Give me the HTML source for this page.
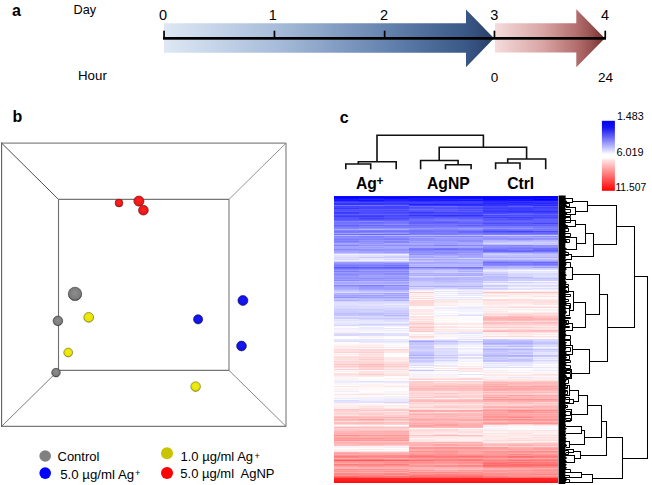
<!DOCTYPE html>
<html><head><meta charset="utf-8"><style>
html,body{margin:0;padding:0;background:#fff;width:652px;height:485px;overflow:hidden}
svg{display:block}
</style></head><body><svg width="652" height="485" viewBox="0 0 652 485"><defs>
<linearGradient id="gb" gradientUnits="userSpaceOnUse" x1="164" y1="0" x2="494" y2="0">
<stop offset="0" stop-color="#dee8f4"/><stop offset="0.33" stop-color="#a9bedb"/>
<stop offset="0.67" stop-color="#6684b0"/><stop offset="0.8" stop-color="#4d6c99"/><stop offset="0.915" stop-color="#3a5886"/><stop offset="1" stop-color="#283f69"/></linearGradient>
<linearGradient id="gr" gradientUnits="userSpaceOnUse" x1="495" y1="0" x2="605" y2="0">
<stop offset="0" stop-color="#f5dcdc"/><stop offset="0.45" stop-color="#d8a2a2"/>
<stop offset="0.74" stop-color="#b46e6e"/><stop offset="0.88" stop-color="#965050"/><stop offset="1" stop-color="#742c2c"/></linearGradient>
<linearGradient id="cb" x1="0" y1="0" x2="0" y2="1">
<stop offset="0" stop-color="#0000ee"/><stop offset="0.1" stop-color="#1515f0"/><stop offset="0.42" stop-color="#d8d8ff"/><stop offset="0.48" stop-color="#ffffff"/><stop offset="0.53" stop-color="#ffffff"/><stop offset="0.56" stop-color="#ffe4e4"/><stop offset="1" stop-color="#ff0000"/></linearGradient>
<radialGradient id="bR" cx="0.5" cy="0.45" r="0.55"><stop offset="0" stop-color="#ff2424"/><stop offset="0.8" stop-color="#f01414"/><stop offset="1" stop-color="#a01010"/></radialGradient>
<radialGradient id="bG" cx="0.5" cy="0.45" r="0.55"><stop offset="0" stop-color="#8e8e8e"/><stop offset="0.8" stop-color="#7a7a7a"/><stop offset="1" stop-color="#444"/></radialGradient>
<radialGradient id="bY" cx="0.5" cy="0.45" r="0.55"><stop offset="0" stop-color="#f2ee10"/><stop offset="0.8" stop-color="#e6e200"/><stop offset="1" stop-color="#8a8410"/></radialGradient>
<radialGradient id="bB" cx="0.5" cy="0.45" r="0.55"><stop offset="0" stop-color="#1a1af5"/><stop offset="0.8" stop-color="#1010e8"/><stop offset="1" stop-color="#10106a"/></radialGradient>
</defs><path d="M164,23.2 H466 V9.4 L494,38.3 L466,67.3 V52.8 H164 Z" fill="url(#gb)"/><path d="M495,23.2 H576.3 V9.3 L604.8,38.2 L576.3,67.3 V52.6 H495 Z" fill="url(#gr)"/><rect x="163" y="37" width="443" height="2.7" fill="#000"/><rect x="163.2" y="30.7" width="1.7" height="7" fill="#000"/><rect x="273.6" y="30.7" width="1.7" height="7" fill="#000"/><rect x="383.8" y="30.7" width="1.7" height="7" fill="#000"/><rect x="493.6" y="30.7" width="1.7" height="7" fill="#000"/><rect x="604.4" y="30.7" width="1.7" height="7" fill="#000"/><text x="12" y="15.6" font-family="Liberation Sans, sans-serif" font-size="16" font-weight="bold" text-anchor="start" fill="#000" >a</text><text x="73.6" y="14.1" font-family="Liberation Sans, sans-serif" font-size="12.7" font-weight="normal" text-anchor="start" fill="#000" >Day</text><text x="78" y="79.6" font-family="Liberation Sans, sans-serif" font-size="13.3" font-weight="normal" text-anchor="start" fill="#000" >Hour</text><text x="163" y="20.1" font-family="Liberation Sans, sans-serif" font-size="14.5" font-weight="normal" text-anchor="middle" fill="#000" >0</text><text x="272.8" y="20.1" font-family="Liberation Sans, sans-serif" font-size="14.5" font-weight="normal" text-anchor="middle" fill="#000" >1</text><text x="384" y="20.1" font-family="Liberation Sans, sans-serif" font-size="14.5" font-weight="normal" text-anchor="middle" fill="#000" >2</text><text x="494.2" y="20.1" font-family="Liberation Sans, sans-serif" font-size="14.5" font-weight="normal" text-anchor="middle" fill="#000" >3</text><text x="605" y="20.1" font-family="Liberation Sans, sans-serif" font-size="14.5" font-weight="normal" text-anchor="middle" fill="#000" >4</text><text x="494.5" y="82.1" font-family="Liberation Sans, sans-serif" font-size="13.5" font-weight="normal" text-anchor="middle" fill="#000" >0</text><text x="605.6" y="82.1" font-family="Liberation Sans, sans-serif" font-size="13.5" font-weight="normal" text-anchor="middle" fill="#000" >24</text><text x="12.6" y="121.8" font-family="Liberation Sans, sans-serif" font-size="16" font-weight="bold" text-anchor="start" fill="#000" >b</text><line x1="1.6" y1="142.6" x2="1.6" y2="426.9" stroke="#5e5e5e" stroke-width="1.1"/><line x1="1.6" y1="143.1" x2="286.0" y2="143.1" stroke="#888" stroke-width="1.1"/><line x1="286.0" y1="143.1" x2="286.0" y2="426.4" stroke="#858585" stroke-width="1.2"/><line x1="1.6" y1="426.4" x2="286.0" y2="426.4" stroke="#7a7a7a" stroke-width="1.2"/><line x1="58.5" y1="199.4" x2="229" y2="199.4" stroke="#767676" stroke-width="1.1"/><line x1="58.5" y1="199.4" x2="58.5" y2="370.4" stroke="#6e6e6e" stroke-width="1.1"/><line x1="229" y1="199.4" x2="229" y2="370.4" stroke="#7a7a7a" stroke-width="1.1"/><line x1="58.5" y1="370.4" x2="229" y2="370.4" stroke="#767676" stroke-width="1.1"/><line x1="1.6" y1="143.1" x2="58.5" y2="199.4" stroke="#505050" stroke-width="1.0"/><line x1="286.0" y1="143.1" x2="229" y2="199.4" stroke="#8a8a8a" stroke-width="0.9"/><line x1="1.6" y1="426.4" x2="58.5" y2="370.4" stroke="#6e6e6e" stroke-width="0.9"/><line x1="286.0" y1="426.4" x2="229" y2="370.4" stroke="#7a7a7a" stroke-width="0.9"/><circle cx="119" cy="203" r="3.90" fill="url(#bR)" stroke="#6a1010" stroke-width="0.7" stroke-opacity="0.8"/><circle cx="138.9" cy="201.1" r="5.10" fill="url(#bR)" stroke="#6a1010" stroke-width="0.7" stroke-opacity="0.8"/><circle cx="143.4" cy="210.2" r="4.90" fill="url(#bR)" stroke="#6a1010" stroke-width="0.7" stroke-opacity="0.8"/><circle cx="75" cy="293.9" r="6.70" fill="url(#bG)" stroke="#2a2a2a" stroke-width="0.7" stroke-opacity="0.8"/><circle cx="57.9" cy="320.9" r="4.80" fill="url(#bG)" stroke="#2a2a2a" stroke-width="0.7" stroke-opacity="0.8"/><circle cx="56" cy="372.6" r="4.30" fill="url(#bG)" stroke="#2a2a2a" stroke-width="0.7" stroke-opacity="0.8"/><circle cx="88.7" cy="317.4" r="4.90" fill="url(#bY)" stroke="#6a6410" stroke-width="0.7" stroke-opacity="0.8"/><circle cx="68.2" cy="352.5" r="4.40" fill="url(#bY)" stroke="#6a6410" stroke-width="0.7" stroke-opacity="0.8"/><circle cx="195.6" cy="386.6" r="4.80" fill="url(#bY)" stroke="#6a6410" stroke-width="0.7" stroke-opacity="0.8"/><circle cx="242.9" cy="300.5" r="5.00" fill="url(#bB)" stroke="#101050" stroke-width="0.7" stroke-opacity="0.8"/><circle cx="198.1" cy="319.3" r="4.60" fill="url(#bB)" stroke="#101050" stroke-width="0.7" stroke-opacity="0.8"/><circle cx="241.5" cy="346" r="4.90" fill="url(#bB)" stroke="#101050" stroke-width="0.7" stroke-opacity="0.8"/><circle cx="45.2" cy="456" r="5.8" fill="#808080"/><circle cx="45.2" cy="473.1" r="5.8" fill="#0000ff"/><circle cx="167" cy="453.3" r="6" fill="#c8c400"/><circle cx="167" cy="472.9" r="6" fill="#ff0000"/><text x="57.5" y="460.6" font-family="Liberation Sans, sans-serif" font-size="13" font-weight="normal" text-anchor="start" fill="#000" >Control</text><text x="60.2" y="478.8" font-family="Liberation Sans, sans-serif" font-size="13.25" font-weight="normal" text-anchor="start" fill="#000" >5.0 µg/ml Ag</text><text x="135.1" y="475.9" font-family="Liberation Sans, sans-serif" font-size="9.2" font-weight="normal" text-anchor="start" fill="#000" >+</text><text x="180.5" y="460.6" font-family="Liberation Sans, sans-serif" font-size="13" font-weight="normal" text-anchor="start" fill="#000" >1.0 µg/ml Ag</text><text x="254.4" y="458.9" font-family="Liberation Sans, sans-serif" font-size="9.2" font-weight="normal" text-anchor="start" fill="#000" >+</text><text x="180.3" y="478.2" font-family="Liberation Sans, sans-serif" font-size="13" font-weight="normal" text-anchor="start" fill="#000" >5.0 µg/ml&#160; AgNP</text><text x="339.8" y="122.8" font-family="Liberation Sans, sans-serif" font-size="16" font-weight="bold" text-anchor="start" fill="#000" >c</text><text x="356" y="189.3" font-family="Liberation Sans, sans-serif" font-size="15.7" font-weight="bold" text-anchor="start" fill="#000" >Ag</text><text x="376.6" y="184.8" font-family="Liberation Sans, sans-serif" font-size="12" font-weight="bold" text-anchor="start" fill="#000" >+</text><text x="427" y="189.3" font-family="Liberation Sans, sans-serif" font-size="15.7" font-weight="bold" text-anchor="start" fill="#000" >AgNP</text><text x="507.2" y="189.3" font-family="Liberation Sans, sans-serif" font-size="15.7" font-weight="bold" text-anchor="start" fill="#000" >Ctrl</text><path d="M377,161.7 V135.2 H483.4 V147.3 M358.3,164 V161.7 H396.2 V168.5 M345.8,168.5 V164 H370.7 V168.5 M377,161.7 L377,161.7 M439.2,160.5 V147.3 H526.6 V159 M420.6,168.5 V160.5 H458.1 V164.8 M445.5,168.5 V164.8 H471.1 V168.5 M507.7,163 V159 H545.7 V168.5 M495.6,168.5 V163 H520 V168.5" stroke="#111" stroke-width="1.6" fill="none" stroke-linecap="square"/><g shape-rendering="crispEdges"><rect x="334.0" y="195.8" width="25.2" height="1.2" fill="#0c0cff"/><rect x="334.0" y="196.8" width="25.2" height="1.2" fill="#0000ff"/><rect x="334.0" y="197.8" width="25.2" height="1.2" fill="#0d0dff"/><rect x="334.0" y="198.8" width="25.2" height="1.2" fill="#1919ff"/><rect x="334.0" y="199.8" width="25.2" height="1.2" fill="#1616ff"/><rect x="334.0" y="200.8" width="25.2" height="1.2" fill="#3737ff"/><rect x="334.0" y="201.8" width="25.2" height="1.2" fill="#4c4cff"/><rect x="334.0" y="202.8" width="25.2" height="1.2" fill="#3636ff"/><rect x="334.0" y="203.8" width="25.2" height="1.2" fill="#3232ff"/><rect x="334.0" y="204.8" width="25.2" height="1.2" fill="#7070ff"/><rect x="334.0" y="205.8" width="25.2" height="1.2" fill="#4343ff"/><rect x="334.0" y="206.8" width="25.2" height="1.2" fill="#4747ff"/><rect x="334.0" y="207.8" width="25.2" height="1.2" fill="#3737ff"/><rect x="334.0" y="208.8" width="25.2" height="1.2" fill="#5555ff"/><rect x="334.0" y="209.8" width="25.2" height="1.2" fill="#4b4bff"/><rect x="334.0" y="210.8" width="25.2" height="1.2" fill="#5959ff"/><rect x="334.0" y="211.8" width="25.2" height="1.2" fill="#3a3aff"/><rect x="334.0" y="212.8" width="25.2" height="1.2" fill="#4040ff"/><rect x="334.0" y="213.8" width="25.2" height="1.2" fill="#5e5eff"/><rect x="334.0" y="214.8" width="25.2" height="1.2" fill="#4646ff"/><rect x="334.0" y="215.8" width="25.2" height="1.2" fill="#3d3dff"/><rect x="334.0" y="216.8" width="25.2" height="2.2" fill="#5353ff"/><rect x="334.0" y="218.8" width="25.2" height="1.2" fill="#5555ff"/><rect x="334.0" y="219.8" width="25.2" height="1.2" fill="#6161ff"/><rect x="334.0" y="220.8" width="25.2" height="1.2" fill="#7f7fff"/><rect x="334.0" y="221.8" width="25.2" height="1.2" fill="#7373ff"/><rect x="334.0" y="222.8" width="25.2" height="1.2" fill="#7272ff"/><rect x="334.0" y="223.8" width="25.2" height="1.2" fill="#7878ff"/><rect x="334.0" y="224.8" width="25.2" height="1.2" fill="#6363ff"/><rect x="334.0" y="225.8" width="25.2" height="1.2" fill="#7070ff"/><rect x="334.0" y="226.8" width="25.2" height="1.2" fill="#7f7fff"/><rect x="334.0" y="227.8" width="25.2" height="1.2" fill="#8383ff"/><rect x="334.0" y="228.8" width="25.2" height="1.2" fill="#a9a9ff"/><rect x="334.0" y="229.8" width="25.2" height="1.2" fill="#8282ff"/><rect x="334.0" y="230.8" width="25.2" height="1.2" fill="#7575ff"/><rect x="334.0" y="231.8" width="25.2" height="1.2" fill="#7b7bff"/><rect x="334.0" y="232.8" width="25.2" height="1.2" fill="#a0a0ff"/><rect x="334.0" y="233.8" width="25.2" height="1.2" fill="#6e6eff"/><rect x="334.0" y="234.8" width="25.2" height="1.2" fill="#bbbbff"/><rect x="334.0" y="235.8" width="25.2" height="1.2" fill="#8787ff"/><rect x="334.0" y="236.8" width="25.2" height="1.2" fill="#8d8dff"/><rect x="334.0" y="237.8" width="25.2" height="1.2" fill="#8888ff"/><rect x="334.0" y="238.8" width="25.2" height="1.2" fill="#7c7cff"/><rect x="334.0" y="239.8" width="25.2" height="1.2" fill="#8989ff"/><rect x="334.0" y="240.8" width="25.2" height="1.2" fill="#7b7bff"/><rect x="334.0" y="241.8" width="25.2" height="1.2" fill="#8d8dff"/><rect x="334.0" y="242.8" width="25.2" height="1.2" fill="#a6a6ff"/><rect x="334.0" y="243.8" width="25.2" height="1.2" fill="#a1a1ff"/><rect x="334.0" y="244.8" width="25.2" height="1.2" fill="#8282ff"/><rect x="334.0" y="245.8" width="25.2" height="1.2" fill="#a6a6ff"/><rect x="334.0" y="246.8" width="25.2" height="1.2" fill="#a3a3ff"/><rect x="334.0" y="247.8" width="25.2" height="1.2" fill="#a1a1ff"/><rect x="334.0" y="248.8" width="25.2" height="1.2" fill="#8a8aff"/><rect x="334.0" y="249.8" width="25.2" height="1.2" fill="#9c9cff"/><rect x="334.0" y="250.8" width="25.2" height="1.2" fill="#a6a6ff"/><rect x="334.0" y="251.8" width="25.2" height="1.2" fill="#a9a9ff"/><rect x="334.0" y="252.8" width="25.2" height="1.2" fill="#c9c9ff"/><rect x="334.0" y="253.8" width="25.2" height="1.2" fill="#f1f1ff"/><rect x="334.0" y="254.8" width="25.2" height="1.2" fill="#e4e4ff"/><rect x="334.0" y="255.8" width="25.2" height="1.2" fill="#e3e3ff"/><rect x="334.0" y="256.8" width="25.2" height="1.2" fill="#d7d7ff"/><rect x="334.0" y="257.8" width="25.2" height="1.2" fill="#e1e1ff"/><rect x="334.0" y="258.8" width="25.2" height="1.2" fill="#d4d4ff"/><rect x="334.0" y="259.8" width="25.2" height="1.2" fill="#f3f3ff"/><rect x="334.0" y="260.8" width="25.2" height="1.2" fill="#d1d1ff"/><rect x="334.0" y="261.8" width="25.2" height="1.2" fill="#a0a0ff"/><rect x="334.0" y="262.8" width="25.2" height="1.2" fill="#9393ff"/><rect x="334.0" y="263.8" width="25.2" height="1.2" fill="#8888ff"/><rect x="334.0" y="264.8" width="25.2" height="1.2" fill="#7878ff"/><rect x="334.0" y="265.8" width="25.2" height="1.2" fill="#8282ff"/><rect x="334.0" y="266.8" width="25.2" height="1.2" fill="#5858ff"/><rect x="334.0" y="267.8" width="25.2" height="1.2" fill="#6f6fff"/><rect x="334.0" y="268.8" width="25.2" height="1.2" fill="#8484ff"/><rect x="334.0" y="269.8" width="25.2" height="1.2" fill="#9898ff"/><rect x="334.0" y="270.8" width="25.2" height="1.2" fill="#7a7aff"/><rect x="334.0" y="271.8" width="25.2" height="1.2" fill="#9b9bff"/><rect x="334.0" y="272.8" width="25.2" height="1.2" fill="#8f8fff"/><rect x="334.0" y="273.8" width="25.2" height="1.2" fill="#8989ff"/><rect x="334.0" y="274.8" width="25.2" height="1.2" fill="#9191ff"/><rect x="334.0" y="275.8" width="25.2" height="1.2" fill="#9c9cff"/><rect x="334.0" y="276.8" width="25.2" height="1.2" fill="#9696ff"/><rect x="334.0" y="277.8" width="25.2" height="1.2" fill="#9191ff"/><rect x="334.0" y="278.8" width="25.2" height="1.2" fill="#9d9dff"/><rect x="334.0" y="279.8" width="25.2" height="1.2" fill="#8989ff"/><rect x="334.0" y="280.8" width="25.2" height="1.2" fill="#babaff"/><rect x="334.0" y="281.8" width="25.2" height="1.2" fill="#a5a5ff"/><rect x="334.0" y="282.8" width="25.2" height="1.2" fill="#aaaaff"/><rect x="334.0" y="283.8" width="25.2" height="1.2" fill="#b6b6ff"/><rect x="334.0" y="284.8" width="25.2" height="1.2" fill="#8585ff"/><rect x="334.0" y="285.8" width="25.2" height="1.2" fill="#9d9dff"/><rect x="334.0" y="286.8" width="25.2" height="1.2" fill="#a7a7ff"/><rect x="334.0" y="287.8" width="25.2" height="1.2" fill="#a8a8ff"/><rect x="334.0" y="288.8" width="25.2" height="1.2" fill="#b1b1ff"/><rect x="334.0" y="289.8" width="25.2" height="1.2" fill="#c3c3ff"/><rect x="334.0" y="290.8" width="25.2" height="1.2" fill="#ccccff"/><rect x="334.0" y="291.8" width="25.2" height="1.2" fill="#dcdcff"/><rect x="334.0" y="292.8" width="25.2" height="1.2" fill="#b1b1ff"/><rect x="334.0" y="293.8" width="25.2" height="1.2" fill="#b4b4ff"/><rect x="334.0" y="294.8" width="25.2" height="1.2" fill="#a1a1ff"/><rect x="334.0" y="295.8" width="25.2" height="1.2" fill="#aaaaff"/><rect x="334.0" y="296.8" width="25.2" height="1.2" fill="#9090ff"/><rect x="334.0" y="297.8" width="25.2" height="1.2" fill="#c4c4ff"/><rect x="334.0" y="298.8" width="25.2" height="1.2" fill="#c0c0ff"/><rect x="334.0" y="299.8" width="25.2" height="1.2" fill="#b2b2ff"/><rect x="334.0" y="300.8" width="25.2" height="1.2" fill="#d3d3ff"/><rect x="334.0" y="301.8" width="25.2" height="2.2" fill="#dfdfff"/><rect x="334.0" y="303.8" width="25.2" height="1.2" fill="#e0e0ff"/><rect x="334.0" y="304.8" width="25.2" height="1.2" fill="#dedeff"/><rect x="334.0" y="305.8" width="25.2" height="1.2" fill="#d8d8ff"/><rect x="334.0" y="306.8" width="25.2" height="1.2" fill="#ddddff"/><rect x="334.0" y="307.8" width="25.2" height="1.2" fill="#d5d5ff"/><rect x="334.0" y="308.8" width="25.2" height="1.2" fill="#ccccff"/><rect x="334.0" y="309.8" width="25.2" height="1.2" fill="#d2d2ff"/><rect x="334.0" y="310.8" width="25.2" height="2.2" fill="#cbcbff"/><rect x="334.0" y="312.8" width="25.2" height="1.2" fill="#c0c0ff"/><rect x="334.0" y="313.8" width="25.2" height="1.2" fill="#c2c2ff"/><rect x="334.0" y="314.8" width="25.2" height="1.2" fill="#c5c5ff"/><rect x="334.0" y="315.8" width="25.2" height="1.2" fill="#e0e0ff"/><rect x="334.0" y="316.8" width="25.2" height="2.2" fill="#cfcfff"/><rect x="334.0" y="318.8" width="25.2" height="1.2" fill="#e7e7ff"/><rect x="334.0" y="319.8" width="25.2" height="1.2" fill="#e2e2ff"/><rect x="334.0" y="320.8" width="25.2" height="1.2" fill="#ececff"/><rect x="334.0" y="321.8" width="25.2" height="1.2" fill="#e9e9ff"/><rect x="334.0" y="322.8" width="25.2" height="1.2" fill="#e8e8ff"/><rect x="334.0" y="323.8" width="25.2" height="1.2" fill="#e2e2ff"/><rect x="334.0" y="324.8" width="25.2" height="1.2" fill="#d7d7ff"/><rect x="334.0" y="325.8" width="25.2" height="1.2" fill="#f7f7ff"/><rect x="334.0" y="326.8" width="25.2" height="1.2" fill="#fafaff"/><rect x="334.0" y="327.8" width="25.2" height="1.2" fill="#efefff"/><rect x="334.0" y="328.8" width="25.2" height="1.2" fill="#f3f3ff"/><rect x="334.0" y="329.8" width="25.2" height="1.2" fill="#f6f6ff"/><rect x="334.0" y="330.8" width="25.2" height="1.2" fill="#f4f4ff"/><rect x="334.0" y="331.8" width="25.2" height="1.2" fill="#ffeded"/><rect x="334.0" y="332.8" width="25.2" height="1.2" fill="#ddddff"/><rect x="334.0" y="333.8" width="25.2" height="1.2" fill="#d9d9ff"/><rect x="334.0" y="334.8" width="25.2" height="1.2" fill="#d7d7ff"/><rect x="334.0" y="335.8" width="25.2" height="1.2" fill="#fffafa"/><rect x="334.0" y="336.8" width="25.2" height="1.2" fill="#ffffff"/><rect x="334.0" y="337.8" width="25.2" height="1.2" fill="#fcfcff"/><rect x="334.0" y="338.8" width="25.2" height="1.2" fill="#eaeaff"/><rect x="334.0" y="339.8" width="25.2" height="1.2" fill="#e6e6ff"/><rect x="334.0" y="340.8" width="25.2" height="1.2" fill="#ddddff"/><rect x="334.0" y="341.8" width="25.2" height="1.2" fill="#ffffff"/><rect x="334.0" y="342.8" width="25.2" height="1.2" fill="#fff9f9"/><rect x="334.0" y="343.8" width="25.2" height="1.2" fill="#fff6f6"/><rect x="334.0" y="344.8" width="25.2" height="1.2" fill="#fff1f1"/><rect x="334.0" y="345.8" width="25.2" height="1.2" fill="#ffeaea"/><rect x="334.0" y="346.8" width="25.2" height="1.2" fill="#ffeded"/><rect x="334.0" y="347.8" width="25.2" height="1.2" fill="#fff0f0"/><rect x="334.0" y="348.8" width="25.2" height="1.2" fill="#ffd9d9"/><rect x="334.0" y="349.8" width="25.2" height="1.2" fill="#ffdddd"/><rect x="334.0" y="350.8" width="25.2" height="1.2" fill="#ffdfdf"/><rect x="334.0" y="351.8" width="25.2" height="1.2" fill="#ffd2d2"/><rect x="334.0" y="352.8" width="25.2" height="1.2" fill="#fff9f9"/><rect x="334.0" y="353.8" width="25.2" height="1.2" fill="#ffe9e9"/><rect x="334.0" y="354.8" width="25.2" height="1.2" fill="#fff7f7"/><rect x="334.0" y="355.8" width="25.2" height="1.2" fill="#ffe3e3"/><rect x="334.0" y="356.8" width="25.2" height="1.2" fill="#ffd8d8"/><rect x="334.0" y="357.8" width="25.2" height="1.2" fill="#ffe4e4"/><rect x="334.0" y="358.8" width="25.2" height="1.2" fill="#ffdede"/><rect x="334.0" y="359.8" width="25.2" height="1.2" fill="#ffe8e8"/><rect x="334.0" y="360.8" width="25.2" height="1.2" fill="#ffd1d1"/><rect x="334.0" y="361.8" width="25.2" height="1.2" fill="#ffdddd"/><rect x="334.0" y="362.8" width="25.2" height="1.2" fill="#ffdbdb"/><rect x="334.0" y="363.8" width="25.2" height="1.2" fill="#ffc4c4"/><rect x="334.0" y="364.8" width="25.2" height="1.2" fill="#ffdbdb"/><rect x="334.0" y="365.8" width="25.2" height="1.2" fill="#ffcbcb"/><rect x="334.0" y="366.8" width="25.2" height="1.2" fill="#ffdddd"/><rect x="334.0" y="367.8" width="25.2" height="1.2" fill="#fff1f1"/><rect x="334.0" y="368.8" width="25.2" height="1.2" fill="#ffcece"/><rect x="334.0" y="369.8" width="25.2" height="1.2" fill="#f7f7ff"/><rect x="334.0" y="370.8" width="25.2" height="1.2" fill="#ffefef"/><rect x="334.0" y="371.8" width="25.2" height="1.2" fill="#fff9f9"/><rect x="334.0" y="372.8" width="25.2" height="1.2" fill="#ffe1e1"/><rect x="334.0" y="373.8" width="25.2" height="1.2" fill="#ffdede"/><rect x="334.0" y="374.8" width="25.2" height="1.2" fill="#ffe6e6"/><rect x="334.0" y="375.8" width="25.2" height="1.2" fill="#ffeded"/><rect x="334.0" y="376.8" width="25.2" height="1.2" fill="#f7f7ff"/><rect x="334.0" y="377.8" width="25.2" height="1.2" fill="#fff5f5"/><rect x="334.0" y="378.8" width="25.2" height="1.2" fill="#fff1f1"/><rect x="334.0" y="379.8" width="25.2" height="1.2" fill="#f4f4ff"/><rect x="334.0" y="380.8" width="25.2" height="1.2" fill="#e9e9ff"/><rect x="334.0" y="381.8" width="25.2" height="1.2" fill="#efefff"/><rect x="334.0" y="382.8" width="25.2" height="1.2" fill="#fff7f7"/><rect x="334.0" y="383.8" width="25.2" height="1.2" fill="#fff4f4"/><rect x="334.0" y="384.8" width="25.2" height="1.2" fill="#ffffff"/><rect x="334.0" y="385.8" width="25.2" height="1.2" fill="#ffe6e6"/><rect x="334.0" y="386.8" width="25.2" height="1.2" fill="#fffbfb"/><rect x="334.0" y="387.8" width="25.2" height="1.2" fill="#fff6f6"/><rect x="334.0" y="388.8" width="25.2" height="1.2" fill="#fff0f0"/><rect x="334.0" y="389.8" width="25.2" height="1.2" fill="#fff8f8"/><rect x="334.0" y="390.8" width="25.2" height="1.2" fill="#eeeeff"/><rect x="334.0" y="391.8" width="25.2" height="2.2" fill="#fffafa"/><rect x="334.0" y="393.8" width="25.2" height="1.2" fill="#ffe2e2"/><rect x="334.0" y="394.8" width="25.2" height="1.2" fill="#fcfcff"/><rect x="334.0" y="395.8" width="25.2" height="1.2" fill="#f7f7ff"/><rect x="334.0" y="396.8" width="25.2" height="1.2" fill="#fff6f6"/><rect x="334.0" y="397.8" width="25.2" height="1.2" fill="#e9e9ff"/><rect x="334.0" y="398.8" width="25.2" height="1.2" fill="#f9f9ff"/><rect x="334.0" y="399.8" width="25.2" height="1.2" fill="#dcdcff"/><rect x="334.0" y="400.8" width="25.2" height="2.2" fill="#e3e3ff"/><rect x="334.0" y="402.8" width="25.2" height="1.2" fill="#ffefef"/><rect x="334.0" y="403.8" width="25.2" height="1.2" fill="#fff5f5"/><rect x="334.0" y="404.8" width="25.2" height="1.2" fill="#ffecec"/><rect x="334.0" y="405.8" width="25.2" height="1.2" fill="#fff3f3"/><rect x="334.0" y="406.8" width="25.2" height="1.2" fill="#ffe9e9"/><rect x="334.0" y="407.8" width="25.2" height="1.2" fill="#ffecec"/><rect x="334.0" y="408.8" width="25.2" height="1.2" fill="#ffc4c4"/><rect x="334.0" y="409.8" width="25.2" height="1.2" fill="#ffd0d0"/><rect x="334.0" y="410.8" width="25.2" height="1.2" fill="#ffd2d2"/><rect x="334.0" y="411.8" width="25.2" height="1.2" fill="#ffdcdc"/><rect x="334.0" y="412.8" width="25.2" height="1.2" fill="#ffd1d1"/><rect x="334.0" y="413.8" width="25.2" height="1.2" fill="#ffdada"/><rect x="334.0" y="414.8" width="25.2" height="1.2" fill="#ffe1e1"/><rect x="334.0" y="415.8" width="25.2" height="1.2" fill="#ffc1c1"/><rect x="334.0" y="416.8" width="25.2" height="1.2" fill="#ffb4b4"/><rect x="334.0" y="417.8" width="25.2" height="1.2" fill="#ffc3c3"/><rect x="334.0" y="418.8" width="25.2" height="1.2" fill="#ffaeae"/><rect x="334.0" y="419.8" width="25.2" height="1.2" fill="#ffc0c0"/><rect x="334.0" y="420.8" width="25.2" height="1.2" fill="#ffdcdc"/><rect x="334.0" y="421.8" width="25.2" height="1.2" fill="#ffc2c2"/><rect x="334.0" y="422.8" width="25.2" height="1.2" fill="#ffbbbb"/><rect x="334.0" y="423.8" width="25.2" height="1.2" fill="#ffd7d7"/><rect x="334.0" y="424.8" width="25.2" height="1.2" fill="#fffbfb"/><rect x="334.0" y="425.8" width="25.2" height="1.2" fill="#ffe0e0"/><rect x="334.0" y="426.8" width="25.2" height="1.2" fill="#ffbbbb"/><rect x="334.0" y="427.8" width="25.2" height="1.2" fill="#ffcfcf"/><rect x="334.0" y="428.8" width="25.2" height="1.2" fill="#ffcaca"/><rect x="334.0" y="429.8" width="25.2" height="1.2" fill="#ffc5c5"/><rect x="334.0" y="430.8" width="25.2" height="1.2" fill="#ffb7b7"/><rect x="334.0" y="431.8" width="25.2" height="1.2" fill="#ffb5b5"/><rect x="334.0" y="432.8" width="25.2" height="1.2" fill="#ffadad"/><rect x="334.0" y="433.8" width="25.2" height="1.2" fill="#ffb7b7"/><rect x="334.0" y="434.8" width="25.2" height="1.2" fill="#ff8f8f"/><rect x="334.0" y="435.8" width="25.2" height="1.2" fill="#ffadad"/><rect x="334.0" y="436.8" width="25.2" height="1.2" fill="#ffa6a6"/><rect x="334.0" y="437.8" width="25.2" height="1.2" fill="#ff9999"/><rect x="334.0" y="438.8" width="25.2" height="1.2" fill="#ffa1a1"/><rect x="334.0" y="439.8" width="25.2" height="1.2" fill="#ff9696"/><rect x="334.0" y="440.8" width="25.2" height="1.2" fill="#ffbdbd"/><rect x="334.0" y="441.8" width="25.2" height="1.2" fill="#ffb0b0"/><rect x="334.0" y="442.8" width="25.2" height="1.2" fill="#ffb4b4"/><rect x="334.0" y="443.8" width="25.2" height="1.2" fill="#ffbaba"/><rect x="334.0" y="444.8" width="25.2" height="1.2" fill="#ffc0c0"/><rect x="334.0" y="445.8" width="25.2" height="1.2" fill="#f1f1ff"/><rect x="334.0" y="446.8" width="25.2" height="1.2" fill="#fff4f4"/><rect x="334.0" y="447.8" width="25.2" height="1.2" fill="#fffefe"/><rect x="334.0" y="448.8" width="25.2" height="1.2" fill="#ffefef"/><rect x="334.0" y="449.8" width="25.2" height="1.2" fill="#fff4f4"/><rect x="334.0" y="450.8" width="25.2" height="1.2" fill="#ffe1e1"/><rect x="334.0" y="451.8" width="25.2" height="1.2" fill="#ffb0b0"/><rect x="334.0" y="452.8" width="25.2" height="1.2" fill="#ff9c9c"/><rect x="334.0" y="453.8" width="25.2" height="1.2" fill="#ffafaf"/><rect x="334.0" y="454.8" width="25.2" height="1.2" fill="#ff9393"/><rect x="334.0" y="455.8" width="25.2" height="1.2" fill="#ff7b7b"/><rect x="334.0" y="456.8" width="25.2" height="1.2" fill="#ff8686"/><rect x="334.0" y="457.8" width="25.2" height="1.2" fill="#ffa6a6"/><rect x="334.0" y="458.8" width="25.2" height="1.2" fill="#ff8787"/><rect x="334.0" y="459.8" width="25.2" height="1.2" fill="#ff5757"/><rect x="334.0" y="460.8" width="25.2" height="1.2" fill="#ff9393"/><rect x="334.0" y="461.8" width="25.2" height="1.2" fill="#ff9595"/><rect x="334.0" y="462.8" width="25.2" height="1.2" fill="#ffa8a8"/><rect x="334.0" y="463.8" width="25.2" height="1.2" fill="#ff7c7c"/><rect x="334.0" y="464.8" width="25.2" height="1.2" fill="#ff8d8d"/><rect x="334.0" y="465.8" width="25.2" height="1.2" fill="#ffa3a3"/><rect x="334.0" y="466.8" width="25.2" height="1.2" fill="#ffb6b6"/><rect x="334.0" y="467.8" width="25.2" height="1.2" fill="#ffb5b5"/><rect x="334.0" y="468.8" width="25.2" height="1.2" fill="#ff8e8e"/><rect x="334.0" y="469.8" width="25.2" height="1.2" fill="#ff9c9c"/><rect x="334.0" y="470.8" width="25.2" height="1.2" fill="#ff9696"/><rect x="334.0" y="471.8" width="25.2" height="1.2" fill="#ffabab"/><rect x="334.0" y="472.8" width="25.2" height="1.2" fill="#ff8989"/><rect x="334.0" y="473.8" width="25.2" height="1.2" fill="#ff8787"/><rect x="334.0" y="474.8" width="25.2" height="1.2" fill="#ff9393"/><rect x="334.0" y="475.8" width="25.2" height="1.2" fill="#ff6a6a"/><rect x="334.0" y="476.8" width="25.2" height="1.2" fill="#ff5252"/><rect x="334.0" y="477.8" width="25.2" height="1.2" fill="#ff2525"/><rect x="334.0" y="478.8" width="25.2" height="1.2" fill="#ff2020"/><rect x="334.0" y="479.8" width="25.2" height="1.2" fill="#ff1b1b"/><rect x="334.0" y="480.8" width="25.2" height="1.2" fill="#ff1515"/><rect x="334.0" y="481.8" width="25.2" height="1.2" fill="#ff1010"/><rect x="358.9" y="195.8" width="25.2" height="1.2" fill="#1010ff"/><rect x="358.9" y="196.8" width="25.2" height="1.2" fill="#0000ff"/><rect x="358.9" y="197.8" width="25.2" height="1.2" fill="#1717ff"/><rect x="358.9" y="198.8" width="25.2" height="1.2" fill="#2424ff"/><rect x="358.9" y="199.8" width="25.2" height="1.2" fill="#1313ff"/><rect x="358.9" y="200.8" width="25.2" height="1.2" fill="#2d2dff"/><rect x="358.9" y="201.8" width="25.2" height="1.2" fill="#4646ff"/><rect x="358.9" y="202.8" width="25.2" height="2.2" fill="#3636ff"/><rect x="358.9" y="204.8" width="25.2" height="1.2" fill="#7070ff"/><rect x="358.9" y="205.8" width="25.2" height="1.2" fill="#4949ff"/><rect x="358.9" y="206.8" width="25.2" height="1.2" fill="#4242ff"/><rect x="358.9" y="207.8" width="25.2" height="1.2" fill="#4343ff"/><rect x="358.9" y="208.8" width="25.2" height="1.2" fill="#5b5bff"/><rect x="358.9" y="209.8" width="25.2" height="1.2" fill="#4848ff"/><rect x="358.9" y="210.8" width="25.2" height="1.2" fill="#5151ff"/><rect x="358.9" y="211.8" width="25.2" height="1.2" fill="#4949ff"/><rect x="358.9" y="212.8" width="25.2" height="1.2" fill="#4e4eff"/><rect x="358.9" y="213.8" width="25.2" height="1.2" fill="#6161ff"/><rect x="358.9" y="214.8" width="25.2" height="1.2" fill="#4444ff"/><rect x="358.9" y="215.8" width="25.2" height="1.2" fill="#3c3cff"/><rect x="358.9" y="216.8" width="25.2" height="1.2" fill="#4f4fff"/><rect x="358.9" y="217.8" width="25.2" height="1.2" fill="#3e3eff"/><rect x="358.9" y="218.8" width="25.2" height="1.2" fill="#4f4fff"/><rect x="358.9" y="219.8" width="25.2" height="1.2" fill="#6363ff"/><rect x="358.9" y="220.8" width="25.2" height="1.2" fill="#8989ff"/><rect x="358.9" y="221.8" width="25.2" height="1.2" fill="#6b6bff"/><rect x="358.9" y="222.8" width="25.2" height="1.2" fill="#7272ff"/><rect x="358.9" y="223.8" width="25.2" height="1.2" fill="#8686ff"/><rect x="358.9" y="224.8" width="25.2" height="1.2" fill="#6363ff"/><rect x="358.9" y="225.8" width="25.2" height="1.2" fill="#8282ff"/><rect x="358.9" y="226.8" width="25.2" height="1.2" fill="#7a7aff"/><rect x="358.9" y="227.8" width="25.2" height="1.2" fill="#9393ff"/><rect x="358.9" y="228.8" width="25.2" height="1.2" fill="#b5b5ff"/><rect x="358.9" y="229.8" width="25.2" height="1.2" fill="#7d7dff"/><rect x="358.9" y="230.8" width="25.2" height="1.2" fill="#7171ff"/><rect x="358.9" y="231.8" width="25.2" height="1.2" fill="#8282ff"/><rect x="358.9" y="232.8" width="25.2" height="1.2" fill="#a5a5ff"/><rect x="358.9" y="233.8" width="25.2" height="1.2" fill="#6464ff"/><rect x="358.9" y="234.8" width="25.2" height="1.2" fill="#b7b7ff"/><rect x="358.9" y="235.8" width="25.2" height="1.2" fill="#8282ff"/><rect x="358.9" y="236.8" width="25.2" height="1.2" fill="#8686ff"/><rect x="358.9" y="237.8" width="25.2" height="1.2" fill="#8989ff"/><rect x="358.9" y="238.8" width="25.2" height="1.2" fill="#8080ff"/><rect x="358.9" y="239.8" width="25.2" height="1.2" fill="#9595ff"/><rect x="358.9" y="240.8" width="25.2" height="1.2" fill="#8b8bff"/><rect x="358.9" y="241.8" width="25.2" height="1.2" fill="#9797ff"/><rect x="358.9" y="242.8" width="25.2" height="1.2" fill="#9494ff"/><rect x="358.9" y="243.8" width="25.2" height="1.2" fill="#a7a7ff"/><rect x="358.9" y="244.8" width="25.2" height="1.2" fill="#9090ff"/><rect x="358.9" y="245.8" width="25.2" height="1.2" fill="#ababff"/><rect x="358.9" y="246.8" width="25.2" height="1.2" fill="#9e9eff"/><rect x="358.9" y="247.8" width="25.2" height="1.2" fill="#a6a6ff"/><rect x="358.9" y="248.8" width="25.2" height="1.2" fill="#9090ff"/><rect x="358.9" y="249.8" width="25.2" height="1.2" fill="#9191ff"/><rect x="358.9" y="250.8" width="25.2" height="1.2" fill="#a4a4ff"/><rect x="358.9" y="251.8" width="25.2" height="1.2" fill="#a2a2ff"/><rect x="358.9" y="252.8" width="25.2" height="1.2" fill="#c6c6ff"/><rect x="358.9" y="253.8" width="25.2" height="1.2" fill="#ededff"/><rect x="358.9" y="254.8" width="25.2" height="1.2" fill="#e1e1ff"/><rect x="358.9" y="255.8" width="25.2" height="1.2" fill="#e0e0ff"/><rect x="358.9" y="256.8" width="25.2" height="1.2" fill="#c8c8ff"/><rect x="358.9" y="257.8" width="25.2" height="2.2" fill="#e6e6ff"/><rect x="358.9" y="259.8" width="25.2" height="1.2" fill="#f2f2ff"/><rect x="358.9" y="260.8" width="25.2" height="1.2" fill="#d4d4ff"/><rect x="358.9" y="261.8" width="25.2" height="1.2" fill="#9b9bff"/><rect x="358.9" y="262.8" width="25.2" height="1.2" fill="#9696ff"/><rect x="358.9" y="263.8" width="25.2" height="1.2" fill="#8787ff"/><rect x="358.9" y="264.8" width="25.2" height="1.2" fill="#7a7aff"/><rect x="358.9" y="265.8" width="25.2" height="1.2" fill="#8888ff"/><rect x="358.9" y="266.8" width="25.2" height="1.2" fill="#6060ff"/><rect x="358.9" y="267.8" width="25.2" height="1.2" fill="#7272ff"/><rect x="358.9" y="268.8" width="25.2" height="1.2" fill="#8787ff"/><rect x="358.9" y="269.8" width="25.2" height="1.2" fill="#a1a1ff"/><rect x="358.9" y="270.8" width="25.2" height="1.2" fill="#8585ff"/><rect x="358.9" y="271.8" width="25.2" height="1.2" fill="#9494ff"/><rect x="358.9" y="272.8" width="25.2" height="1.2" fill="#9393ff"/><rect x="358.9" y="273.8" width="25.2" height="1.2" fill="#9292ff"/><rect x="358.9" y="274.8" width="25.2" height="1.2" fill="#a4a4ff"/><rect x="358.9" y="275.8" width="25.2" height="2.2" fill="#9f9fff"/><rect x="358.9" y="277.8" width="25.2" height="1.2" fill="#8c8cff"/><rect x="358.9" y="278.8" width="25.2" height="1.2" fill="#9d9dff"/><rect x="358.9" y="279.8" width="25.2" height="1.2" fill="#9595ff"/><rect x="358.9" y="280.8" width="25.2" height="1.2" fill="#b7b7ff"/><rect x="358.9" y="281.8" width="25.2" height="1.2" fill="#aaaaff"/><rect x="358.9" y="282.8" width="25.2" height="1.2" fill="#a7a7ff"/><rect x="358.9" y="283.8" width="25.2" height="1.2" fill="#bdbdff"/><rect x="358.9" y="284.8" width="25.2" height="1.2" fill="#7b7bff"/><rect x="358.9" y="285.8" width="25.2" height="1.2" fill="#9494ff"/><rect x="358.9" y="286.8" width="25.2" height="1.2" fill="#9b9bff"/><rect x="358.9" y="287.8" width="25.2" height="1.2" fill="#9c9cff"/><rect x="358.9" y="288.8" width="25.2" height="1.2" fill="#a4a4ff"/><rect x="358.9" y="289.8" width="25.2" height="1.2" fill="#b7b7ff"/><rect x="358.9" y="290.8" width="25.2" height="1.2" fill="#c7c7ff"/><rect x="358.9" y="291.8" width="25.2" height="1.2" fill="#cfcfff"/><rect x="358.9" y="292.8" width="25.2" height="1.2" fill="#aeaeff"/><rect x="358.9" y="293.8" width="25.2" height="1.2" fill="#c0c0ff"/><rect x="358.9" y="294.8" width="25.2" height="1.2" fill="#9e9eff"/><rect x="358.9" y="295.8" width="25.2" height="1.2" fill="#acacff"/><rect x="358.9" y="296.8" width="25.2" height="1.2" fill="#9e9eff"/><rect x="358.9" y="297.8" width="25.2" height="1.2" fill="#babaff"/><rect x="358.9" y="298.8" width="25.2" height="1.2" fill="#bfbfff"/><rect x="358.9" y="299.8" width="25.2" height="1.2" fill="#c0c0ff"/><rect x="358.9" y="300.8" width="25.2" height="1.2" fill="#d2d2ff"/><rect x="358.9" y="301.8" width="25.2" height="1.2" fill="#dcdcff"/><rect x="358.9" y="302.8" width="25.2" height="1.2" fill="#dbdbff"/><rect x="358.9" y="303.8" width="25.2" height="1.2" fill="#e2e2ff"/><rect x="358.9" y="304.8" width="25.2" height="1.2" fill="#e3e3ff"/><rect x="358.9" y="305.8" width="25.2" height="1.2" fill="#d6d6ff"/><rect x="358.9" y="306.8" width="25.2" height="1.2" fill="#ddddff"/><rect x="358.9" y="307.8" width="25.2" height="1.2" fill="#d6d6ff"/><rect x="358.9" y="308.8" width="25.2" height="1.2" fill="#ceceff"/><rect x="358.9" y="309.8" width="25.2" height="1.2" fill="#cfcfff"/><rect x="358.9" y="310.8" width="25.2" height="1.2" fill="#d6d6ff"/><rect x="358.9" y="311.8" width="25.2" height="1.2" fill="#ccccff"/><rect x="358.9" y="312.8" width="25.2" height="1.2" fill="#babaff"/><rect x="358.9" y="313.8" width="25.2" height="1.2" fill="#bfbfff"/><rect x="358.9" y="314.8" width="25.2" height="1.2" fill="#c4c4ff"/><rect x="358.9" y="315.8" width="25.2" height="1.2" fill="#d7d7ff"/><rect x="358.9" y="316.8" width="25.2" height="1.2" fill="#d6d6ff"/><rect x="358.9" y="317.8" width="25.2" height="1.2" fill="#c9c9ff"/><rect x="358.9" y="318.8" width="25.2" height="1.2" fill="#d9d9ff"/><rect x="358.9" y="319.8" width="25.2" height="2.2" fill="#e6e6ff"/><rect x="358.9" y="321.8" width="25.2" height="1.2" fill="#ebebff"/><rect x="358.9" y="322.8" width="25.2" height="1.2" fill="#e3e3ff"/><rect x="358.9" y="323.8" width="25.2" height="1.2" fill="#d3d3ff"/><rect x="358.9" y="324.8" width="25.2" height="1.2" fill="#dcdcff"/><rect x="358.9" y="325.8" width="25.2" height="1.2" fill="#f9f9ff"/><rect x="358.9" y="326.8" width="25.2" height="1.2" fill="#ececff"/><rect x="358.9" y="327.8" width="25.2" height="1.2" fill="#ebebff"/><rect x="358.9" y="328.8" width="25.2" height="1.2" fill="#f1f1ff"/><rect x="358.9" y="329.8" width="25.2" height="1.2" fill="#f0f0ff"/><rect x="358.9" y="330.8" width="25.2" height="1.2" fill="#f8f8ff"/><rect x="358.9" y="331.8" width="25.2" height="1.2" fill="#fff8f8"/><rect x="358.9" y="332.8" width="25.2" height="1.2" fill="#d9d9ff"/><rect x="358.9" y="333.8" width="25.2" height="1.2" fill="#dbdbff"/><rect x="358.9" y="334.8" width="25.2" height="1.2" fill="#ddddff"/><rect x="358.9" y="335.8" width="25.2" height="1.2" fill="#fff4f4"/><rect x="358.9" y="336.8" width="25.2" height="1.2" fill="#f4f4ff"/><rect x="358.9" y="337.8" width="25.2" height="1.2" fill="#fcfcff"/><rect x="358.9" y="338.8" width="25.2" height="1.2" fill="#e5e5ff"/><rect x="358.9" y="339.8" width="25.2" height="1.2" fill="#e8e8ff"/><rect x="358.9" y="340.8" width="25.2" height="1.2" fill="#e5e5ff"/><rect x="358.9" y="341.8" width="25.2" height="1.2" fill="#eaeaff"/><rect x="358.9" y="342.8" width="25.2" height="1.2" fill="#fffbfb"/><rect x="358.9" y="343.8" width="25.2" height="1.2" fill="#fff3f3"/><rect x="358.9" y="344.8" width="25.2" height="1.2" fill="#ffecec"/><rect x="358.9" y="345.8" width="25.2" height="1.2" fill="#fff1f1"/><rect x="358.9" y="346.8" width="25.2" height="1.2" fill="#ffe0e0"/><rect x="358.9" y="347.8" width="25.2" height="1.2" fill="#fffafa"/><rect x="358.9" y="348.8" width="25.2" height="1.2" fill="#ffd3d3"/><rect x="358.9" y="349.8" width="25.2" height="1.2" fill="#ffd9d9"/><rect x="358.9" y="350.8" width="25.2" height="1.2" fill="#ffdada"/><rect x="358.9" y="351.8" width="25.2" height="1.2" fill="#ffcdcd"/><rect x="358.9" y="352.8" width="25.2" height="1.2" fill="#ffe8e8"/><rect x="358.9" y="353.8" width="25.2" height="1.2" fill="#ffdada"/><rect x="358.9" y="354.8" width="25.2" height="1.2" fill="#ffe6e6"/><rect x="358.9" y="355.8" width="25.2" height="1.2" fill="#ffe0e0"/><rect x="358.9" y="356.8" width="25.2" height="1.2" fill="#ffd6d6"/><rect x="358.9" y="357.8" width="25.2" height="1.2" fill="#ffdbdb"/><rect x="358.9" y="358.8" width="25.2" height="1.2" fill="#ffcbcb"/><rect x="358.9" y="359.8" width="25.2" height="1.2" fill="#ffdede"/><rect x="358.9" y="360.8" width="25.2" height="1.2" fill="#ffd8d8"/><rect x="358.9" y="361.8" width="25.2" height="1.2" fill="#ffd6d6"/><rect x="358.9" y="362.8" width="25.2" height="1.2" fill="#ffd2d2"/><rect x="358.9" y="363.8" width="25.2" height="1.2" fill="#ffbaba"/><rect x="358.9" y="364.8" width="25.2" height="1.2" fill="#ffc9c9"/><rect x="358.9" y="365.8" width="25.2" height="1.2" fill="#ffc0c0"/><rect x="358.9" y="366.8" width="25.2" height="1.2" fill="#ffd3d3"/><rect x="358.9" y="367.8" width="25.2" height="1.2" fill="#ffd5d5"/><rect x="358.9" y="368.8" width="25.2" height="1.2" fill="#ffcccc"/><rect x="358.9" y="369.8" width="25.2" height="1.2" fill="#fafaff"/><rect x="358.9" y="370.8" width="25.2" height="1.2" fill="#ffe1e1"/><rect x="358.9" y="371.8" width="25.2" height="1.2" fill="#ffe2e2"/><rect x="358.9" y="372.8" width="25.2" height="1.2" fill="#ffdcdc"/><rect x="358.9" y="373.8" width="25.2" height="1.2" fill="#ffd0d0"/><rect x="358.9" y="374.8" width="25.2" height="1.2" fill="#ffe0e0"/><rect x="358.9" y="375.8" width="25.2" height="1.2" fill="#ffe9e9"/><rect x="358.9" y="376.8" width="25.2" height="1.2" fill="#ffffff"/><rect x="358.9" y="377.8" width="25.2" height="1.2" fill="#fefeff"/><rect x="358.9" y="378.8" width="25.2" height="1.2" fill="#fff9f9"/><rect x="358.9" y="379.8" width="25.2" height="1.2" fill="#ffffff"/><rect x="358.9" y="380.8" width="25.2" height="1.2" fill="#dedeff"/><rect x="358.9" y="381.8" width="25.2" height="1.2" fill="#f1f1ff"/><rect x="358.9" y="382.8" width="25.2" height="1.2" fill="#fff9f9"/><rect x="358.9" y="383.8" width="25.2" height="1.2" fill="#fff2f2"/><rect x="358.9" y="384.8" width="25.2" height="1.2" fill="#fff3f3"/><rect x="358.9" y="385.8" width="25.2" height="1.2" fill="#fff0f0"/><rect x="358.9" y="386.8" width="25.2" height="1.2" fill="#fffafa"/><rect x="358.9" y="387.8" width="25.2" height="1.2" fill="#fff9f9"/><rect x="358.9" y="388.8" width="25.2" height="1.2" fill="#fffafa"/><rect x="358.9" y="389.8" width="25.2" height="1.2" fill="#fffbfb"/><rect x="358.9" y="390.8" width="25.2" height="1.2" fill="#fffdfd"/><rect x="358.9" y="391.8" width="25.2" height="1.2" fill="#fcfcff"/><rect x="358.9" y="392.8" width="25.2" height="1.2" fill="#fff1f1"/><rect x="358.9" y="393.8" width="25.2" height="1.2" fill="#ffe3e3"/><rect x="358.9" y="394.8" width="25.2" height="1.2" fill="#fff7f7"/><rect x="358.9" y="395.8" width="25.2" height="1.2" fill="#f9f9ff"/><rect x="358.9" y="396.8" width="25.2" height="1.2" fill="#fff1f1"/><rect x="358.9" y="397.8" width="25.2" height="1.2" fill="#eeeeff"/><rect x="358.9" y="398.8" width="25.2" height="1.2" fill="#f0f0ff"/><rect x="358.9" y="399.8" width="25.2" height="1.2" fill="#ededff"/><rect x="358.9" y="400.8" width="25.2" height="1.2" fill="#e2e2ff"/><rect x="358.9" y="401.8" width="25.2" height="1.2" fill="#e0e0ff"/><rect x="358.9" y="402.8" width="25.2" height="1.2" fill="#fff9f9"/><rect x="358.9" y="403.8" width="25.2" height="1.2" fill="#fff7f7"/><rect x="358.9" y="404.8" width="25.2" height="1.2" fill="#ffeded"/><rect x="358.9" y="405.8" width="25.2" height="1.2" fill="#ffe3e3"/><rect x="358.9" y="406.8" width="25.2" height="1.2" fill="#ffe8e8"/><rect x="358.9" y="407.8" width="25.2" height="1.2" fill="#ffdbdb"/><rect x="358.9" y="408.8" width="25.2" height="1.2" fill="#ffd7d7"/><rect x="358.9" y="409.8" width="25.2" height="1.2" fill="#ffcaca"/><rect x="358.9" y="410.8" width="25.2" height="1.2" fill="#ffe1e1"/><rect x="358.9" y="411.8" width="25.2" height="1.2" fill="#ffd9d9"/><rect x="358.9" y="412.8" width="25.2" height="1.2" fill="#ffcdcd"/><rect x="358.9" y="413.8" width="25.2" height="1.2" fill="#ffcaca"/><rect x="358.9" y="414.8" width="25.2" height="1.2" fill="#ffd8d8"/><rect x="358.9" y="415.8" width="25.2" height="1.2" fill="#ffc5c5"/><rect x="358.9" y="416.8" width="25.2" height="1.2" fill="#ffb6b6"/><rect x="358.9" y="417.8" width="25.2" height="1.2" fill="#ffc3c3"/><rect x="358.9" y="418.8" width="25.2" height="1.2" fill="#ffa0a0"/><rect x="358.9" y="419.8" width="25.2" height="1.2" fill="#ffbfbf"/><rect x="358.9" y="420.8" width="25.2" height="1.2" fill="#ffd9d9"/><rect x="358.9" y="421.8" width="25.2" height="1.2" fill="#ffb7b7"/><rect x="358.9" y="422.8" width="25.2" height="1.2" fill="#ffbaba"/><rect x="358.9" y="423.8" width="25.2" height="1.2" fill="#ffd4d4"/><rect x="358.9" y="424.8" width="25.2" height="1.2" fill="#fff2f2"/><rect x="358.9" y="425.8" width="25.2" height="1.2" fill="#ffdada"/><rect x="358.9" y="426.8" width="25.2" height="1.2" fill="#ffbebe"/><rect x="358.9" y="427.8" width="25.2" height="1.2" fill="#ffcccc"/><rect x="358.9" y="428.8" width="25.2" height="1.2" fill="#ffcfcf"/><rect x="358.9" y="429.8" width="25.2" height="1.2" fill="#ffc7c7"/><rect x="358.9" y="430.8" width="25.2" height="1.2" fill="#ffafaf"/><rect x="358.9" y="431.8" width="25.2" height="1.2" fill="#ffb6b6"/><rect x="358.9" y="432.8" width="25.2" height="1.2" fill="#ffb0b0"/><rect x="358.9" y="433.8" width="25.2" height="1.2" fill="#ffb4b4"/><rect x="358.9" y="434.8" width="25.2" height="1.2" fill="#ff9a9a"/><rect x="358.9" y="435.8" width="25.2" height="1.2" fill="#ffafaf"/><rect x="358.9" y="436.8" width="25.2" height="1.2" fill="#ffa9a9"/><rect x="358.9" y="437.8" width="25.2" height="1.2" fill="#ff9696"/><rect x="358.9" y="438.8" width="25.2" height="1.2" fill="#ffa4a4"/><rect x="358.9" y="439.8" width="25.2" height="1.2" fill="#ff9898"/><rect x="358.9" y="440.8" width="25.2" height="1.2" fill="#ffc2c2"/><rect x="358.9" y="441.8" width="25.2" height="1.2" fill="#ffb5b5"/><rect x="358.9" y="442.8" width="25.2" height="1.2" fill="#ffadad"/><rect x="358.9" y="443.8" width="25.2" height="1.2" fill="#ffb4b4"/><rect x="358.9" y="444.8" width="25.2" height="1.2" fill="#ffc4c4"/><rect x="358.9" y="445.8" width="25.2" height="1.2" fill="#f4f4ff"/><rect x="358.9" y="446.8" width="25.2" height="1.2" fill="#fff1f1"/><rect x="358.9" y="447.8" width="25.2" height="1.2" fill="#fffdfd"/><rect x="358.9" y="448.8" width="25.2" height="1.2" fill="#ffeded"/><rect x="358.9" y="449.8" width="25.2" height="1.2" fill="#fdfdff"/><rect x="358.9" y="450.8" width="25.2" height="1.2" fill="#ffe3e3"/><rect x="358.9" y="451.8" width="25.2" height="1.2" fill="#ffb8b8"/><rect x="358.9" y="452.8" width="25.2" height="1.2" fill="#ffa6a6"/><rect x="358.9" y="453.8" width="25.2" height="1.2" fill="#ffa8a8"/><rect x="358.9" y="454.8" width="25.2" height="1.2" fill="#ff9191"/><rect x="358.9" y="455.8" width="25.2" height="1.2" fill="#ff8484"/><rect x="358.9" y="456.8" width="25.2" height="1.2" fill="#ff9393"/><rect x="358.9" y="457.8" width="25.2" height="1.2" fill="#ffa5a5"/><rect x="358.9" y="458.8" width="25.2" height="1.2" fill="#ff7c7c"/><rect x="358.9" y="459.8" width="25.2" height="1.2" fill="#ff5b5b"/><rect x="358.9" y="460.8" width="25.2" height="1.2" fill="#ff8e8e"/><rect x="358.9" y="461.8" width="25.2" height="1.2" fill="#ff9a9a"/><rect x="358.9" y="462.8" width="25.2" height="1.2" fill="#ff9d9d"/><rect x="358.9" y="463.8" width="25.2" height="1.2" fill="#ff8484"/><rect x="358.9" y="464.8" width="25.2" height="1.2" fill="#ff8787"/><rect x="358.9" y="465.8" width="25.2" height="1.2" fill="#ff9797"/><rect x="358.9" y="466.8" width="25.2" height="1.2" fill="#ffafaf"/><rect x="358.9" y="467.8" width="25.2" height="1.2" fill="#ffb0b0"/><rect x="358.9" y="468.8" width="25.2" height="1.2" fill="#ff9191"/><rect x="358.9" y="469.8" width="25.2" height="1.2" fill="#ffa5a5"/><rect x="358.9" y="470.8" width="25.2" height="1.2" fill="#ff9696"/><rect x="358.9" y="471.8" width="25.2" height="1.2" fill="#ffaeae"/><rect x="358.9" y="472.8" width="25.2" height="1.2" fill="#ff9191"/><rect x="358.9" y="473.8" width="25.2" height="1.2" fill="#ff8c8c"/><rect x="358.9" y="474.8" width="25.2" height="1.2" fill="#ff8686"/><rect x="358.9" y="475.8" width="25.2" height="1.2" fill="#ff7474"/><rect x="358.9" y="476.8" width="25.2" height="1.2" fill="#ff5c5c"/><rect x="358.9" y="477.8" width="25.2" height="1.2" fill="#ff2525"/><rect x="358.9" y="478.8" width="25.2" height="1.2" fill="#ff2020"/><rect x="358.9" y="479.8" width="25.2" height="1.2" fill="#ff1b1b"/><rect x="358.9" y="480.8" width="25.2" height="1.2" fill="#ff1515"/><rect x="358.9" y="481.8" width="25.2" height="1.2" fill="#ff1010"/><rect x="383.8" y="195.8" width="25.2" height="1.2" fill="#1717ff"/><rect x="383.8" y="196.8" width="25.2" height="1.2" fill="#0000ff"/><rect x="383.8" y="197.8" width="25.2" height="1.2" fill="#0b0bff"/><rect x="383.8" y="198.8" width="25.2" height="1.2" fill="#1e1eff"/><rect x="383.8" y="199.8" width="25.2" height="1.2" fill="#2323ff"/><rect x="383.8" y="200.8" width="25.2" height="1.2" fill="#3535ff"/><rect x="383.8" y="201.8" width="25.2" height="1.2" fill="#4141ff"/><rect x="383.8" y="202.8" width="25.2" height="1.2" fill="#3535ff"/><rect x="383.8" y="203.8" width="25.2" height="1.2" fill="#3e3eff"/><rect x="383.8" y="204.8" width="25.2" height="1.2" fill="#6464ff"/><rect x="383.8" y="205.8" width="25.2" height="2.2" fill="#4242ff"/><rect x="383.8" y="207.8" width="25.2" height="1.2" fill="#4343ff"/><rect x="383.8" y="208.8" width="25.2" height="1.2" fill="#5a5aff"/><rect x="383.8" y="209.8" width="25.2" height="1.2" fill="#4646ff"/><rect x="383.8" y="210.8" width="25.2" height="1.2" fill="#5656ff"/><rect x="383.8" y="211.8" width="25.2" height="1.2" fill="#4343ff"/><rect x="383.8" y="212.8" width="25.2" height="1.2" fill="#5050ff"/><rect x="383.8" y="213.8" width="25.2" height="1.2" fill="#5c5cff"/><rect x="383.8" y="214.8" width="25.2" height="1.2" fill="#4747ff"/><rect x="383.8" y="215.8" width="25.2" height="1.2" fill="#4d4dff"/><rect x="383.8" y="216.8" width="25.2" height="1.2" fill="#5555ff"/><rect x="383.8" y="217.8" width="25.2" height="1.2" fill="#4646ff"/><rect x="383.8" y="218.8" width="25.2" height="1.2" fill="#5858ff"/><rect x="383.8" y="219.8" width="25.2" height="1.2" fill="#6262ff"/><rect x="383.8" y="220.8" width="25.2" height="1.2" fill="#7b7bff"/><rect x="383.8" y="221.8" width="25.2" height="1.2" fill="#7373ff"/><rect x="383.8" y="222.8" width="25.2" height="1.2" fill="#7676ff"/><rect x="383.8" y="223.8" width="25.2" height="1.2" fill="#8e8eff"/><rect x="383.8" y="224.8" width="25.2" height="1.2" fill="#6868ff"/><rect x="383.8" y="225.8" width="25.2" height="1.2" fill="#7b7bff"/><rect x="383.8" y="226.8" width="25.2" height="1.2" fill="#7878ff"/><rect x="383.8" y="227.8" width="25.2" height="1.2" fill="#9797ff"/><rect x="383.8" y="228.8" width="25.2" height="1.2" fill="#acacff"/><rect x="383.8" y="229.8" width="25.2" height="1.2" fill="#7b7bff"/><rect x="383.8" y="230.8" width="25.2" height="1.2" fill="#7474ff"/><rect x="383.8" y="231.8" width="25.2" height="1.2" fill="#8585ff"/><rect x="383.8" y="232.8" width="25.2" height="1.2" fill="#9c9cff"/><rect x="383.8" y="233.8" width="25.2" height="1.2" fill="#6666ff"/><rect x="383.8" y="234.8" width="25.2" height="1.2" fill="#bdbdff"/><rect x="383.8" y="235.8" width="25.2" height="1.2" fill="#8787ff"/><rect x="383.8" y="236.8" width="25.2" height="1.2" fill="#9494ff"/><rect x="383.8" y="237.8" width="25.2" height="1.2" fill="#8282ff"/><rect x="383.8" y="238.8" width="25.2" height="1.2" fill="#7b7bff"/><rect x="383.8" y="239.8" width="25.2" height="1.2" fill="#9797ff"/><rect x="383.8" y="240.8" width="25.2" height="1.2" fill="#8585ff"/><rect x="383.8" y="241.8" width="25.2" height="1.2" fill="#8383ff"/><rect x="383.8" y="242.8" width="25.2" height="1.2" fill="#ababff"/><rect x="383.8" y="243.8" width="25.2" height="1.2" fill="#a3a3ff"/><rect x="383.8" y="244.8" width="25.2" height="1.2" fill="#8d8dff"/><rect x="383.8" y="245.8" width="25.2" height="2.2" fill="#a8a8ff"/><rect x="383.8" y="247.8" width="25.2" height="1.2" fill="#a3a3ff"/><rect x="383.8" y="248.8" width="25.2" height="1.2" fill="#9191ff"/><rect x="383.8" y="249.8" width="25.2" height="1.2" fill="#9797ff"/><rect x="383.8" y="250.8" width="25.2" height="1.2" fill="#9e9eff"/><rect x="383.8" y="251.8" width="25.2" height="1.2" fill="#9d9dff"/><rect x="383.8" y="252.8" width="25.2" height="1.2" fill="#bebeff"/><rect x="383.8" y="253.8" width="25.2" height="1.2" fill="#f2f2ff"/><rect x="383.8" y="254.8" width="25.2" height="1.2" fill="#dedeff"/><rect x="383.8" y="255.8" width="25.2" height="1.2" fill="#d1d1ff"/><rect x="383.8" y="256.8" width="25.2" height="1.2" fill="#cacaff"/><rect x="383.8" y="257.8" width="25.2" height="1.2" fill="#e6e6ff"/><rect x="383.8" y="258.8" width="25.2" height="1.2" fill="#d7d7ff"/><rect x="383.8" y="259.8" width="25.2" height="1.2" fill="#f0f0ff"/><rect x="383.8" y="260.8" width="25.2" height="1.2" fill="#d0d0ff"/><rect x="383.8" y="261.8" width="25.2" height="1.2" fill="#a6a6ff"/><rect x="383.8" y="262.8" width="25.2" height="2.2" fill="#8a8aff"/><rect x="383.8" y="264.8" width="25.2" height="1.2" fill="#7171ff"/><rect x="383.8" y="265.8" width="25.2" height="1.2" fill="#8383ff"/><rect x="383.8" y="266.8" width="25.2" height="1.2" fill="#5d5dff"/><rect x="383.8" y="267.8" width="25.2" height="1.2" fill="#6d6dff"/><rect x="383.8" y="268.8" width="25.2" height="1.2" fill="#8d8dff"/><rect x="383.8" y="269.8" width="25.2" height="1.2" fill="#9c9cff"/><rect x="383.8" y="270.8" width="25.2" height="1.2" fill="#8686ff"/><rect x="383.8" y="271.8" width="25.2" height="1.2" fill="#9b9bff"/><rect x="383.8" y="272.8" width="25.2" height="1.2" fill="#8a8aff"/><rect x="383.8" y="273.8" width="25.2" height="1.2" fill="#8b8bff"/><rect x="383.8" y="274.8" width="25.2" height="1.2" fill="#a2a2ff"/><rect x="383.8" y="275.8" width="25.2" height="1.2" fill="#9c9cff"/><rect x="383.8" y="276.8" width="25.2" height="1.2" fill="#9a9aff"/><rect x="383.8" y="277.8" width="25.2" height="1.2" fill="#8e8eff"/><rect x="383.8" y="278.8" width="25.2" height="1.2" fill="#a1a1ff"/><rect x="383.8" y="279.8" width="25.2" height="1.2" fill="#9393ff"/><rect x="383.8" y="280.8" width="25.2" height="1.2" fill="#b7b7ff"/><rect x="383.8" y="281.8" width="25.2" height="1.2" fill="#a4a4ff"/><rect x="383.8" y="282.8" width="25.2" height="1.2" fill="#a7a7ff"/><rect x="383.8" y="283.8" width="25.2" height="1.2" fill="#bfbfff"/><rect x="383.8" y="284.8" width="25.2" height="1.2" fill="#8686ff"/><rect x="383.8" y="285.8" width="25.2" height="1.2" fill="#a3a3ff"/><rect x="383.8" y="286.8" width="25.2" height="1.2" fill="#a0a0ff"/><rect x="383.8" y="287.8" width="25.2" height="1.2" fill="#9d9dff"/><rect x="383.8" y="288.8" width="25.2" height="1.2" fill="#a0a0ff"/><rect x="383.8" y="289.8" width="25.2" height="1.2" fill="#b7b7ff"/><rect x="383.8" y="290.8" width="25.2" height="1.2" fill="#bdbdff"/><rect x="383.8" y="291.8" width="25.2" height="1.2" fill="#d5d5ff"/><rect x="383.8" y="292.8" width="25.2" height="1.2" fill="#a1a1ff"/><rect x="383.8" y="293.8" width="25.2" height="1.2" fill="#b2b2ff"/><rect x="383.8" y="294.8" width="25.2" height="1.2" fill="#a1a1ff"/><rect x="383.8" y="295.8" width="25.2" height="1.2" fill="#b7b7ff"/><rect x="383.8" y="296.8" width="25.2" height="1.2" fill="#9c9cff"/><rect x="383.8" y="297.8" width="25.2" height="1.2" fill="#b8b8ff"/><rect x="383.8" y="298.8" width="25.2" height="1.2" fill="#c1c1ff"/><rect x="383.8" y="299.8" width="25.2" height="1.2" fill="#afafff"/><rect x="383.8" y="300.8" width="25.2" height="1.2" fill="#d7d7ff"/><rect x="383.8" y="301.8" width="25.2" height="1.2" fill="#dadaff"/><rect x="383.8" y="302.8" width="25.2" height="1.2" fill="#e1e1ff"/><rect x="383.8" y="303.8" width="25.2" height="1.2" fill="#ececff"/><rect x="383.8" y="304.8" width="25.2" height="1.2" fill="#dcdcff"/><rect x="383.8" y="305.8" width="25.2" height="1.2" fill="#e2e2ff"/><rect x="383.8" y="306.8" width="25.2" height="1.2" fill="#dedeff"/><rect x="383.8" y="307.8" width="25.2" height="1.2" fill="#d2d2ff"/><rect x="383.8" y="308.8" width="25.2" height="1.2" fill="#d6d6ff"/><rect x="383.8" y="309.8" width="25.2" height="2.2" fill="#cbcbff"/><rect x="383.8" y="311.8" width="25.2" height="1.2" fill="#cdcdff"/><rect x="383.8" y="312.8" width="25.2" height="1.2" fill="#c0c0ff"/><rect x="383.8" y="313.8" width="25.2" height="1.2" fill="#ccccff"/><rect x="383.8" y="314.8" width="25.2" height="1.2" fill="#b5b5ff"/><rect x="383.8" y="315.8" width="25.2" height="1.2" fill="#d0d0ff"/><rect x="383.8" y="316.8" width="25.2" height="1.2" fill="#dadaff"/><rect x="383.8" y="317.8" width="25.2" height="1.2" fill="#c7c7ff"/><rect x="383.8" y="318.8" width="25.2" height="1.2" fill="#d7d7ff"/><rect x="383.8" y="319.8" width="25.2" height="1.2" fill="#ddddff"/><rect x="383.8" y="320.8" width="25.2" height="1.2" fill="#dfdfff"/><rect x="383.8" y="321.8" width="25.2" height="1.2" fill="#f0f0ff"/><rect x="383.8" y="322.8" width="25.2" height="1.2" fill="#e4e4ff"/><rect x="383.8" y="323.8" width="25.2" height="1.2" fill="#d3d3ff"/><rect x="383.8" y="324.8" width="25.2" height="1.2" fill="#dfdfff"/><rect x="383.8" y="325.8" width="25.2" height="1.2" fill="#f5f5ff"/><rect x="383.8" y="326.8" width="25.2" height="1.2" fill="#fffefe"/><rect x="383.8" y="327.8" width="25.2" height="1.2" fill="#e6e6ff"/><rect x="383.8" y="328.8" width="25.2" height="1.2" fill="#fafaff"/><rect x="383.8" y="329.8" width="25.2" height="1.2" fill="#ebebff"/><rect x="383.8" y="330.8" width="25.2" height="1.2" fill="#f9f9ff"/><rect x="383.8" y="331.8" width="25.2" height="1.2" fill="#fff8f8"/><rect x="383.8" y="332.8" width="25.2" height="1.2" fill="#e0e0ff"/><rect x="383.8" y="333.8" width="25.2" height="1.2" fill="#e1e1ff"/><rect x="383.8" y="334.8" width="25.2" height="1.2" fill="#ddddff"/><rect x="383.8" y="335.8" width="25.2" height="1.2" fill="#fff6f6"/><rect x="383.8" y="336.8" width="25.2" height="2.2" fill="#fefeff"/><rect x="383.8" y="338.8" width="25.2" height="1.2" fill="#e7e7ff"/><rect x="383.8" y="339.8" width="25.2" height="1.2" fill="#efefff"/><rect x="383.8" y="340.8" width="25.2" height="1.2" fill="#e0e0ff"/><rect x="383.8" y="341.8" width="25.2" height="1.2" fill="#f2f2ff"/><rect x="383.8" y="342.8" width="25.2" height="1.2" fill="#f6f6ff"/><rect x="383.8" y="343.8" width="25.2" height="1.2" fill="#fafaff"/><rect x="383.8" y="344.8" width="25.2" height="1.2" fill="#fff9f9"/><rect x="383.8" y="345.8" width="25.2" height="1.2" fill="#fffbfb"/><rect x="383.8" y="346.8" width="25.2" height="1.2" fill="#ffebeb"/><rect x="383.8" y="347.8" width="25.2" height="1.2" fill="#fffdfd"/><rect x="383.8" y="348.8" width="25.2" height="1.2" fill="#ffd6d6"/><rect x="383.8" y="349.8" width="25.2" height="1.2" fill="#ffdddd"/><rect x="383.8" y="350.8" width="25.2" height="1.2" fill="#ffe6e6"/><rect x="383.8" y="351.8" width="25.2" height="1.2" fill="#ffe4e4"/><rect x="383.8" y="352.8" width="25.2" height="1.2" fill="#fdfdff"/><rect x="383.8" y="353.8" width="25.2" height="1.2" fill="#fffbfb"/><rect x="383.8" y="354.8" width="25.2" height="1.2" fill="#fcfcff"/><rect x="383.8" y="355.8" width="25.2" height="1.2" fill="#fffefe"/><rect x="383.8" y="356.8" width="25.2" height="1.2" fill="#ffe8e8"/><rect x="383.8" y="357.8" width="25.2" height="1.2" fill="#ffebeb"/><rect x="383.8" y="358.8" width="25.2" height="1.2" fill="#ffe4e4"/><rect x="383.8" y="359.8" width="25.2" height="1.2" fill="#ffeeee"/><rect x="383.8" y="360.8" width="25.2" height="1.2" fill="#ffe5e5"/><rect x="383.8" y="361.8" width="25.2" height="1.2" fill="#ffdfdf"/><rect x="383.8" y="362.8" width="25.2" height="1.2" fill="#ffdada"/><rect x="383.8" y="363.8" width="25.2" height="1.2" fill="#ffd0d0"/><rect x="383.8" y="364.8" width="25.2" height="1.2" fill="#ffdbdb"/><rect x="383.8" y="365.8" width="25.2" height="1.2" fill="#ffc9c9"/><rect x="383.8" y="366.8" width="25.2" height="1.2" fill="#ffdfdf"/><rect x="383.8" y="367.8" width="25.2" height="1.2" fill="#ffe8e8"/><rect x="383.8" y="368.8" width="25.2" height="1.2" fill="#ffd6d6"/><rect x="383.8" y="369.8" width="25.2" height="1.2" fill="#f6f6ff"/><rect x="383.8" y="370.8" width="25.2" height="1.2" fill="#ffe6e6"/><rect x="383.8" y="371.8" width="25.2" height="1.2" fill="#fff0f0"/><rect x="383.8" y="372.8" width="25.2" height="1.2" fill="#ffe7e7"/><rect x="383.8" y="373.8" width="25.2" height="1.2" fill="#ffe4e4"/><rect x="383.8" y="374.8" width="25.2" height="1.2" fill="#ffdede"/><rect x="383.8" y="375.8" width="25.2" height="1.2" fill="#fffafa"/><rect x="383.8" y="376.8" width="25.2" height="1.2" fill="#ffffff"/><rect x="383.8" y="377.8" width="25.2" height="1.2" fill="#fff1f1"/><rect x="383.8" y="378.8" width="25.2" height="1.2" fill="#fffbfb"/><rect x="383.8" y="379.8" width="25.2" height="1.2" fill="#f8f8ff"/><rect x="383.8" y="380.8" width="25.2" height="1.2" fill="#e9e9ff"/><rect x="383.8" y="381.8" width="25.2" height="1.2" fill="#e8e8ff"/><rect x="383.8" y="382.8" width="25.2" height="1.2" fill="#fff2f2"/><rect x="383.8" y="383.8" width="25.2" height="1.2" fill="#fffafa"/><rect x="383.8" y="384.8" width="25.2" height="1.2" fill="#fff5f5"/><rect x="383.8" y="385.8" width="25.2" height="1.2" fill="#ffe9e9"/><rect x="383.8" y="386.8" width="25.2" height="1.2" fill="#fff7f7"/><rect x="383.8" y="387.8" width="25.2" height="1.2" fill="#fffbfb"/><rect x="383.8" y="388.8" width="25.2" height="1.2" fill="#fffcfc"/><rect x="383.8" y="389.8" width="25.2" height="1.2" fill="#fffefe"/><rect x="383.8" y="390.8" width="25.2" height="1.2" fill="#f5f5ff"/><rect x="383.8" y="391.8" width="25.2" height="1.2" fill="#f8f8ff"/><rect x="383.8" y="392.8" width="25.2" height="1.2" fill="#fff0f0"/><rect x="383.8" y="393.8" width="25.2" height="1.2" fill="#ffecec"/><rect x="383.8" y="394.8" width="25.2" height="1.2" fill="#ffffff"/><rect x="383.8" y="395.8" width="25.2" height="1.2" fill="#f4f4ff"/><rect x="383.8" y="396.8" width="25.2" height="1.2" fill="#fff0f0"/><rect x="383.8" y="397.8" width="25.2" height="1.2" fill="#f0f0ff"/><rect x="383.8" y="398.8" width="25.2" height="1.2" fill="#e8e8ff"/><rect x="383.8" y="399.8" width="25.2" height="1.2" fill="#e9e9ff"/><rect x="383.8" y="400.8" width="25.2" height="1.2" fill="#e6e6ff"/><rect x="383.8" y="401.8" width="25.2" height="1.2" fill="#d6d6ff"/><rect x="383.8" y="402.8" width="25.2" height="1.2" fill="#ffebeb"/><rect x="383.8" y="403.8" width="25.2" height="1.2" fill="#fffbfb"/><rect x="383.8" y="404.8" width="25.2" height="1.2" fill="#ffebeb"/><rect x="383.8" y="405.8" width="25.2" height="1.2" fill="#ffeeee"/><rect x="383.8" y="406.8" width="25.2" height="1.2" fill="#fff3f3"/><rect x="383.8" y="407.8" width="25.2" height="1.2" fill="#ffe6e6"/><rect x="383.8" y="408.8" width="25.2" height="1.2" fill="#ffcbcb"/><rect x="383.8" y="409.8" width="25.2" height="1.2" fill="#ffc9c9"/><rect x="383.8" y="410.8" width="25.2" height="1.2" fill="#ffe5e5"/><rect x="383.8" y="411.8" width="25.2" height="1.2" fill="#ffd6d6"/><rect x="383.8" y="412.8" width="25.2" height="1.2" fill="#ffd8d8"/><rect x="383.8" y="413.8" width="25.2" height="1.2" fill="#ffdbdb"/><rect x="383.8" y="414.8" width="25.2" height="1.2" fill="#ffcccc"/><rect x="383.8" y="415.8" width="25.2" height="1.2" fill="#ffcdcd"/><rect x="383.8" y="416.8" width="25.2" height="1.2" fill="#ffb0b0"/><rect x="383.8" y="417.8" width="25.2" height="1.2" fill="#ffcece"/><rect x="383.8" y="418.8" width="25.2" height="1.2" fill="#ffb3b3"/><rect x="383.8" y="419.8" width="25.2" height="1.2" fill="#ffcaca"/><rect x="383.8" y="420.8" width="25.2" height="1.2" fill="#ffdbdb"/><rect x="383.8" y="421.8" width="25.2" height="1.2" fill="#ffc0c0"/><rect x="383.8" y="422.8" width="25.2" height="1.2" fill="#ffc4c4"/><rect x="383.8" y="423.8" width="25.2" height="1.2" fill="#ffd4d4"/><rect x="383.8" y="424.8" width="25.2" height="1.2" fill="#fafaff"/><rect x="383.8" y="425.8" width="25.2" height="1.2" fill="#ffe5e5"/><rect x="383.8" y="426.8" width="25.2" height="1.2" fill="#ffc2c2"/><rect x="383.8" y="427.8" width="25.2" height="1.2" fill="#ffcdcd"/><rect x="383.8" y="428.8" width="25.2" height="1.2" fill="#ffd1d1"/><rect x="383.8" y="429.8" width="25.2" height="1.2" fill="#ffc3c3"/><rect x="383.8" y="430.8" width="25.2" height="1.2" fill="#ffaeae"/><rect x="383.8" y="431.8" width="25.2" height="2.2" fill="#ffb0b0"/><rect x="383.8" y="433.8" width="25.2" height="1.2" fill="#ffb4b4"/><rect x="383.8" y="434.8" width="25.2" height="1.2" fill="#ff9999"/><rect x="383.8" y="435.8" width="25.2" height="1.2" fill="#ffa9a9"/><rect x="383.8" y="436.8" width="25.2" height="1.2" fill="#ffa6a6"/><rect x="383.8" y="437.8" width="25.2" height="1.2" fill="#ff9d9d"/><rect x="383.8" y="438.8" width="25.2" height="1.2" fill="#ffa7a7"/><rect x="383.8" y="439.8" width="25.2" height="1.2" fill="#ff9595"/><rect x="383.8" y="440.8" width="25.2" height="1.2" fill="#ffc4c4"/><rect x="383.8" y="441.8" width="25.2" height="1.2" fill="#ffb7b7"/><rect x="383.8" y="442.8" width="25.2" height="1.2" fill="#ffacac"/><rect x="383.8" y="443.8" width="25.2" height="1.2" fill="#ffbaba"/><rect x="383.8" y="444.8" width="25.2" height="1.2" fill="#ffcaca"/><rect x="383.8" y="445.8" width="25.2" height="1.2" fill="#f6f6ff"/><rect x="383.8" y="446.8" width="25.2" height="1.2" fill="#ffecec"/><rect x="383.8" y="447.8" width="25.2" height="1.2" fill="#fffefe"/><rect x="383.8" y="448.8" width="25.2" height="1.2" fill="#fff5f5"/><rect x="383.8" y="449.8" width="25.2" height="1.2" fill="#ffffff"/><rect x="383.8" y="450.8" width="25.2" height="1.2" fill="#ffdfdf"/><rect x="383.8" y="451.8" width="25.2" height="1.2" fill="#ffbcbc"/><rect x="383.8" y="452.8" width="25.2" height="1.2" fill="#ffa5a5"/><rect x="383.8" y="453.8" width="25.2" height="1.2" fill="#ffabab"/><rect x="383.8" y="454.8" width="25.2" height="1.2" fill="#ff8b8b"/><rect x="383.8" y="455.8" width="25.2" height="1.2" fill="#ff8686"/><rect x="383.8" y="456.8" width="25.2" height="1.2" fill="#ff8989"/><rect x="383.8" y="457.8" width="25.2" height="1.2" fill="#ffaeae"/><rect x="383.8" y="458.8" width="25.2" height="1.2" fill="#ff8a8a"/><rect x="383.8" y="459.8" width="25.2" height="1.2" fill="#ff5d5d"/><rect x="383.8" y="460.8" width="25.2" height="1.2" fill="#ff9797"/><rect x="383.8" y="461.8" width="25.2" height="1.2" fill="#ff8f8f"/><rect x="383.8" y="462.8" width="25.2" height="1.2" fill="#ff9797"/><rect x="383.8" y="463.8" width="25.2" height="1.2" fill="#ff7c7c"/><rect x="383.8" y="464.8" width="25.2" height="1.2" fill="#ff8c8c"/><rect x="383.8" y="465.8" width="25.2" height="1.2" fill="#ffa0a0"/><rect x="383.8" y="466.8" width="25.2" height="1.2" fill="#ffadad"/><rect x="383.8" y="467.8" width="25.2" height="1.2" fill="#ffb4b4"/><rect x="383.8" y="468.8" width="25.2" height="1.2" fill="#ff9292"/><rect x="383.8" y="469.8" width="25.2" height="1.2" fill="#ffa6a6"/><rect x="383.8" y="470.8" width="25.2" height="1.2" fill="#ff8e8e"/><rect x="383.8" y="471.8" width="25.2" height="1.2" fill="#ffacac"/><rect x="383.8" y="472.8" width="25.2" height="1.2" fill="#ff8787"/><rect x="383.8" y="473.8" width="25.2" height="1.2" fill="#ff8383"/><rect x="383.8" y="474.8" width="25.2" height="1.2" fill="#ff9494"/><rect x="383.8" y="475.8" width="25.2" height="1.2" fill="#ff7272"/><rect x="383.8" y="476.8" width="25.2" height="1.2" fill="#ff6969"/><rect x="383.8" y="477.8" width="25.2" height="1.2" fill="#ff2525"/><rect x="383.8" y="478.8" width="25.2" height="1.2" fill="#ff2020"/><rect x="383.8" y="479.8" width="25.2" height="1.2" fill="#ff1b1b"/><rect x="383.8" y="480.8" width="25.2" height="1.2" fill="#ff1515"/><rect x="383.8" y="481.8" width="25.2" height="1.2" fill="#ff1010"/><rect x="408.7" y="195.8" width="25.2" height="1.2" fill="#0e0eff"/><rect x="408.7" y="196.8" width="25.2" height="1.2" fill="#0909ff"/><rect x="408.7" y="197.8" width="25.2" height="1.2" fill="#1616ff"/><rect x="408.7" y="198.8" width="25.2" height="1.2" fill="#1818ff"/><rect x="408.7" y="199.8" width="25.2" height="1.2" fill="#1a1aff"/><rect x="408.7" y="200.8" width="25.2" height="1.2" fill="#3131ff"/><rect x="408.7" y="201.8" width="25.2" height="1.2" fill="#4343ff"/><rect x="408.7" y="202.8" width="25.2" height="1.2" fill="#3c3cff"/><rect x="408.7" y="203.8" width="25.2" height="1.2" fill="#2020ff"/><rect x="408.7" y="204.8" width="25.2" height="1.2" fill="#3a3aff"/><rect x="408.7" y="205.8" width="25.2" height="1.2" fill="#6868ff"/><rect x="408.7" y="206.8" width="25.2" height="1.2" fill="#4f4fff"/><rect x="408.7" y="207.8" width="25.2" height="1.2" fill="#5656ff"/><rect x="408.7" y="208.8" width="25.2" height="1.2" fill="#6a6aff"/><rect x="408.7" y="209.8" width="25.2" height="1.2" fill="#5959ff"/><rect x="408.7" y="210.8" width="25.2" height="1.2" fill="#5151ff"/><rect x="408.7" y="211.8" width="25.2" height="1.2" fill="#3a3aff"/><rect x="408.7" y="212.8" width="25.2" height="1.2" fill="#4545ff"/><rect x="408.7" y="213.8" width="25.2" height="1.2" fill="#5353ff"/><rect x="408.7" y="214.8" width="25.2" height="1.2" fill="#3535ff"/><rect x="408.7" y="215.8" width="25.2" height="1.2" fill="#4e4eff"/><rect x="408.7" y="216.8" width="25.2" height="1.2" fill="#5050ff"/><rect x="408.7" y="217.8" width="25.2" height="1.2" fill="#5e5eff"/><rect x="408.7" y="218.8" width="25.2" height="1.2" fill="#6c6cff"/><rect x="408.7" y="219.8" width="25.2" height="1.2" fill="#6e6eff"/><rect x="408.7" y="220.8" width="25.2" height="1.2" fill="#6767ff"/><rect x="408.7" y="221.8" width="25.2" height="2.2" fill="#6161ff"/><rect x="408.7" y="223.8" width="25.2" height="1.2" fill="#7a7aff"/><rect x="408.7" y="224.8" width="25.2" height="1.2" fill="#6969ff"/><rect x="408.7" y="225.8" width="25.2" height="2.2" fill="#7979ff"/><rect x="408.7" y="227.8" width="25.2" height="1.2" fill="#9797ff"/><rect x="408.7" y="228.8" width="25.2" height="1.2" fill="#8a8aff"/><rect x="408.7" y="229.8" width="25.2" height="1.2" fill="#7474ff"/><rect x="408.7" y="230.8" width="25.2" height="1.2" fill="#6f6fff"/><rect x="408.7" y="231.8" width="25.2" height="2.2" fill="#7777ff"/><rect x="408.7" y="233.8" width="25.2" height="1.2" fill="#7f7fff"/><rect x="408.7" y="234.8" width="25.2" height="1.2" fill="#b8b8ff"/><rect x="408.7" y="235.8" width="25.2" height="1.2" fill="#8787ff"/><rect x="408.7" y="236.8" width="25.2" height="1.2" fill="#a8a8ff"/><rect x="408.7" y="237.8" width="25.2" height="1.2" fill="#8c8cff"/><rect x="408.7" y="238.8" width="25.2" height="1.2" fill="#9292ff"/><rect x="408.7" y="239.8" width="25.2" height="1.2" fill="#9191ff"/><rect x="408.7" y="240.8" width="25.2" height="1.2" fill="#a0a0ff"/><rect x="408.7" y="241.8" width="25.2" height="1.2" fill="#9c9cff"/><rect x="408.7" y="242.8" width="25.2" height="1.2" fill="#a9a9ff"/><rect x="408.7" y="243.8" width="25.2" height="1.2" fill="#a8a8ff"/><rect x="408.7" y="244.8" width="25.2" height="1.2" fill="#8e8eff"/><rect x="408.7" y="245.8" width="25.2" height="1.2" fill="#a4a4ff"/><rect x="408.7" y="246.8" width="25.2" height="1.2" fill="#a5a5ff"/><rect x="408.7" y="247.8" width="25.2" height="1.2" fill="#7d7dff"/><rect x="408.7" y="248.8" width="25.2" height="1.2" fill="#7676ff"/><rect x="408.7" y="249.8" width="25.2" height="1.2" fill="#8383ff"/><rect x="408.7" y="250.8" width="25.2" height="2.2" fill="#8e8eff"/><rect x="408.7" y="252.8" width="25.2" height="1.2" fill="#9a9aff"/><rect x="408.7" y="253.8" width="25.2" height="1.2" fill="#8e8eff"/><rect x="408.7" y="254.8" width="25.2" height="1.2" fill="#b2b2ff"/><rect x="408.7" y="255.8" width="25.2" height="1.2" fill="#a8a8ff"/><rect x="408.7" y="256.8" width="25.2" height="1.2" fill="#a7a7ff"/><rect x="408.7" y="257.8" width="25.2" height="1.2" fill="#c8c8ff"/><rect x="408.7" y="258.8" width="25.2" height="1.2" fill="#a9a9ff"/><rect x="408.7" y="259.8" width="25.2" height="1.2" fill="#babaff"/><rect x="408.7" y="260.8" width="25.2" height="1.2" fill="#cbcbff"/><rect x="408.7" y="261.8" width="25.2" height="1.2" fill="#a2a2ff"/><rect x="408.7" y="262.8" width="25.2" height="1.2" fill="#a8a8ff"/><rect x="408.7" y="263.8" width="25.2" height="1.2" fill="#bcbcff"/><rect x="408.7" y="264.8" width="25.2" height="1.2" fill="#afafff"/><rect x="408.7" y="265.8" width="25.2" height="1.2" fill="#bdbdff"/><rect x="408.7" y="266.8" width="25.2" height="1.2" fill="#7070ff"/><rect x="408.7" y="267.8" width="25.2" height="1.2" fill="#a3a3ff"/><rect x="408.7" y="268.8" width="25.2" height="1.2" fill="#adadff"/><rect x="408.7" y="269.8" width="25.2" height="1.2" fill="#c6c6ff"/><rect x="408.7" y="270.8" width="25.2" height="1.2" fill="#c1c1ff"/><rect x="408.7" y="271.8" width="25.2" height="1.2" fill="#c8c8ff"/><rect x="408.7" y="272.8" width="25.2" height="1.2" fill="#ababff"/><rect x="408.7" y="273.8" width="25.2" height="1.2" fill="#b9b9ff"/><rect x="408.7" y="274.8" width="25.2" height="1.2" fill="#aeaeff"/><rect x="408.7" y="275.8" width="25.2" height="1.2" fill="#d5d5ff"/><rect x="408.7" y="276.8" width="25.2" height="1.2" fill="#c4c4ff"/><rect x="408.7" y="277.8" width="25.2" height="1.2" fill="#b2b2ff"/><rect x="408.7" y="278.8" width="25.2" height="1.2" fill="#b5b5ff"/><rect x="408.7" y="279.8" width="25.2" height="1.2" fill="#b8b8ff"/><rect x="408.7" y="280.8" width="25.2" height="1.2" fill="#c6c6ff"/><rect x="408.7" y="281.8" width="25.2" height="1.2" fill="#c8c8ff"/><rect x="408.7" y="282.8" width="25.2" height="1.2" fill="#cdcdff"/><rect x="408.7" y="283.8" width="25.2" height="1.2" fill="#cacaff"/><rect x="408.7" y="284.8" width="25.2" height="1.2" fill="#cbcbff"/><rect x="408.7" y="285.8" width="25.2" height="1.2" fill="#aeaeff"/><rect x="408.7" y="286.8" width="25.2" height="1.2" fill="#d6d6ff"/><rect x="408.7" y="287.8" width="25.2" height="1.2" fill="#cacaff"/><rect x="408.7" y="288.8" width="25.2" height="1.2" fill="#ddddff"/><rect x="408.7" y="289.8" width="25.2" height="1.2" fill="#ffe8e8"/><rect x="408.7" y="290.8" width="25.2" height="1.2" fill="#fafaff"/><rect x="408.7" y="291.8" width="25.2" height="1.2" fill="#ffc8c8"/><rect x="408.7" y="292.8" width="25.2" height="1.2" fill="#fff2f2"/><rect x="408.7" y="293.8" width="25.2" height="1.2" fill="#ffebeb"/><rect x="408.7" y="294.8" width="25.2" height="1.2" fill="#fff3f3"/><rect x="408.7" y="295.8" width="25.2" height="1.2" fill="#ffdfdf"/><rect x="408.7" y="296.8" width="25.2" height="1.2" fill="#fff9f9"/><rect x="408.7" y="297.8" width="25.2" height="1.2" fill="#ffd9d9"/><rect x="408.7" y="298.8" width="25.2" height="1.2" fill="#fffdfd"/><rect x="408.7" y="299.8" width="25.2" height="1.2" fill="#ffd4d4"/><rect x="408.7" y="300.8" width="25.2" height="1.2" fill="#ffdddd"/><rect x="408.7" y="301.8" width="25.2" height="1.2" fill="#ffd1d1"/><rect x="408.7" y="302.8" width="25.2" height="1.2" fill="#ffd9d9"/><rect x="408.7" y="303.8" width="25.2" height="1.2" fill="#ffdcdc"/><rect x="408.7" y="304.8" width="25.2" height="1.2" fill="#ffdada"/><rect x="408.7" y="305.8" width="25.2" height="1.2" fill="#fff7f7"/><rect x="408.7" y="306.8" width="25.2" height="1.2" fill="#fff9f9"/><rect x="408.7" y="307.8" width="25.2" height="1.2" fill="#fffdfd"/><rect x="408.7" y="308.8" width="25.2" height="1.2" fill="#ffe8e8"/><rect x="408.7" y="309.8" width="25.2" height="1.2" fill="#ffebeb"/><rect x="408.7" y="310.8" width="25.2" height="1.2" fill="#ffe7e7"/><rect x="408.7" y="311.8" width="25.2" height="1.2" fill="#ffefef"/><rect x="408.7" y="312.8" width="25.2" height="1.2" fill="#ffecec"/><rect x="408.7" y="313.8" width="25.2" height="1.2" fill="#ffe8e8"/><rect x="408.7" y="314.8" width="25.2" height="1.2" fill="#ffffff"/><rect x="408.7" y="315.8" width="25.2" height="1.2" fill="#ffe1e1"/><rect x="408.7" y="316.8" width="25.2" height="1.2" fill="#ffe3e3"/><rect x="408.7" y="317.8" width="25.2" height="1.2" fill="#ffefef"/><rect x="408.7" y="318.8" width="25.2" height="1.2" fill="#ffdede"/><rect x="408.7" y="319.8" width="25.2" height="1.2" fill="#fff0f0"/><rect x="408.7" y="320.8" width="25.2" height="1.2" fill="#ffe0e0"/><rect x="408.7" y="321.8" width="25.2" height="1.2" fill="#ffdede"/><rect x="408.7" y="322.8" width="25.2" height="1.2" fill="#ffcaca"/><rect x="408.7" y="323.8" width="25.2" height="1.2" fill="#ffd6d6"/><rect x="408.7" y="324.8" width="25.2" height="1.2" fill="#ffe2e2"/><rect x="408.7" y="325.8" width="25.2" height="1.2" fill="#ffd8d8"/><rect x="408.7" y="326.8" width="25.2" height="1.2" fill="#ffc3c3"/><rect x="408.7" y="327.8" width="25.2" height="1.2" fill="#ffdddd"/><rect x="408.7" y="328.8" width="25.2" height="1.2" fill="#ffcfcf"/><rect x="408.7" y="329.8" width="25.2" height="1.2" fill="#ffd8d8"/><rect x="408.7" y="330.8" width="25.2" height="1.2" fill="#ffcaca"/><rect x="408.7" y="331.8" width="25.2" height="1.2" fill="#fff6f6"/><rect x="408.7" y="332.8" width="25.2" height="1.2" fill="#fffdfd"/><rect x="408.7" y="333.8" width="25.2" height="1.2" fill="#ffeaea"/><rect x="408.7" y="334.8" width="25.2" height="1.2" fill="#fff3f3"/><rect x="408.7" y="335.8" width="25.2" height="1.2" fill="#ffd7d7"/><rect x="408.7" y="336.8" width="25.2" height="1.2" fill="#ffdfdf"/><rect x="408.7" y="337.8" width="25.2" height="1.2" fill="#ffeeee"/><rect x="408.7" y="338.8" width="25.2" height="1.2" fill="#f7f7ff"/><rect x="408.7" y="339.8" width="25.2" height="1.2" fill="#c2c2ff"/><rect x="408.7" y="340.8" width="25.2" height="1.2" fill="#a1a1ff"/><rect x="408.7" y="341.8" width="25.2" height="1.2" fill="#c3c3ff"/><rect x="408.7" y="342.8" width="25.2" height="1.2" fill="#c6c6ff"/><rect x="408.7" y="343.8" width="25.2" height="1.2" fill="#c4c4ff"/><rect x="408.7" y="344.8" width="25.2" height="1.2" fill="#d4d4ff"/><rect x="408.7" y="345.8" width="25.2" height="2.2" fill="#c8c8ff"/><rect x="408.7" y="347.8" width="25.2" height="1.2" fill="#cbcbff"/><rect x="408.7" y="348.8" width="25.2" height="1.2" fill="#d1d1ff"/><rect x="408.7" y="349.8" width="25.2" height="1.2" fill="#d8d8ff"/><rect x="408.7" y="350.8" width="25.2" height="1.2" fill="#ccccff"/><rect x="408.7" y="351.8" width="25.2" height="1.2" fill="#c6c6ff"/><rect x="408.7" y="352.8" width="25.2" height="1.2" fill="#c0c0ff"/><rect x="408.7" y="353.8" width="25.2" height="1.2" fill="#c1c1ff"/><rect x="408.7" y="354.8" width="25.2" height="1.2" fill="#ababff"/><rect x="408.7" y="355.8" width="25.2" height="1.2" fill="#d7d7ff"/><rect x="408.7" y="356.8" width="25.2" height="1.2" fill="#b7b7ff"/><rect x="408.7" y="357.8" width="25.2" height="1.2" fill="#bdbdff"/><rect x="408.7" y="358.8" width="25.2" height="1.2" fill="#d7d7ff"/><rect x="408.7" y="359.8" width="25.2" height="2.2" fill="#c9c9ff"/><rect x="408.7" y="361.8" width="25.2" height="1.2" fill="#d6d6ff"/><rect x="408.7" y="362.8" width="25.2" height="1.2" fill="#e6e6ff"/><rect x="408.7" y="363.8" width="25.2" height="1.2" fill="#eaeaff"/><rect x="408.7" y="364.8" width="25.2" height="1.2" fill="#dadaff"/><rect x="408.7" y="365.8" width="25.2" height="1.2" fill="#fffbfb"/><rect x="408.7" y="366.8" width="25.2" height="1.2" fill="#e5e5ff"/><rect x="408.7" y="367.8" width="25.2" height="1.2" fill="#fffdfd"/><rect x="408.7" y="368.8" width="25.2" height="1.2" fill="#ededff"/><rect x="408.7" y="369.8" width="25.2" height="1.2" fill="#c7c7ff"/><rect x="408.7" y="370.8" width="25.2" height="1.2" fill="#f5f5ff"/><rect x="408.7" y="371.8" width="25.2" height="1.2" fill="#fff8f8"/><rect x="408.7" y="372.8" width="25.2" height="1.2" fill="#f7f7ff"/><rect x="408.7" y="373.8" width="25.2" height="1.2" fill="#f0f0ff"/><rect x="408.7" y="374.8" width="25.2" height="1.2" fill="#fff2f2"/><rect x="408.7" y="375.8" width="25.2" height="1.2" fill="#f2f2ff"/><rect x="408.7" y="376.8" width="25.2" height="1.2" fill="#fff3f3"/><rect x="408.7" y="377.8" width="25.2" height="1.2" fill="#ffe2e2"/><rect x="408.7" y="378.8" width="25.2" height="1.2" fill="#ffcfcf"/><rect x="408.7" y="379.8" width="25.2" height="1.2" fill="#fefeff"/><rect x="408.7" y="380.8" width="25.2" height="1.2" fill="#ffcccc"/><rect x="408.7" y="381.8" width="25.2" height="1.2" fill="#ffcece"/><rect x="408.7" y="382.8" width="25.2" height="1.2" fill="#ffcfcf"/><rect x="408.7" y="383.8" width="25.2" height="1.2" fill="#ffcaca"/><rect x="408.7" y="384.8" width="25.2" height="1.2" fill="#ffcdcd"/><rect x="408.7" y="385.8" width="25.2" height="1.2" fill="#ffbfbf"/><rect x="408.7" y="386.8" width="25.2" height="1.2" fill="#ffc7c7"/><rect x="408.7" y="387.8" width="25.2" height="1.2" fill="#ffb6b6"/><rect x="408.7" y="388.8" width="25.2" height="1.2" fill="#ffbbbb"/><rect x="408.7" y="389.8" width="25.2" height="1.2" fill="#ffc1c1"/><rect x="408.7" y="390.8" width="25.2" height="1.2" fill="#ffdddd"/><rect x="408.7" y="391.8" width="25.2" height="1.2" fill="#ffd8d8"/><rect x="408.7" y="392.8" width="25.2" height="1.2" fill="#ffd0d0"/><rect x="408.7" y="393.8" width="25.2" height="1.2" fill="#ffdbdb"/><rect x="408.7" y="394.8" width="25.2" height="1.2" fill="#ffd1d1"/><rect x="408.7" y="395.8" width="25.2" height="1.2" fill="#ffdfdf"/><rect x="408.7" y="396.8" width="25.2" height="1.2" fill="#ffc9c9"/><rect x="408.7" y="397.8" width="25.2" height="1.2" fill="#ffe9e9"/><rect x="408.7" y="398.8" width="25.2" height="1.2" fill="#ffc5c5"/><rect x="408.7" y="399.8" width="25.2" height="1.2" fill="#ffbebe"/><rect x="408.7" y="400.8" width="25.2" height="1.2" fill="#ffb7b7"/><rect x="408.7" y="401.8" width="25.2" height="1.2" fill="#ffdede"/><rect x="408.7" y="402.8" width="25.2" height="1.2" fill="#ffd0d0"/><rect x="408.7" y="403.8" width="25.2" height="1.2" fill="#ffe3e3"/><rect x="408.7" y="404.8" width="25.2" height="1.2" fill="#ffe1e1"/><rect x="408.7" y="405.8" width="25.2" height="1.2" fill="#ffdede"/><rect x="408.7" y="406.8" width="25.2" height="1.2" fill="#ffcece"/><rect x="408.7" y="407.8" width="25.2" height="1.2" fill="#ffe6e6"/><rect x="408.7" y="408.8" width="25.2" height="1.2" fill="#ffdcdc"/><rect x="408.7" y="409.8" width="25.2" height="2.2" fill="#ffa8a8"/><rect x="408.7" y="411.8" width="25.2" height="1.2" fill="#ffd5d5"/><rect x="408.7" y="412.8" width="25.2" height="1.2" fill="#ffc0c0"/><rect x="408.7" y="413.8" width="25.2" height="1.2" fill="#ffaeae"/><rect x="408.7" y="414.8" width="25.2" height="1.2" fill="#ffc2c2"/><rect x="408.7" y="415.8" width="25.2" height="1.2" fill="#ffbebe"/><rect x="408.7" y="416.8" width="25.2" height="1.2" fill="#ffc3c3"/><rect x="408.7" y="417.8" width="25.2" height="1.2" fill="#ffb5b5"/><rect x="408.7" y="418.8" width="25.2" height="1.2" fill="#ffa8a8"/><rect x="408.7" y="419.8" width="25.2" height="1.2" fill="#ffafaf"/><rect x="408.7" y="420.8" width="25.2" height="1.2" fill="#ffbebe"/><rect x="408.7" y="421.8" width="25.2" height="1.2" fill="#ffb9b9"/><rect x="408.7" y="422.8" width="25.2" height="1.2" fill="#ffaaaa"/><rect x="408.7" y="423.8" width="25.2" height="1.2" fill="#ffb4b4"/><rect x="408.7" y="424.8" width="25.2" height="1.2" fill="#ff9f9f"/><rect x="408.7" y="425.8" width="25.2" height="1.2" fill="#ffa4a4"/><rect x="408.7" y="426.8" width="25.2" height="1.2" fill="#ffc2c2"/><rect x="408.7" y="427.8" width="25.2" height="1.2" fill="#fff5f5"/><rect x="408.7" y="428.8" width="25.2" height="1.2" fill="#ffe6e6"/><rect x="408.7" y="429.8" width="25.2" height="1.2" fill="#ffd6d6"/><rect x="408.7" y="430.8" width="25.2" height="1.2" fill="#ffdede"/><rect x="408.7" y="431.8" width="25.2" height="1.2" fill="#ffe2e2"/><rect x="408.7" y="432.8" width="25.2" height="1.2" fill="#ffe4e4"/><rect x="408.7" y="433.8" width="25.2" height="1.2" fill="#ffeaea"/><rect x="408.7" y="434.8" width="25.2" height="1.2" fill="#ffc6c6"/><rect x="408.7" y="435.8" width="25.2" height="1.2" fill="#ffe0e0"/><rect x="408.7" y="436.8" width="25.2" height="1.2" fill="#ffe1e1"/><rect x="408.7" y="437.8" width="25.2" height="1.2" fill="#fff5f5"/><rect x="408.7" y="438.8" width="25.2" height="1.2" fill="#ffe8e8"/><rect x="408.7" y="439.8" width="25.2" height="1.2" fill="#ffe7e7"/><rect x="408.7" y="440.8" width="25.2" height="1.2" fill="#ffe3e3"/><rect x="408.7" y="441.8" width="25.2" height="2.2" fill="#ffb6b6"/><rect x="408.7" y="443.8" width="25.2" height="1.2" fill="#ffb1b1"/><rect x="408.7" y="444.8" width="25.2" height="1.2" fill="#ffafaf"/><rect x="408.7" y="445.8" width="25.2" height="1.2" fill="#ffc6c6"/><rect x="408.7" y="446.8" width="25.2" height="1.2" fill="#ff9999"/><rect x="408.7" y="447.8" width="25.2" height="1.2" fill="#ff9494"/><rect x="408.7" y="448.8" width="25.2" height="2.2" fill="#ffacac"/><rect x="408.7" y="450.8" width="25.2" height="1.2" fill="#ff9494"/><rect x="408.7" y="451.8" width="25.2" height="2.2" fill="#ffa3a3"/><rect x="408.7" y="453.8" width="25.2" height="1.2" fill="#ff9494"/><rect x="408.7" y="454.8" width="25.2" height="1.2" fill="#ff8383"/><rect x="408.7" y="455.8" width="25.2" height="1.2" fill="#ff7575"/><rect x="408.7" y="456.8" width="25.2" height="1.2" fill="#ff8080"/><rect x="408.7" y="457.8" width="25.2" height="1.2" fill="#ff9e9e"/><rect x="408.7" y="458.8" width="25.2" height="1.2" fill="#ff8c8c"/><rect x="408.7" y="459.8" width="25.2" height="1.2" fill="#ff6f6f"/><rect x="408.7" y="460.8" width="25.2" height="1.2" fill="#ff9494"/><rect x="408.7" y="461.8" width="25.2" height="1.2" fill="#ff8c8c"/><rect x="408.7" y="462.8" width="25.2" height="1.2" fill="#ff9595"/><rect x="408.7" y="463.8" width="25.2" height="1.2" fill="#ffa5a5"/><rect x="408.7" y="464.8" width="25.2" height="2.2" fill="#ff9595"/><rect x="408.7" y="466.8" width="25.2" height="2.2" fill="#ffb3b3"/><rect x="408.7" y="468.8" width="25.2" height="1.2" fill="#ffb4b4"/><rect x="408.7" y="469.8" width="25.2" height="1.2" fill="#ff9797"/><rect x="408.7" y="470.8" width="25.2" height="1.2" fill="#ffaeae"/><rect x="408.7" y="471.8" width="25.2" height="1.2" fill="#ff8989"/><rect x="408.7" y="472.8" width="25.2" height="1.2" fill="#ff9a9a"/><rect x="408.7" y="473.8" width="25.2" height="1.2" fill="#ff8b8b"/><rect x="408.7" y="474.8" width="25.2" height="1.2" fill="#ff7777"/><rect x="408.7" y="475.8" width="25.2" height="1.2" fill="#ff7070"/><rect x="408.7" y="476.8" width="25.2" height="1.2" fill="#ff5a5a"/><rect x="408.7" y="477.8" width="25.2" height="1.2" fill="#ff2525"/><rect x="408.7" y="478.8" width="25.2" height="1.2" fill="#ff2020"/><rect x="408.7" y="479.8" width="25.2" height="1.2" fill="#ff1b1b"/><rect x="408.7" y="480.8" width="25.2" height="1.2" fill="#ff1515"/><rect x="408.7" y="481.8" width="25.2" height="1.2" fill="#ff1010"/><rect x="433.6" y="195.8" width="25.2" height="1.2" fill="#1010ff"/><rect x="433.6" y="196.8" width="25.2" height="1.2" fill="#0808ff"/><rect x="433.6" y="197.8" width="25.2" height="1.2" fill="#1414ff"/><rect x="433.6" y="198.8" width="25.2" height="1.2" fill="#1c1cff"/><rect x="433.6" y="199.8" width="25.2" height="1.2" fill="#1919ff"/><rect x="433.6" y="200.8" width="25.2" height="1.2" fill="#3636ff"/><rect x="433.6" y="201.8" width="25.2" height="1.2" fill="#3f3fff"/><rect x="433.6" y="202.8" width="25.2" height="1.2" fill="#3939ff"/><rect x="433.6" y="203.8" width="25.2" height="1.2" fill="#2323ff"/><rect x="433.6" y="204.8" width="25.2" height="1.2" fill="#3535ff"/><rect x="433.6" y="205.8" width="25.2" height="1.2" fill="#6c6cff"/><rect x="433.6" y="206.8" width="25.2" height="1.2" fill="#5353ff"/><rect x="433.6" y="207.8" width="25.2" height="1.2" fill="#5050ff"/><rect x="433.6" y="208.8" width="25.2" height="1.2" fill="#5e5eff"/><rect x="433.6" y="209.8" width="25.2" height="1.2" fill="#5a5aff"/><rect x="433.6" y="210.8" width="25.2" height="1.2" fill="#5d5dff"/><rect x="433.6" y="211.8" width="25.2" height="1.2" fill="#4141ff"/><rect x="433.6" y="212.8" width="25.2" height="1.2" fill="#4c4cff"/><rect x="433.6" y="213.8" width="25.2" height="1.2" fill="#5454ff"/><rect x="433.6" y="214.8" width="25.2" height="1.2" fill="#2f2fff"/><rect x="433.6" y="215.8" width="25.2" height="1.2" fill="#4646ff"/><rect x="433.6" y="216.8" width="25.2" height="1.2" fill="#5757ff"/><rect x="433.6" y="217.8" width="25.2" height="1.2" fill="#6666ff"/><rect x="433.6" y="218.8" width="25.2" height="1.2" fill="#7171ff"/><rect x="433.6" y="219.8" width="25.2" height="1.2" fill="#7878ff"/><rect x="433.6" y="220.8" width="25.2" height="1.2" fill="#6868ff"/><rect x="433.6" y="221.8" width="25.2" height="1.2" fill="#5656ff"/><rect x="433.6" y="222.8" width="25.2" height="1.2" fill="#6363ff"/><rect x="433.6" y="223.8" width="25.2" height="1.2" fill="#7575ff"/><rect x="433.6" y="224.8" width="25.2" height="1.2" fill="#7070ff"/><rect x="433.6" y="225.8" width="25.2" height="1.2" fill="#7575ff"/><rect x="433.6" y="226.8" width="25.2" height="1.2" fill="#8383ff"/><rect x="433.6" y="227.8" width="25.2" height="1.2" fill="#9191ff"/><rect x="433.6" y="228.8" width="25.2" height="1.2" fill="#8383ff"/><rect x="433.6" y="229.8" width="25.2" height="1.2" fill="#7979ff"/><rect x="433.6" y="230.8" width="25.2" height="1.2" fill="#7272ff"/><rect x="433.6" y="231.8" width="25.2" height="1.2" fill="#7d7dff"/><rect x="433.6" y="232.8" width="25.2" height="1.2" fill="#7676ff"/><rect x="433.6" y="233.8" width="25.2" height="1.2" fill="#7e7eff"/><rect x="433.6" y="234.8" width="25.2" height="1.2" fill="#b7b7ff"/><rect x="433.6" y="235.8" width="25.2" height="1.2" fill="#8484ff"/><rect x="433.6" y="236.8" width="25.2" height="1.2" fill="#a7a7ff"/><rect x="433.6" y="237.8" width="25.2" height="1.2" fill="#9898ff"/><rect x="433.6" y="238.8" width="25.2" height="1.2" fill="#9797ff"/><rect x="433.6" y="239.8" width="25.2" height="1.2" fill="#9292ff"/><rect x="433.6" y="240.8" width="25.2" height="1.2" fill="#9d9dff"/><rect x="433.6" y="241.8" width="25.2" height="1.2" fill="#a2a2ff"/><rect x="433.6" y="242.8" width="25.2" height="1.2" fill="#9e9eff"/><rect x="433.6" y="243.8" width="25.2" height="1.2" fill="#a3a3ff"/><rect x="433.6" y="244.8" width="25.2" height="1.2" fill="#8080ff"/><rect x="433.6" y="245.8" width="25.2" height="1.2" fill="#a6a6ff"/><rect x="433.6" y="246.8" width="25.2" height="1.2" fill="#a5a5ff"/><rect x="433.6" y="247.8" width="25.2" height="1.2" fill="#7676ff"/><rect x="433.6" y="248.8" width="25.2" height="1.2" fill="#6d6dff"/><rect x="433.6" y="249.8" width="25.2" height="1.2" fill="#8888ff"/><rect x="433.6" y="250.8" width="25.2" height="1.2" fill="#9595ff"/><rect x="433.6" y="251.8" width="25.2" height="1.2" fill="#8787ff"/><rect x="433.6" y="252.8" width="25.2" height="1.2" fill="#9090ff"/><rect x="433.6" y="253.8" width="25.2" height="1.2" fill="#9b9bff"/><rect x="433.6" y="254.8" width="25.2" height="1.2" fill="#aaaaff"/><rect x="433.6" y="255.8" width="25.2" height="1.2" fill="#babaff"/><rect x="433.6" y="256.8" width="25.2" height="1.2" fill="#ababff"/><rect x="433.6" y="257.8" width="25.2" height="1.2" fill="#c4c4ff"/><rect x="433.6" y="258.8" width="25.2" height="1.2" fill="#a6a6ff"/><rect x="433.6" y="259.8" width="25.2" height="2.2" fill="#b9b9ff"/><rect x="433.6" y="261.8" width="25.2" height="1.2" fill="#a5a5ff"/><rect x="433.6" y="262.8" width="25.2" height="1.2" fill="#ababff"/><rect x="433.6" y="263.8" width="25.2" height="2.2" fill="#b9b9ff"/><rect x="433.6" y="265.8" width="25.2" height="1.2" fill="#b7b7ff"/><rect x="433.6" y="266.8" width="25.2" height="1.2" fill="#7373ff"/><rect x="433.6" y="267.8" width="25.2" height="1.2" fill="#9797ff"/><rect x="433.6" y="268.8" width="25.2" height="1.2" fill="#b2b2ff"/><rect x="433.6" y="269.8" width="25.2" height="1.2" fill="#cacaff"/><rect x="433.6" y="270.8" width="25.2" height="1.2" fill="#c5c5ff"/><rect x="433.6" y="271.8" width="25.2" height="1.2" fill="#d0d0ff"/><rect x="433.6" y="272.8" width="25.2" height="1.2" fill="#b0b0ff"/><rect x="433.6" y="273.8" width="25.2" height="1.2" fill="#b4b4ff"/><rect x="433.6" y="274.8" width="25.2" height="1.2" fill="#aaaaff"/><rect x="433.6" y="275.8" width="25.2" height="1.2" fill="#d5d5ff"/><rect x="433.6" y="276.8" width="25.2" height="1.2" fill="#bdbdff"/><rect x="433.6" y="277.8" width="25.2" height="1.2" fill="#afafff"/><rect x="433.6" y="278.8" width="25.2" height="1.2" fill="#b2b2ff"/><rect x="433.6" y="279.8" width="25.2" height="1.2" fill="#babaff"/><rect x="433.6" y="280.8" width="25.2" height="1.2" fill="#bbbbff"/><rect x="433.6" y="281.8" width="25.2" height="1.2" fill="#c6c6ff"/><rect x="433.6" y="282.8" width="25.2" height="1.2" fill="#c8c8ff"/><rect x="433.6" y="283.8" width="25.2" height="1.2" fill="#d1d1ff"/><rect x="433.6" y="284.8" width="25.2" height="1.2" fill="#c7c7ff"/><rect x="433.6" y="285.8" width="25.2" height="1.2" fill="#b0b0ff"/><rect x="433.6" y="286.8" width="25.2" height="1.2" fill="#cacaff"/><rect x="433.6" y="287.8" width="25.2" height="1.2" fill="#d2d2ff"/><rect x="433.6" y="288.8" width="25.2" height="1.2" fill="#e9e9ff"/><rect x="433.6" y="289.8" width="25.2" height="1.2" fill="#fcfcff"/><rect x="433.6" y="290.8" width="25.2" height="1.2" fill="#e5e5ff"/><rect x="433.6" y="291.8" width="25.2" height="1.2" fill="#fffafa"/><rect x="433.6" y="292.8" width="25.2" height="1.2" fill="#eeeeff"/><rect x="433.6" y="293.8" width="25.2" height="1.2" fill="#fbfbff"/><rect x="433.6" y="294.8" width="25.2" height="1.2" fill="#eeeeff"/><rect x="433.6" y="295.8" width="25.2" height="1.2" fill="#fff9f9"/><rect x="433.6" y="296.8" width="25.2" height="1.2" fill="#ebebff"/><rect x="433.6" y="297.8" width="25.2" height="1.2" fill="#fff5f5"/><rect x="433.6" y="298.8" width="25.2" height="1.2" fill="#ebebff"/><rect x="433.6" y="299.8" width="25.2" height="1.2" fill="#ffe7e7"/><rect x="433.6" y="300.8" width="25.2" height="1.2" fill="#ffe5e5"/><rect x="433.6" y="301.8" width="25.2" height="1.2" fill="#ffeaea"/><rect x="433.6" y="302.8" width="25.2" height="1.2" fill="#fff1f1"/><rect x="433.6" y="303.8" width="25.2" height="1.2" fill="#fff2f2"/><rect x="433.6" y="304.8" width="25.2" height="1.2" fill="#ffecec"/><rect x="433.6" y="305.8" width="25.2" height="1.2" fill="#f9f9ff"/><rect x="433.6" y="306.8" width="25.2" height="1.2" fill="#f4f4ff"/><rect x="433.6" y="307.8" width="25.2" height="1.2" fill="#eaeaff"/><rect x="433.6" y="308.8" width="25.2" height="1.2" fill="#fff7f7"/><rect x="433.6" y="309.8" width="25.2" height="1.2" fill="#f4f4ff"/><rect x="433.6" y="310.8" width="25.2" height="1.2" fill="#fffdfd"/><rect x="433.6" y="311.8" width="25.2" height="1.2" fill="#fffefe"/><rect x="433.6" y="312.8" width="25.2" height="1.2" fill="#f4f4ff"/><rect x="433.6" y="313.8" width="25.2" height="1.2" fill="#ffffff"/><rect x="433.6" y="314.8" width="25.2" height="1.2" fill="#ececff"/><rect x="433.6" y="315.8" width="25.2" height="1.2" fill="#fff5f5"/><rect x="433.6" y="316.8" width="25.2" height="1.2" fill="#fffdfd"/><rect x="433.6" y="317.8" width="25.2" height="1.2" fill="#fff5f5"/><rect x="433.6" y="318.8" width="25.2" height="1.2" fill="#fffefe"/><rect x="433.6" y="319.8" width="25.2" height="1.2" fill="#fff6f6"/><rect x="433.6" y="320.8" width="25.2" height="1.2" fill="#fefeff"/><rect x="433.6" y="321.8" width="25.2" height="1.2" fill="#fff3f3"/><rect x="433.6" y="322.8" width="25.2" height="1.2" fill="#ffeaea"/><rect x="433.6" y="323.8" width="25.2" height="1.2" fill="#ffe1e1"/><rect x="433.6" y="324.8" width="25.2" height="1.2" fill="#fffbfb"/><rect x="433.6" y="325.8" width="25.2" height="1.2" fill="#ffe7e7"/><rect x="433.6" y="326.8" width="25.2" height="1.2" fill="#ffe4e4"/><rect x="433.6" y="327.8" width="25.2" height="1.2" fill="#fff8f8"/><rect x="433.6" y="328.8" width="25.2" height="1.2" fill="#ffe5e5"/><rect x="433.6" y="329.8" width="25.2" height="1.2" fill="#ffefef"/><rect x="433.6" y="330.8" width="25.2" height="1.2" fill="#ffe7e7"/><rect x="433.6" y="331.8" width="25.2" height="1.2" fill="#f0f0ff"/><rect x="433.6" y="332.8" width="25.2" height="1.2" fill="#e8e8ff"/><rect x="433.6" y="333.8" width="25.2" height="1.2" fill="#ffefef"/><rect x="433.6" y="334.8" width="25.2" height="1.2" fill="#f6f6ff"/><rect x="433.6" y="335.8" width="25.2" height="1.2" fill="#fff2f2"/><rect x="433.6" y="336.8" width="25.2" height="1.2" fill="#fafaff"/><rect x="433.6" y="337.8" width="25.2" height="1.2" fill="#fdfdff"/><rect x="433.6" y="338.8" width="25.2" height="1.2" fill="#eaeaff"/><rect x="433.6" y="339.8" width="25.2" height="1.2" fill="#d5d5ff"/><rect x="433.6" y="340.8" width="25.2" height="1.2" fill="#b9b9ff"/><rect x="433.6" y="341.8" width="25.2" height="1.2" fill="#d3d3ff"/><rect x="433.6" y="342.8" width="25.2" height="1.2" fill="#d1d1ff"/><rect x="433.6" y="343.8" width="25.2" height="1.2" fill="#dbdbff"/><rect x="433.6" y="344.8" width="25.2" height="1.2" fill="#ebebff"/><rect x="433.6" y="345.8" width="25.2" height="1.2" fill="#ececff"/><rect x="433.6" y="346.8" width="25.2" height="1.2" fill="#f1f1ff"/><rect x="433.6" y="347.8" width="25.2" height="1.2" fill="#dbdbff"/><rect x="433.6" y="348.8" width="25.2" height="1.2" fill="#ddddff"/><rect x="433.6" y="349.8" width="25.2" height="1.2" fill="#e1e1ff"/><rect x="433.6" y="350.8" width="25.2" height="1.2" fill="#dadaff"/><rect x="433.6" y="351.8" width="25.2" height="1.2" fill="#dbdbff"/><rect x="433.6" y="352.8" width="25.2" height="1.2" fill="#ddddff"/><rect x="433.6" y="353.8" width="25.2" height="1.2" fill="#dcdcff"/><rect x="433.6" y="354.8" width="25.2" height="1.2" fill="#c9c9ff"/><rect x="433.6" y="355.8" width="25.2" height="1.2" fill="#e1e1ff"/><rect x="433.6" y="356.8" width="25.2" height="1.2" fill="#cacaff"/><rect x="433.6" y="357.8" width="25.2" height="1.2" fill="#d7d7ff"/><rect x="433.6" y="358.8" width="25.2" height="1.2" fill="#e5e5ff"/><rect x="433.6" y="359.8" width="25.2" height="1.2" fill="#d2d2ff"/><rect x="433.6" y="360.8" width="25.2" height="1.2" fill="#e8e8ff"/><rect x="433.6" y="361.8" width="25.2" height="1.2" fill="#f2f2ff"/><rect x="433.6" y="362.8" width="25.2" height="1.2" fill="#f3f3ff"/><rect x="433.6" y="363.8" width="25.2" height="1.2" fill="#fafaff"/><rect x="433.6" y="364.8" width="25.2" height="1.2" fill="#e8e8ff"/><rect x="433.6" y="365.8" width="25.2" height="1.2" fill="#ffe7e7"/><rect x="433.6" y="366.8" width="25.2" height="1.2" fill="#fefeff"/><rect x="433.6" y="367.8" width="25.2" height="1.2" fill="#ffe6e6"/><rect x="433.6" y="368.8" width="25.2" height="1.2" fill="#fffdfd"/><rect x="433.6" y="369.8" width="25.2" height="1.2" fill="#dcdcff"/><rect x="433.6" y="370.8" width="25.2" height="1.2" fill="#fffcfc"/><rect x="433.6" y="371.8" width="25.2" height="1.2" fill="#fff6f6"/><rect x="433.6" y="372.8" width="25.2" height="1.2" fill="#fcfcff"/><rect x="433.6" y="373.8" width="25.2" height="1.2" fill="#f0f0ff"/><rect x="433.6" y="374.8" width="25.2" height="1.2" fill="#fff3f3"/><rect x="433.6" y="375.8" width="25.2" height="2.2" fill="#fff4f4"/><rect x="433.6" y="377.8" width="25.2" height="1.2" fill="#ffe2e2"/><rect x="433.6" y="378.8" width="25.2" height="1.2" fill="#ffd9d9"/><rect x="433.6" y="379.8" width="25.2" height="1.2" fill="#fffdfd"/><rect x="433.6" y="380.8" width="25.2" height="1.2" fill="#ffd2d2"/><rect x="433.6" y="381.8" width="25.2" height="1.2" fill="#ffdfdf"/><rect x="433.6" y="382.8" width="25.2" height="1.2" fill="#ffd1d1"/><rect x="433.6" y="383.8" width="25.2" height="1.2" fill="#ffcccc"/><rect x="433.6" y="384.8" width="25.2" height="1.2" fill="#ffc5c5"/><rect x="433.6" y="385.8" width="25.2" height="1.2" fill="#ffb6b6"/><rect x="433.6" y="386.8" width="25.2" height="1.2" fill="#ffc8c8"/><rect x="433.6" y="387.8" width="25.2" height="1.2" fill="#ffb6b6"/><rect x="433.6" y="388.8" width="25.2" height="1.2" fill="#ffc0c0"/><rect x="433.6" y="389.8" width="25.2" height="1.2" fill="#ffc3c3"/><rect x="433.6" y="390.8" width="25.2" height="2.2" fill="#ffe0e0"/><rect x="433.6" y="392.8" width="25.2" height="1.2" fill="#ffc7c7"/><rect x="433.6" y="393.8" width="25.2" height="1.2" fill="#ffd8d8"/><rect x="433.6" y="394.8" width="25.2" height="1.2" fill="#ffd9d9"/><rect x="433.6" y="395.8" width="25.2" height="1.2" fill="#ffc7c7"/><rect x="433.6" y="396.8" width="25.2" height="1.2" fill="#ffcdcd"/><rect x="433.6" y="397.8" width="25.2" height="1.2" fill="#fff2f2"/><rect x="433.6" y="398.8" width="25.2" height="1.2" fill="#ffcbcb"/><rect x="433.6" y="399.8" width="25.2" height="1.2" fill="#ffbaba"/><rect x="433.6" y="400.8" width="25.2" height="1.2" fill="#ffb0b0"/><rect x="433.6" y="401.8" width="25.2" height="1.2" fill="#ffd9d9"/><rect x="433.6" y="402.8" width="25.2" height="1.2" fill="#ffd5d5"/><rect x="433.6" y="403.8" width="25.2" height="1.2" fill="#ffe7e7"/><rect x="433.6" y="404.8" width="25.2" height="1.2" fill="#ffd7d7"/><rect x="433.6" y="405.8" width="25.2" height="1.2" fill="#ffcccc"/><rect x="433.6" y="406.8" width="25.2" height="1.2" fill="#ffc9c9"/><rect x="433.6" y="407.8" width="25.2" height="1.2" fill="#ffdfdf"/><rect x="433.6" y="408.8" width="25.2" height="1.2" fill="#ffe4e4"/><rect x="433.6" y="409.8" width="25.2" height="1.2" fill="#ffabab"/><rect x="433.6" y="410.8" width="25.2" height="1.2" fill="#ffacac"/><rect x="433.6" y="411.8" width="25.2" height="1.2" fill="#ffdede"/><rect x="433.6" y="412.8" width="25.2" height="1.2" fill="#ffbebe"/><rect x="433.6" y="413.8" width="25.2" height="1.2" fill="#ffb0b0"/><rect x="433.6" y="414.8" width="25.2" height="1.2" fill="#ffbaba"/><rect x="433.6" y="415.8" width="25.2" height="1.2" fill="#ffb5b5"/><rect x="433.6" y="416.8" width="25.2" height="1.2" fill="#ffc0c0"/><rect x="433.6" y="417.8" width="25.2" height="1.2" fill="#ffb5b5"/><rect x="433.6" y="418.8" width="25.2" height="1.2" fill="#ffacac"/><rect x="433.6" y="419.8" width="25.2" height="1.2" fill="#ffb2b2"/><rect x="433.6" y="420.8" width="25.2" height="1.2" fill="#ffbfbf"/><rect x="433.6" y="421.8" width="25.2" height="1.2" fill="#ffb3b3"/><rect x="433.6" y="422.8" width="25.2" height="1.2" fill="#ffb2b2"/><rect x="433.6" y="423.8" width="25.2" height="2.2" fill="#ffa0a0"/><rect x="433.6" y="425.8" width="25.2" height="1.2" fill="#ffafaf"/><rect x="433.6" y="426.8" width="25.2" height="1.2" fill="#ffb9b9"/><rect x="433.6" y="427.8" width="25.2" height="1.2" fill="#fff5f5"/><rect x="433.6" y="428.8" width="25.2" height="1.2" fill="#ffd9d9"/><rect x="433.6" y="429.8" width="25.2" height="1.2" fill="#ffdada"/><rect x="433.6" y="430.8" width="25.2" height="1.2" fill="#ffe0e0"/><rect x="433.6" y="431.8" width="25.2" height="1.2" fill="#ffe8e8"/><rect x="433.6" y="432.8" width="25.2" height="1.2" fill="#ffebeb"/><rect x="433.6" y="433.8" width="25.2" height="1.2" fill="#ffdcdc"/><rect x="433.6" y="434.8" width="25.2" height="1.2" fill="#ffb8b8"/><rect x="433.6" y="435.8" width="25.2" height="1.2" fill="#ffe5e5"/><rect x="433.6" y="436.8" width="25.2" height="1.2" fill="#ffeaea"/><rect x="433.6" y="437.8" width="25.2" height="1.2" fill="#ffebeb"/><rect x="433.6" y="438.8" width="25.2" height="1.2" fill="#fff2f2"/><rect x="433.6" y="439.8" width="25.2" height="1.2" fill="#ffecec"/><rect x="433.6" y="440.8" width="25.2" height="1.2" fill="#ffe6e6"/><rect x="433.6" y="441.8" width="25.2" height="1.2" fill="#ffafaf"/><rect x="433.6" y="442.8" width="25.2" height="1.2" fill="#ffc1c1"/><rect x="433.6" y="443.8" width="25.2" height="2.2" fill="#ffa3a3"/><rect x="433.6" y="445.8" width="25.2" height="1.2" fill="#ffc5c5"/><rect x="433.6" y="446.8" width="25.2" height="1.2" fill="#ff9292"/><rect x="433.6" y="447.8" width="25.2" height="1.2" fill="#ff9595"/><rect x="433.6" y="448.8" width="25.2" height="1.2" fill="#ffa6a6"/><rect x="433.6" y="449.8" width="25.2" height="1.2" fill="#ffa0a0"/><rect x="433.6" y="450.8" width="25.2" height="1.2" fill="#ff9494"/><rect x="433.6" y="451.8" width="25.2" height="1.2" fill="#ff9797"/><rect x="433.6" y="452.8" width="25.2" height="1.2" fill="#ff9d9d"/><rect x="433.6" y="453.8" width="25.2" height="1.2" fill="#ff8f8f"/><rect x="433.6" y="454.8" width="25.2" height="1.2" fill="#ff9090"/><rect x="433.6" y="455.8" width="25.2" height="1.2" fill="#ff7979"/><rect x="433.6" y="456.8" width="25.2" height="1.2" fill="#ff7a7a"/><rect x="433.6" y="457.8" width="25.2" height="1.2" fill="#ff9999"/><rect x="433.6" y="458.8" width="25.2" height="1.2" fill="#ff8686"/><rect x="433.6" y="459.8" width="25.2" height="1.2" fill="#ff8181"/><rect x="433.6" y="460.8" width="25.2" height="1.2" fill="#ff9696"/><rect x="433.6" y="461.8" width="25.2" height="1.2" fill="#ff9292"/><rect x="433.6" y="462.8" width="25.2" height="1.2" fill="#ff9a9a"/><rect x="433.6" y="463.8" width="25.2" height="1.2" fill="#ffaeae"/><rect x="433.6" y="464.8" width="25.2" height="1.2" fill="#ff8c8c"/><rect x="433.6" y="465.8" width="25.2" height="1.2" fill="#ff9292"/><rect x="433.6" y="466.8" width="25.2" height="1.2" fill="#ffafaf"/><rect x="433.6" y="467.8" width="25.2" height="1.2" fill="#ffb7b7"/><rect x="433.6" y="468.8" width="25.2" height="1.2" fill="#ffbfbf"/><rect x="433.6" y="469.8" width="25.2" height="1.2" fill="#ffa5a5"/><rect x="433.6" y="470.8" width="25.2" height="1.2" fill="#ffacac"/><rect x="433.6" y="471.8" width="25.2" height="1.2" fill="#ff8989"/><rect x="433.6" y="472.8" width="25.2" height="1.2" fill="#ff9797"/><rect x="433.6" y="473.8" width="25.2" height="1.2" fill="#ff8383"/><rect x="433.6" y="474.8" width="25.2" height="1.2" fill="#ff7878"/><rect x="433.6" y="475.8" width="25.2" height="1.2" fill="#ff7373"/><rect x="433.6" y="476.8" width="25.2" height="1.2" fill="#ff5a5a"/><rect x="433.6" y="477.8" width="25.2" height="1.2" fill="#ff2525"/><rect x="433.6" y="478.8" width="25.2" height="1.2" fill="#ff2020"/><rect x="433.6" y="479.8" width="25.2" height="1.2" fill="#ff1b1b"/><rect x="433.6" y="480.8" width="25.2" height="1.2" fill="#ff1515"/><rect x="433.6" y="481.8" width="25.2" height="1.2" fill="#ff1010"/><rect x="458.4" y="195.8" width="25.2" height="1.2" fill="#1414ff"/><rect x="458.4" y="196.8" width="25.2" height="1.2" fill="#0303ff"/><rect x="458.4" y="197.8" width="25.2" height="1.2" fill="#1212ff"/><rect x="458.4" y="198.8" width="25.2" height="1.2" fill="#2727ff"/><rect x="458.4" y="199.8" width="25.2" height="1.2" fill="#1717ff"/><rect x="458.4" y="200.8" width="25.2" height="1.2" fill="#3d3dff"/><rect x="458.4" y="201.8" width="25.2" height="1.2" fill="#3f3fff"/><rect x="458.4" y="202.8" width="25.2" height="1.2" fill="#3939ff"/><rect x="458.4" y="203.8" width="25.2" height="1.2" fill="#2727ff"/><rect x="458.4" y="204.8" width="25.2" height="1.2" fill="#2e2eff"/><rect x="458.4" y="205.8" width="25.2" height="1.2" fill="#5f5fff"/><rect x="458.4" y="206.8" width="25.2" height="1.2" fill="#4f4fff"/><rect x="458.4" y="207.8" width="25.2" height="1.2" fill="#4747ff"/><rect x="458.4" y="208.8" width="25.2" height="1.2" fill="#5c5cff"/><rect x="458.4" y="209.8" width="25.2" height="1.2" fill="#4c4cff"/><rect x="458.4" y="210.8" width="25.2" height="1.2" fill="#5e5eff"/><rect x="458.4" y="211.8" width="25.2" height="1.2" fill="#4444ff"/><rect x="458.4" y="212.8" width="25.2" height="1.2" fill="#4747ff"/><rect x="458.4" y="213.8" width="25.2" height="1.2" fill="#5050ff"/><rect x="458.4" y="214.8" width="25.2" height="1.2" fill="#3333ff"/><rect x="458.4" y="215.8" width="25.2" height="1.2" fill="#4747ff"/><rect x="458.4" y="216.8" width="25.2" height="1.2" fill="#5959ff"/><rect x="458.4" y="217.8" width="25.2" height="1.2" fill="#5a5aff"/><rect x="458.4" y="218.8" width="25.2" height="1.2" fill="#6e6eff"/><rect x="458.4" y="219.8" width="25.2" height="1.2" fill="#7777ff"/><rect x="458.4" y="220.8" width="25.2" height="1.2" fill="#6c6cff"/><rect x="458.4" y="221.8" width="25.2" height="1.2" fill="#6666ff"/><rect x="458.4" y="222.8" width="25.2" height="1.2" fill="#5f5fff"/><rect x="458.4" y="223.8" width="25.2" height="1.2" fill="#7575ff"/><rect x="458.4" y="224.8" width="25.2" height="1.2" fill="#5c5cff"/><rect x="458.4" y="225.8" width="25.2" height="1.2" fill="#7474ff"/><rect x="458.4" y="226.8" width="25.2" height="1.2" fill="#8282ff"/><rect x="458.4" y="227.8" width="25.2" height="1.2" fill="#9c9cff"/><rect x="458.4" y="228.8" width="25.2" height="1.2" fill="#8f8fff"/><rect x="458.4" y="229.8" width="25.2" height="1.2" fill="#7979ff"/><rect x="458.4" y="230.8" width="25.2" height="1.2" fill="#6565ff"/><rect x="458.4" y="231.8" width="25.2" height="1.2" fill="#6a6aff"/><rect x="458.4" y="232.8" width="25.2" height="1.2" fill="#7979ff"/><rect x="458.4" y="233.8" width="25.2" height="1.2" fill="#8686ff"/><rect x="458.4" y="234.8" width="25.2" height="1.2" fill="#b7b7ff"/><rect x="458.4" y="235.8" width="25.2" height="1.2" fill="#8282ff"/><rect x="458.4" y="236.8" width="25.2" height="1.2" fill="#a6a6ff"/><rect x="458.4" y="237.8" width="25.2" height="1.2" fill="#9898ff"/><rect x="458.4" y="238.8" width="25.2" height="1.2" fill="#9b9bff"/><rect x="458.4" y="239.8" width="25.2" height="1.2" fill="#8e8eff"/><rect x="458.4" y="240.8" width="25.2" height="1.2" fill="#9191ff"/><rect x="458.4" y="241.8" width="25.2" height="1.2" fill="#a5a5ff"/><rect x="458.4" y="242.8" width="25.2" height="1.2" fill="#acacff"/><rect x="458.4" y="243.8" width="25.2" height="1.2" fill="#a9a9ff"/><rect x="458.4" y="244.8" width="25.2" height="1.2" fill="#8585ff"/><rect x="458.4" y="245.8" width="25.2" height="1.2" fill="#ababff"/><rect x="458.4" y="246.8" width="25.2" height="1.2" fill="#a2a2ff"/><rect x="458.4" y="247.8" width="25.2" height="1.2" fill="#8080ff"/><rect x="458.4" y="248.8" width="25.2" height="1.2" fill="#7878ff"/><rect x="458.4" y="249.8" width="25.2" height="1.2" fill="#8888ff"/><rect x="458.4" y="250.8" width="25.2" height="1.2" fill="#9595ff"/><rect x="458.4" y="251.8" width="25.2" height="1.2" fill="#9090ff"/><rect x="458.4" y="252.8" width="25.2" height="1.2" fill="#a3a3ff"/><rect x="458.4" y="253.8" width="25.2" height="1.2" fill="#9a9aff"/><rect x="458.4" y="254.8" width="25.2" height="1.2" fill="#a5a5ff"/><rect x="458.4" y="255.8" width="25.2" height="1.2" fill="#a4a4ff"/><rect x="458.4" y="256.8" width="25.2" height="1.2" fill="#adadff"/><rect x="458.4" y="257.8" width="25.2" height="1.2" fill="#d1d1ff"/><rect x="458.4" y="258.8" width="25.2" height="1.2" fill="#acacff"/><rect x="458.4" y="259.8" width="25.2" height="2.2" fill="#b8b8ff"/><rect x="458.4" y="261.8" width="25.2" height="1.2" fill="#aeaeff"/><rect x="458.4" y="262.8" width="25.2" height="1.2" fill="#a9a9ff"/><rect x="458.4" y="263.8" width="25.2" height="1.2" fill="#b8b8ff"/><rect x="458.4" y="264.8" width="25.2" height="1.2" fill="#afafff"/><rect x="458.4" y="265.8" width="25.2" height="1.2" fill="#bcbcff"/><rect x="458.4" y="266.8" width="25.2" height="1.2" fill="#7171ff"/><rect x="458.4" y="267.8" width="25.2" height="1.2" fill="#8989ff"/><rect x="458.4" y="268.8" width="25.2" height="1.2" fill="#a9a9ff"/><rect x="458.4" y="269.8" width="25.2" height="1.2" fill="#c2c2ff"/><rect x="458.4" y="270.8" width="25.2" height="1.2" fill="#aeaeff"/><rect x="458.4" y="271.8" width="25.2" height="1.2" fill="#cdcdff"/><rect x="458.4" y="272.8" width="25.2" height="1.2" fill="#acacff"/><rect x="458.4" y="273.8" width="25.2" height="1.2" fill="#b0b0ff"/><rect x="458.4" y="274.8" width="25.2" height="1.2" fill="#a8a8ff"/><rect x="458.4" y="275.8" width="25.2" height="1.2" fill="#d8d8ff"/><rect x="458.4" y="276.8" width="25.2" height="1.2" fill="#b9b9ff"/><rect x="458.4" y="277.8" width="25.2" height="1.2" fill="#b8b8ff"/><rect x="458.4" y="278.8" width="25.2" height="1.2" fill="#b6b6ff"/><rect x="458.4" y="279.8" width="25.2" height="1.2" fill="#c1c1ff"/><rect x="458.4" y="280.8" width="25.2" height="1.2" fill="#bfbfff"/><rect x="458.4" y="281.8" width="25.2" height="1.2" fill="#c4c4ff"/><rect x="458.4" y="282.8" width="25.2" height="1.2" fill="#d0d0ff"/><rect x="458.4" y="283.8" width="25.2" height="1.2" fill="#cacaff"/><rect x="458.4" y="284.8" width="25.2" height="1.2" fill="#cbcbff"/><rect x="458.4" y="285.8" width="25.2" height="1.2" fill="#b0b0ff"/><rect x="458.4" y="286.8" width="25.2" height="1.2" fill="#ceceff"/><rect x="458.4" y="287.8" width="25.2" height="1.2" fill="#c2c2ff"/><rect x="458.4" y="288.8" width="25.2" height="1.2" fill="#e3e3ff"/><rect x="458.4" y="289.8" width="25.2" height="1.2" fill="#f0f0ff"/><rect x="458.4" y="290.8" width="25.2" height="1.2" fill="#e5e5ff"/><rect x="458.4" y="291.8" width="25.2" height="1.2" fill="#ffeded"/><rect x="458.4" y="292.8" width="25.2" height="1.2" fill="#ddddff"/><rect x="458.4" y="293.8" width="25.2" height="1.2" fill="#f2f2ff"/><rect x="458.4" y="294.8" width="25.2" height="1.2" fill="#e7e7ff"/><rect x="458.4" y="295.8" width="25.2" height="1.2" fill="#ffffff"/><rect x="458.4" y="296.8" width="25.2" height="1.2" fill="#e7e7ff"/><rect x="458.4" y="297.8" width="25.2" height="1.2" fill="#fff2f2"/><rect x="458.4" y="298.8" width="25.2" height="1.2" fill="#e7e7ff"/><rect x="458.4" y="299.8" width="25.2" height="1.2" fill="#fff2f2"/><rect x="458.4" y="300.8" width="25.2" height="1.2" fill="#fff3f3"/><rect x="458.4" y="301.8" width="25.2" height="1.2" fill="#ffecec"/><rect x="458.4" y="302.8" width="25.2" height="1.2" fill="#fffbfb"/><rect x="458.4" y="303.8" width="25.2" height="1.2" fill="#fff6f6"/><rect x="458.4" y="304.8" width="25.2" height="1.2" fill="#fffafa"/><rect x="458.4" y="305.8" width="25.2" height="1.2" fill="#f1f1ff"/><rect x="458.4" y="306.8" width="25.2" height="1.2" fill="#ebebff"/><rect x="458.4" y="307.8" width="25.2" height="1.2" fill="#ececff"/><rect x="458.4" y="308.8" width="25.2" height="1.2" fill="#f1f1ff"/><rect x="458.4" y="309.8" width="25.2" height="1.2" fill="#f5f5ff"/><rect x="458.4" y="310.8" width="25.2" height="1.2" fill="#f3f3ff"/><rect x="458.4" y="311.8" width="25.2" height="1.2" fill="#fafaff"/><rect x="458.4" y="312.8" width="25.2" height="1.2" fill="#f7f7ff"/><rect x="458.4" y="313.8" width="25.2" height="1.2" fill="#ededff"/><rect x="458.4" y="314.8" width="25.2" height="1.2" fill="#ddddff"/><rect x="458.4" y="315.8" width="25.2" height="1.2" fill="#ffffff"/><rect x="458.4" y="316.8" width="25.2" height="1.2" fill="#fbfbff"/><rect x="458.4" y="317.8" width="25.2" height="1.2" fill="#fcfcff"/><rect x="458.4" y="318.8" width="25.2" height="1.2" fill="#fff8f8"/><rect x="458.4" y="319.8" width="25.2" height="1.2" fill="#fdfdff"/><rect x="458.4" y="320.8" width="25.2" height="1.2" fill="#fefeff"/><rect x="458.4" y="321.8" width="25.2" height="1.2" fill="#fff9f9"/><rect x="458.4" y="322.8" width="25.2" height="1.2" fill="#ffe9e9"/><rect x="458.4" y="323.8" width="25.2" height="1.2" fill="#ffeaea"/><rect x="458.4" y="324.8" width="25.2" height="1.2" fill="#fffafa"/><rect x="458.4" y="325.8" width="25.2" height="1.2" fill="#fff3f3"/><rect x="458.4" y="326.8" width="25.2" height="1.2" fill="#ffe6e6"/><rect x="458.4" y="327.8" width="25.2" height="1.2" fill="#fffefe"/><rect x="458.4" y="328.8" width="25.2" height="1.2" fill="#ffebeb"/><rect x="458.4" y="329.8" width="25.2" height="1.2" fill="#ffefef"/><rect x="458.4" y="330.8" width="25.2" height="1.2" fill="#ffe4e4"/><rect x="458.4" y="331.8" width="25.2" height="1.2" fill="#e8e8ff"/><rect x="458.4" y="332.8" width="25.2" height="1.2" fill="#e0e0ff"/><rect x="458.4" y="333.8" width="25.2" height="1.2" fill="#fcfcff"/><rect x="458.4" y="334.8" width="25.2" height="1.2" fill="#efefff"/><rect x="458.4" y="335.8" width="25.2" height="1.2" fill="#fff3f3"/><rect x="458.4" y="336.8" width="25.2" height="1.2" fill="#efefff"/><rect x="458.4" y="337.8" width="25.2" height="1.2" fill="#f7f7ff"/><rect x="458.4" y="338.8" width="25.2" height="1.2" fill="#e1e1ff"/><rect x="458.4" y="339.8" width="25.2" height="1.2" fill="#f6f6ff"/><rect x="458.4" y="340.8" width="25.2" height="1.2" fill="#cdcdff"/><rect x="458.4" y="341.8" width="25.2" height="1.2" fill="#dedeff"/><rect x="458.4" y="342.8" width="25.2" height="1.2" fill="#e5e5ff"/><rect x="458.4" y="343.8" width="25.2" height="1.2" fill="#ececff"/><rect x="458.4" y="344.8" width="25.2" height="1.2" fill="#f6f6ff"/><rect x="458.4" y="345.8" width="25.2" height="1.2" fill="#f1f1ff"/><rect x="458.4" y="346.8" width="25.2" height="1.2" fill="#fefeff"/><rect x="458.4" y="347.8" width="25.2" height="1.2" fill="#ececff"/><rect x="458.4" y="348.8" width="25.2" height="1.2" fill="#efefff"/><rect x="458.4" y="349.8" width="25.2" height="1.2" fill="#f8f8ff"/><rect x="458.4" y="350.8" width="25.2" height="1.2" fill="#f6f6ff"/><rect x="458.4" y="351.8" width="25.2" height="2.2" fill="#f0f0ff"/><rect x="458.4" y="353.8" width="25.2" height="1.2" fill="#dedeff"/><rect x="458.4" y="354.8" width="25.2" height="1.2" fill="#d9d9ff"/><rect x="458.4" y="355.8" width="25.2" height="1.2" fill="#fbfbff"/><rect x="458.4" y="356.8" width="25.2" height="1.2" fill="#ddddff"/><rect x="458.4" y="357.8" width="25.2" height="1.2" fill="#e3e3ff"/><rect x="458.4" y="358.8" width="25.2" height="2.2" fill="#f7f7ff"/><rect x="458.4" y="360.8" width="25.2" height="1.2" fill="#f1f1ff"/><rect x="458.4" y="361.8" width="25.2" height="1.2" fill="#fdfdff"/><rect x="458.4" y="362.8" width="25.2" height="1.2" fill="#fff8f8"/><rect x="458.4" y="363.8" width="25.2" height="1.2" fill="#fff3f3"/><rect x="458.4" y="364.8" width="25.2" height="1.2" fill="#ffffff"/><rect x="458.4" y="365.8" width="25.2" height="1.2" fill="#ffe5e5"/><rect x="458.4" y="366.8" width="25.2" height="1.2" fill="#fff6f6"/><rect x="458.4" y="367.8" width="25.2" height="1.2" fill="#ffdcdc"/><rect x="458.4" y="368.8" width="25.2" height="1.2" fill="#ffe8e8"/><rect x="458.4" y="369.8" width="25.2" height="1.2" fill="#f0f0ff"/><rect x="458.4" y="370.8" width="25.2" height="1.2" fill="#ffe2e2"/><rect x="458.4" y="371.8" width="25.2" height="1.2" fill="#ffffff"/><rect x="458.4" y="372.8" width="25.2" height="1.2" fill="#fffdfd"/><rect x="458.4" y="373.8" width="25.2" height="1.2" fill="#e4e4ff"/><rect x="458.4" y="374.8" width="25.2" height="1.2" fill="#fffdfd"/><rect x="458.4" y="375.8" width="25.2" height="1.2" fill="#fffbfb"/><rect x="458.4" y="376.8" width="25.2" height="1.2" fill="#fff4f4"/><rect x="458.4" y="377.8" width="25.2" height="1.2" fill="#ffd9d9"/><rect x="458.4" y="378.8" width="25.2" height="1.2" fill="#ffd5d5"/><rect x="458.4" y="379.8" width="25.2" height="1.2" fill="#fffdfd"/><rect x="458.4" y="380.8" width="25.2" height="1.2" fill="#ffd1d1"/><rect x="458.4" y="381.8" width="25.2" height="1.2" fill="#ffd9d9"/><rect x="458.4" y="382.8" width="25.2" height="1.2" fill="#ffd8d8"/><rect x="458.4" y="383.8" width="25.2" height="1.2" fill="#ffc8c8"/><rect x="458.4" y="384.8" width="25.2" height="1.2" fill="#ffc6c6"/><rect x="458.4" y="385.8" width="25.2" height="1.2" fill="#ffbbbb"/><rect x="458.4" y="386.8" width="25.2" height="1.2" fill="#ffc0c0"/><rect x="458.4" y="387.8" width="25.2" height="1.2" fill="#ffb7b7"/><rect x="458.4" y="388.8" width="25.2" height="1.2" fill="#ffbcbc"/><rect x="458.4" y="389.8" width="25.2" height="1.2" fill="#ffc1c1"/><rect x="458.4" y="390.8" width="25.2" height="1.2" fill="#ffd7d7"/><rect x="458.4" y="391.8" width="25.2" height="1.2" fill="#ffd6d6"/><rect x="458.4" y="392.8" width="25.2" height="1.2" fill="#ffd4d4"/><rect x="458.4" y="393.8" width="25.2" height="1.2" fill="#ffe0e0"/><rect x="458.4" y="394.8" width="25.2" height="1.2" fill="#ffcece"/><rect x="458.4" y="395.8" width="25.2" height="2.2" fill="#ffd2d2"/><rect x="458.4" y="397.8" width="25.2" height="1.2" fill="#ffeaea"/><rect x="458.4" y="398.8" width="25.2" height="1.2" fill="#ffc2c2"/><rect x="458.4" y="399.8" width="25.2" height="1.2" fill="#ffb8b8"/><rect x="458.4" y="400.8" width="25.2" height="1.2" fill="#ffb6b6"/><rect x="458.4" y="401.8" width="25.2" height="1.2" fill="#ffd0d0"/><rect x="458.4" y="402.8" width="25.2" height="1.2" fill="#ffd5d5"/><rect x="458.4" y="403.8" width="25.2" height="1.2" fill="#ffe6e6"/><rect x="458.4" y="404.8" width="25.2" height="1.2" fill="#ffd6d6"/><rect x="458.4" y="405.8" width="25.2" height="1.2" fill="#ffd4d4"/><rect x="458.4" y="406.8" width="25.2" height="1.2" fill="#ffcfcf"/><rect x="458.4" y="407.8" width="25.2" height="1.2" fill="#ffdbdb"/><rect x="458.4" y="408.8" width="25.2" height="1.2" fill="#ffe2e2"/><rect x="458.4" y="409.8" width="25.2" height="1.2" fill="#ffa2a2"/><rect x="458.4" y="410.8" width="25.2" height="1.2" fill="#ffadad"/><rect x="458.4" y="411.8" width="25.2" height="1.2" fill="#ffd2d2"/><rect x="458.4" y="412.8" width="25.2" height="1.2" fill="#ffbebe"/><rect x="458.4" y="413.8" width="25.2" height="2.2" fill="#ffb7b7"/><rect x="458.4" y="415.8" width="25.2" height="1.2" fill="#ffc4c4"/><rect x="458.4" y="416.8" width="25.2" height="1.2" fill="#ffbbbb"/><rect x="458.4" y="417.8" width="25.2" height="1.2" fill="#ffbebe"/><rect x="458.4" y="418.8" width="25.2" height="1.2" fill="#ffaaaa"/><rect x="458.4" y="419.8" width="25.2" height="1.2" fill="#ffa9a9"/><rect x="458.4" y="420.8" width="25.2" height="1.2" fill="#ffc4c4"/><rect x="458.4" y="421.8" width="25.2" height="1.2" fill="#ffbfbf"/><rect x="458.4" y="422.8" width="25.2" height="1.2" fill="#ffb3b3"/><rect x="458.4" y="423.8" width="25.2" height="1.2" fill="#ffadad"/><rect x="458.4" y="424.8" width="25.2" height="1.2" fill="#ffaeae"/><rect x="458.4" y="425.8" width="25.2" height="1.2" fill="#ffa9a9"/><rect x="458.4" y="426.8" width="25.2" height="1.2" fill="#ffb8b8"/><rect x="458.4" y="427.8" width="25.2" height="1.2" fill="#f8f8ff"/><rect x="458.4" y="428.8" width="25.2" height="1.2" fill="#ffe2e2"/><rect x="458.4" y="429.8" width="25.2" height="1.2" fill="#ffeaea"/><rect x="458.4" y="430.8" width="25.2" height="1.2" fill="#ffe0e0"/><rect x="458.4" y="431.8" width="25.2" height="1.2" fill="#ffdede"/><rect x="458.4" y="432.8" width="25.2" height="1.2" fill="#ffe9e9"/><rect x="458.4" y="433.8" width="25.2" height="1.2" fill="#fff2f2"/><rect x="458.4" y="434.8" width="25.2" height="1.2" fill="#ffbfbf"/><rect x="458.4" y="435.8" width="25.2" height="1.2" fill="#ffdcdc"/><rect x="458.4" y="436.8" width="25.2" height="1.2" fill="#ffecec"/><rect x="458.4" y="437.8" width="25.2" height="1.2" fill="#fff0f0"/><rect x="458.4" y="438.8" width="25.2" height="1.2" fill="#ffefef"/><rect x="458.4" y="439.8" width="25.2" height="1.2" fill="#ffeeee"/><rect x="458.4" y="440.8" width="25.2" height="1.2" fill="#ffe5e5"/><rect x="458.4" y="441.8" width="25.2" height="1.2" fill="#ffb0b0"/><rect x="458.4" y="442.8" width="25.2" height="1.2" fill="#ffbcbc"/><rect x="458.4" y="443.8" width="25.2" height="1.2" fill="#ffb0b0"/><rect x="458.4" y="444.8" width="25.2" height="1.2" fill="#ffa6a6"/><rect x="458.4" y="445.8" width="25.2" height="1.2" fill="#ffc4c4"/><rect x="458.4" y="446.8" width="25.2" height="1.2" fill="#ff9292"/><rect x="458.4" y="447.8" width="25.2" height="1.2" fill="#ff9595"/><rect x="458.4" y="448.8" width="25.2" height="1.2" fill="#ffa4a4"/><rect x="458.4" y="449.8" width="25.2" height="1.2" fill="#ffabab"/><rect x="458.4" y="450.8" width="25.2" height="1.2" fill="#ff9f9f"/><rect x="458.4" y="451.8" width="25.2" height="1.2" fill="#ffa5a5"/><rect x="458.4" y="452.8" width="25.2" height="1.2" fill="#ffa8a8"/><rect x="458.4" y="453.8" width="25.2" height="1.2" fill="#ff9999"/><rect x="458.4" y="454.8" width="25.2" height="1.2" fill="#ff8a8a"/><rect x="458.4" y="455.8" width="25.2" height="1.2" fill="#ff7171"/><rect x="458.4" y="456.8" width="25.2" height="1.2" fill="#ff8282"/><rect x="458.4" y="457.8" width="25.2" height="1.2" fill="#ff9f9f"/><rect x="458.4" y="458.8" width="25.2" height="1.2" fill="#ff7e7e"/><rect x="458.4" y="459.8" width="25.2" height="1.2" fill="#ff7676"/><rect x="458.4" y="460.8" width="25.2" height="1.2" fill="#ff9898"/><rect x="458.4" y="461.8" width="25.2" height="1.2" fill="#ff8b8b"/><rect x="458.4" y="462.8" width="25.2" height="1.2" fill="#ff9292"/><rect x="458.4" y="463.8" width="25.2" height="1.2" fill="#ffa6a6"/><rect x="458.4" y="464.8" width="25.2" height="1.2" fill="#ff8585"/><rect x="458.4" y="465.8" width="25.2" height="1.2" fill="#ff8a8a"/><rect x="458.4" y="466.8" width="25.2" height="1.2" fill="#ffadad"/><rect x="458.4" y="467.8" width="25.2" height="1.2" fill="#ffb5b5"/><rect x="458.4" y="468.8" width="25.2" height="1.2" fill="#ffbaba"/><rect x="458.4" y="469.8" width="25.2" height="1.2" fill="#ff9a9a"/><rect x="458.4" y="470.8" width="25.2" height="1.2" fill="#ffa4a4"/><rect x="458.4" y="471.8" width="25.2" height="1.2" fill="#ff9191"/><rect x="458.4" y="472.8" width="25.2" height="1.2" fill="#ff9494"/><rect x="458.4" y="473.8" width="25.2" height="1.2" fill="#ff8888"/><rect x="458.4" y="474.8" width="25.2" height="1.2" fill="#ff7777"/><rect x="458.4" y="475.8" width="25.2" height="1.2" fill="#ff6d6d"/><rect x="458.4" y="476.8" width="25.2" height="1.2" fill="#ff5e5e"/><rect x="458.4" y="477.8" width="25.2" height="1.2" fill="#ff2525"/><rect x="458.4" y="478.8" width="25.2" height="1.2" fill="#ff2020"/><rect x="458.4" y="479.8" width="25.2" height="1.2" fill="#ff1b1b"/><rect x="458.4" y="480.8" width="25.2" height="1.2" fill="#ff1515"/><rect x="458.4" y="481.8" width="25.2" height="1.2" fill="#ff1010"/><rect x="483.3" y="195.8" width="25.2" height="1.2" fill="#1414ff"/><rect x="483.3" y="196.8" width="25.2" height="1.2" fill="#0000ff"/><rect x="483.3" y="197.8" width="25.2" height="1.2" fill="#0b0bff"/><rect x="483.3" y="198.8" width="25.2" height="1.2" fill="#0808ff"/><rect x="483.3" y="199.8" width="25.2" height="1.2" fill="#1616ff"/><rect x="483.3" y="200.8" width="25.2" height="1.2" fill="#2828ff"/><rect x="483.3" y="201.8" width="25.2" height="1.2" fill="#3030ff"/><rect x="483.3" y="202.8" width="25.2" height="1.2" fill="#2626ff"/><rect x="483.3" y="203.8" width="25.2" height="1.2" fill="#2f2fff"/><rect x="483.3" y="204.8" width="25.2" height="1.2" fill="#3333ff"/><rect x="483.3" y="205.8" width="25.2" height="1.2" fill="#4848ff"/><rect x="483.3" y="206.8" width="25.2" height="1.2" fill="#4545ff"/><rect x="483.3" y="207.8" width="25.2" height="1.2" fill="#3b3bff"/><rect x="483.3" y="208.8" width="25.2" height="1.2" fill="#4848ff"/><rect x="483.3" y="209.8" width="25.2" height="1.2" fill="#3c3cff"/><rect x="483.3" y="210.8" width="25.2" height="1.2" fill="#3838ff"/><rect x="483.3" y="211.8" width="25.2" height="1.2" fill="#3e3eff"/><rect x="483.3" y="212.8" width="25.2" height="1.2" fill="#4c4cff"/><rect x="483.3" y="213.8" width="25.2" height="1.2" fill="#6c6cff"/><rect x="483.3" y="214.8" width="25.2" height="1.2" fill="#4747ff"/><rect x="483.3" y="215.8" width="25.2" height="1.2" fill="#5454ff"/><rect x="483.3" y="216.8" width="25.2" height="1.2" fill="#3e3eff"/><rect x="483.3" y="217.8" width="25.2" height="1.2" fill="#5959ff"/><rect x="483.3" y="218.8" width="25.2" height="1.2" fill="#5656ff"/><rect x="483.3" y="219.8" width="25.2" height="1.2" fill="#5d5dff"/><rect x="483.3" y="220.8" width="25.2" height="1.2" fill="#6868ff"/><rect x="483.3" y="221.8" width="25.2" height="1.2" fill="#5f5fff"/><rect x="483.3" y="222.8" width="25.2" height="1.2" fill="#4c4cff"/><rect x="483.3" y="223.8" width="25.2" height="1.2" fill="#6363ff"/><rect x="483.3" y="224.8" width="25.2" height="1.2" fill="#5e5eff"/><rect x="483.3" y="225.8" width="25.2" height="1.2" fill="#7979ff"/><rect x="483.3" y="226.8" width="25.2" height="1.2" fill="#7e7eff"/><rect x="483.3" y="227.8" width="25.2" height="1.2" fill="#9090ff"/><rect x="483.3" y="228.8" width="25.2" height="1.2" fill="#7171ff"/><rect x="483.3" y="229.8" width="25.2" height="1.2" fill="#6363ff"/><rect x="483.3" y="230.8" width="25.2" height="1.2" fill="#4a4aff"/><rect x="483.3" y="231.8" width="25.2" height="1.2" fill="#6060ff"/><rect x="483.3" y="232.8" width="25.2" height="1.2" fill="#7171ff"/><rect x="483.3" y="233.8" width="25.2" height="1.2" fill="#7b7bff"/><rect x="483.3" y="234.8" width="25.2" height="1.2" fill="#cfcfff"/><rect x="483.3" y="235.8" width="25.2" height="1.2" fill="#9696ff"/><rect x="483.3" y="236.8" width="25.2" height="1.2" fill="#9f9fff"/><rect x="483.3" y="237.8" width="25.2" height="1.2" fill="#8d8dff"/><rect x="483.3" y="238.8" width="25.2" height="1.2" fill="#9797ff"/><rect x="483.3" y="239.8" width="25.2" height="1.2" fill="#b4b4ff"/><rect x="483.3" y="240.8" width="25.2" height="1.2" fill="#babaff"/><rect x="483.3" y="241.8" width="25.2" height="1.2" fill="#c6c6ff"/><rect x="483.3" y="242.8" width="25.2" height="1.2" fill="#d8d8ff"/><rect x="483.3" y="243.8" width="25.2" height="1.2" fill="#bebeff"/><rect x="483.3" y="244.8" width="25.2" height="1.2" fill="#8e8eff"/><rect x="483.3" y="245.8" width="25.2" height="1.2" fill="#9292ff"/><rect x="483.3" y="246.8" width="25.2" height="1.2" fill="#8b8bff"/><rect x="483.3" y="247.8" width="25.2" height="1.2" fill="#7e7eff"/><rect x="483.3" y="248.8" width="25.2" height="1.2" fill="#7171ff"/><rect x="483.3" y="249.8" width="25.2" height="1.2" fill="#6868ff"/><rect x="483.3" y="250.8" width="25.2" height="1.2" fill="#6a6aff"/><rect x="483.3" y="251.8" width="25.2" height="1.2" fill="#9494ff"/><rect x="483.3" y="252.8" width="25.2" height="1.2" fill="#c2c2ff"/><rect x="483.3" y="253.8" width="25.2" height="1.2" fill="#d1d1ff"/><rect x="483.3" y="254.8" width="25.2" height="1.2" fill="#c0c0ff"/><rect x="483.3" y="255.8" width="25.2" height="1.2" fill="#bcbcff"/><rect x="483.3" y="256.8" width="25.2" height="1.2" fill="#b0b0ff"/><rect x="483.3" y="257.8" width="25.2" height="1.2" fill="#c9c9ff"/><rect x="483.3" y="258.8" width="25.2" height="1.2" fill="#bcbcff"/><rect x="483.3" y="259.8" width="25.2" height="1.2" fill="#a5a5ff"/><rect x="483.3" y="260.8" width="25.2" height="1.2" fill="#8b8bff"/><rect x="483.3" y="261.8" width="25.2" height="1.2" fill="#6e6eff"/><rect x="483.3" y="262.8" width="25.2" height="2.2" fill="#7f7fff"/><rect x="483.3" y="264.8" width="25.2" height="1.2" fill="#8b8bff"/><rect x="483.3" y="265.8" width="25.2" height="1.2" fill="#aeaeff"/><rect x="483.3" y="266.8" width="25.2" height="1.2" fill="#afafff"/><rect x="483.3" y="267.8" width="25.2" height="1.2" fill="#bfbfff"/><rect x="483.3" y="268.8" width="25.2" height="1.2" fill="#d8d8ff"/><rect x="483.3" y="269.8" width="25.2" height="1.2" fill="#ececff"/><rect x="483.3" y="270.8" width="25.2" height="1.2" fill="#e4e4ff"/><rect x="483.3" y="271.8" width="25.2" height="1.2" fill="#d3d3ff"/><rect x="483.3" y="272.8" width="25.2" height="1.2" fill="#d0d0ff"/><rect x="483.3" y="273.8" width="25.2" height="1.2" fill="#bcbcff"/><rect x="483.3" y="274.8" width="25.2" height="1.2" fill="#ccccff"/><rect x="483.3" y="275.8" width="25.2" height="1.2" fill="#bbbbff"/><rect x="483.3" y="276.8" width="25.2" height="1.2" fill="#babaff"/><rect x="483.3" y="277.8" width="25.2" height="1.2" fill="#bebeff"/><rect x="483.3" y="278.8" width="25.2" height="1.2" fill="#c0c0ff"/><rect x="483.3" y="279.8" width="25.2" height="1.2" fill="#bfbfff"/><rect x="483.3" y="280.8" width="25.2" height="1.2" fill="#e3e3ff"/><rect x="483.3" y="281.8" width="25.2" height="1.2" fill="#d1d1ff"/><rect x="483.3" y="282.8" width="25.2" height="1.2" fill="#efefff"/><rect x="483.3" y="283.8" width="25.2" height="1.2" fill="#ececff"/><rect x="483.3" y="284.8" width="25.2" height="1.2" fill="#c7c7ff"/><rect x="483.3" y="285.8" width="25.2" height="1.2" fill="#d1d1ff"/><rect x="483.3" y="286.8" width="25.2" height="1.2" fill="#e5e5ff"/><rect x="483.3" y="287.8" width="25.2" height="1.2" fill="#cfcfff"/><rect x="483.3" y="288.8" width="25.2" height="1.2" fill="#d6d6ff"/><rect x="483.3" y="289.8" width="25.2" height="1.2" fill="#fff5f5"/><rect x="483.3" y="290.8" width="25.2" height="1.2" fill="#ffe8e8"/><rect x="483.3" y="291.8" width="25.2" height="1.2" fill="#ffc6c6"/><rect x="483.3" y="292.8" width="25.2" height="1.2" fill="#ffe2e2"/><rect x="483.3" y="293.8" width="25.2" height="1.2" fill="#fff5f5"/><rect x="483.3" y="294.8" width="25.2" height="1.2" fill="#ffe5e5"/><rect x="483.3" y="295.8" width="25.2" height="1.2" fill="#ffebeb"/><rect x="483.3" y="296.8" width="25.2" height="1.2" fill="#fffbfb"/><rect x="483.3" y="297.8" width="25.2" height="1.2" fill="#fffefe"/><rect x="483.3" y="298.8" width="25.2" height="2.2" fill="#ffdada"/><rect x="483.3" y="300.8" width="25.2" height="2.2" fill="#ffe8e8"/><rect x="483.3" y="302.8" width="25.2" height="1.2" fill="#ffe5e5"/><rect x="483.3" y="303.8" width="25.2" height="1.2" fill="#ffe9e9"/><rect x="483.3" y="304.8" width="25.2" height="1.2" fill="#fff3f3"/><rect x="483.3" y="305.8" width="25.2" height="1.2" fill="#ffebeb"/><rect x="483.3" y="306.8" width="25.2" height="1.2" fill="#ffe4e4"/><rect x="483.3" y="307.8" width="25.2" height="1.2" fill="#f7f7ff"/><rect x="483.3" y="308.8" width="25.2" height="1.2" fill="#ffeaea"/><rect x="483.3" y="309.8" width="25.2" height="1.2" fill="#fff2f2"/><rect x="483.3" y="310.8" width="25.2" height="1.2" fill="#ffe9e9"/><rect x="483.3" y="311.8" width="25.2" height="1.2" fill="#fff0f0"/><rect x="483.3" y="312.8" width="25.2" height="1.2" fill="#ffdfdf"/><rect x="483.3" y="313.8" width="25.2" height="1.2" fill="#ffdcdc"/><rect x="483.3" y="314.8" width="25.2" height="1.2" fill="#ffe4e4"/><rect x="483.3" y="315.8" width="25.2" height="1.2" fill="#ffc3c3"/><rect x="483.3" y="316.8" width="25.2" height="1.2" fill="#ffb8b8"/><rect x="483.3" y="317.8" width="25.2" height="1.2" fill="#ffafaf"/><rect x="483.3" y="318.8" width="25.2" height="1.2" fill="#ffb4b4"/><rect x="483.3" y="319.8" width="25.2" height="1.2" fill="#ffbfbf"/><rect x="483.3" y="320.8" width="25.2" height="1.2" fill="#ffd8d8"/><rect x="483.3" y="321.8" width="25.2" height="1.2" fill="#ffc0c0"/><rect x="483.3" y="322.8" width="25.2" height="1.2" fill="#ffbcbc"/><rect x="483.3" y="323.8" width="25.2" height="1.2" fill="#ffd2d2"/><rect x="483.3" y="324.8" width="25.2" height="1.2" fill="#ffd9d9"/><rect x="483.3" y="325.8" width="25.2" height="1.2" fill="#ffdfdf"/><rect x="483.3" y="326.8" width="25.2" height="1.2" fill="#ffcdcd"/><rect x="483.3" y="327.8" width="25.2" height="1.2" fill="#ffecec"/><rect x="483.3" y="328.8" width="25.2" height="1.2" fill="#ffe0e0"/><rect x="483.3" y="329.8" width="25.2" height="1.2" fill="#ffc5c5"/><rect x="483.3" y="330.8" width="25.2" height="1.2" fill="#ffb5b5"/><rect x="483.3" y="331.8" width="25.2" height="2.2" fill="#ffeeee"/><rect x="483.3" y="333.8" width="25.2" height="1.2" fill="#ffebeb"/><rect x="483.3" y="334.8" width="25.2" height="1.2" fill="#fff8f8"/><rect x="483.3" y="335.8" width="25.2" height="1.2" fill="#ffdbdb"/><rect x="483.3" y="336.8" width="25.2" height="1.2" fill="#fff6f6"/><rect x="483.3" y="337.8" width="25.2" height="1.2" fill="#fafaff"/><rect x="483.3" y="338.8" width="25.2" height="1.2" fill="#cbcbff"/><rect x="483.3" y="339.8" width="25.2" height="1.2" fill="#bfbfff"/><rect x="483.3" y="340.8" width="25.2" height="2.2" fill="#babaff"/><rect x="483.3" y="342.8" width="25.2" height="1.2" fill="#a9a9ff"/><rect x="483.3" y="343.8" width="25.2" height="1.2" fill="#bbbbff"/><rect x="483.3" y="344.8" width="25.2" height="1.2" fill="#dadaff"/><rect x="483.3" y="345.8" width="25.2" height="1.2" fill="#c8c8ff"/><rect x="483.3" y="346.8" width="25.2" height="1.2" fill="#dcdcff"/><rect x="483.3" y="347.8" width="25.2" height="1.2" fill="#c9c9ff"/><rect x="483.3" y="348.8" width="25.2" height="1.2" fill="#aeaeff"/><rect x="483.3" y="349.8" width="25.2" height="1.2" fill="#c7c7ff"/><rect x="483.3" y="350.8" width="25.2" height="1.2" fill="#c4c4ff"/><rect x="483.3" y="351.8" width="25.2" height="1.2" fill="#cdcdff"/><rect x="483.3" y="352.8" width="25.2" height="1.2" fill="#c5c5ff"/><rect x="483.3" y="353.8" width="25.2" height="1.2" fill="#c3c3ff"/><rect x="483.3" y="354.8" width="25.2" height="1.2" fill="#b3b3ff"/><rect x="483.3" y="355.8" width="25.2" height="1.2" fill="#babaff"/><rect x="483.3" y="356.8" width="25.2" height="1.2" fill="#d1d1ff"/><rect x="483.3" y="357.8" width="25.2" height="1.2" fill="#c7c7ff"/><rect x="483.3" y="358.8" width="25.2" height="1.2" fill="#cfcfff"/><rect x="483.3" y="359.8" width="25.2" height="1.2" fill="#bebeff"/><rect x="483.3" y="360.8" width="25.2" height="1.2" fill="#c6c6ff"/><rect x="483.3" y="361.8" width="25.2" height="1.2" fill="#f0f0ff"/><rect x="483.3" y="362.8" width="25.2" height="1.2" fill="#e2e2ff"/><rect x="483.3" y="363.8" width="25.2" height="1.2" fill="#f2f2ff"/><rect x="483.3" y="364.8" width="25.2" height="1.2" fill="#ebebff"/><rect x="483.3" y="365.8" width="25.2" height="1.2" fill="#efefff"/><rect x="483.3" y="366.8" width="25.2" height="1.2" fill="#ddddff"/><rect x="483.3" y="367.8" width="25.2" height="1.2" fill="#fbfbff"/><rect x="483.3" y="368.8" width="25.2" height="1.2" fill="#fdfdff"/><rect x="483.3" y="369.8" width="25.2" height="1.2" fill="#eeeeff"/><rect x="483.3" y="370.8" width="25.2" height="1.2" fill="#fff5f5"/><rect x="483.3" y="371.8" width="25.2" height="1.2" fill="#ffebeb"/><rect x="483.3" y="372.8" width="25.2" height="1.2" fill="#fff8f8"/><rect x="483.3" y="373.8" width="25.2" height="2.2" fill="#ffeaea"/><rect x="483.3" y="375.8" width="25.2" height="1.2" fill="#fff3f3"/><rect x="483.3" y="376.8" width="25.2" height="1.2" fill="#f1f1ff"/><rect x="483.3" y="377.8" width="25.2" height="1.2" fill="#fff4f4"/><rect x="483.3" y="378.8" width="25.2" height="1.2" fill="#ffe9e9"/><rect x="483.3" y="379.8" width="25.2" height="1.2" fill="#ffe0e0"/><rect x="483.3" y="380.8" width="25.2" height="1.2" fill="#ffcbcb"/><rect x="483.3" y="381.8" width="25.2" height="1.2" fill="#ffb2b2"/><rect x="483.3" y="382.8" width="25.2" height="1.2" fill="#ffbcbc"/><rect x="483.3" y="383.8" width="25.2" height="1.2" fill="#ffadad"/><rect x="483.3" y="384.8" width="25.2" height="1.2" fill="#ffb7b7"/><rect x="483.3" y="385.8" width="25.2" height="1.2" fill="#ffa3a3"/><rect x="483.3" y="386.8" width="25.2" height="1.2" fill="#ffb4b4"/><rect x="483.3" y="387.8" width="25.2" height="1.2" fill="#ffa8a8"/><rect x="483.3" y="388.8" width="25.2" height="1.2" fill="#ffa4a4"/><rect x="483.3" y="389.8" width="25.2" height="1.2" fill="#ffabab"/><rect x="483.3" y="390.8" width="25.2" height="1.2" fill="#ffcece"/><rect x="483.3" y="391.8" width="25.2" height="1.2" fill="#ffb8b8"/><rect x="483.3" y="392.8" width="25.2" height="1.2" fill="#ffcfcf"/><rect x="483.3" y="393.8" width="25.2" height="1.2" fill="#ffc5c5"/><rect x="483.3" y="394.8" width="25.2" height="1.2" fill="#ffb0b0"/><rect x="483.3" y="395.8" width="25.2" height="1.2" fill="#ffbcbc"/><rect x="483.3" y="396.8" width="25.2" height="1.2" fill="#ffa0a0"/><rect x="483.3" y="397.8" width="25.2" height="1.2" fill="#ffbaba"/><rect x="483.3" y="398.8" width="25.2" height="1.2" fill="#ff9797"/><rect x="483.3" y="399.8" width="25.2" height="1.2" fill="#ffaaaa"/><rect x="483.3" y="400.8" width="25.2" height="1.2" fill="#ffafaf"/><rect x="483.3" y="401.8" width="25.2" height="1.2" fill="#ffcfcf"/><rect x="483.3" y="402.8" width="25.2" height="1.2" fill="#ffc5c5"/><rect x="483.3" y="403.8" width="25.2" height="1.2" fill="#ffcece"/><rect x="483.3" y="404.8" width="25.2" height="1.2" fill="#ffd3d3"/><rect x="483.3" y="405.8" width="25.2" height="1.2" fill="#ffb5b5"/><rect x="483.3" y="406.8" width="25.2" height="1.2" fill="#ffaeae"/><rect x="483.3" y="407.8" width="25.2" height="1.2" fill="#ffc8c8"/><rect x="483.3" y="408.8" width="25.2" height="1.2" fill="#ffadad"/><rect x="483.3" y="409.8" width="25.2" height="1.2" fill="#ff9898"/><rect x="483.3" y="410.8" width="25.2" height="1.2" fill="#ffa9a9"/><rect x="483.3" y="411.8" width="25.2" height="1.2" fill="#ffa4a4"/><rect x="483.3" y="412.8" width="25.2" height="1.2" fill="#ffa6a6"/><rect x="483.3" y="413.8" width="25.2" height="1.2" fill="#ff9c9c"/><rect x="483.3" y="414.8" width="25.2" height="1.2" fill="#ffa4a4"/><rect x="483.3" y="415.8" width="25.2" height="1.2" fill="#ff9494"/><rect x="483.3" y="416.8" width="25.2" height="1.2" fill="#ff9595"/><rect x="483.3" y="417.8" width="25.2" height="1.2" fill="#ffaaaa"/><rect x="483.3" y="418.8" width="25.2" height="1.2" fill="#ff8f8f"/><rect x="483.3" y="419.8" width="25.2" height="1.2" fill="#ffa2a2"/><rect x="483.3" y="420.8" width="25.2" height="1.2" fill="#ffbdbd"/><rect x="483.3" y="421.8" width="25.2" height="1.2" fill="#ffa9a9"/><rect x="483.3" y="422.8" width="25.2" height="1.2" fill="#ff9999"/><rect x="483.3" y="423.8" width="25.2" height="1.2" fill="#ffb7b7"/><rect x="483.3" y="424.8" width="25.2" height="1.2" fill="#ffeded"/><rect x="483.3" y="425.8" width="25.2" height="1.2" fill="#f4f4ff"/><rect x="483.3" y="426.8" width="25.2" height="1.2" fill="#f9f9ff"/><rect x="483.3" y="427.8" width="25.2" height="1.2" fill="#f6f6ff"/><rect x="483.3" y="428.8" width="25.2" height="1.2" fill="#ffefef"/><rect x="483.3" y="429.8" width="25.2" height="1.2" fill="#ffeaea"/><rect x="483.3" y="430.8" width="25.2" height="1.2" fill="#fff1f1"/><rect x="483.3" y="431.8" width="25.2" height="1.2" fill="#fff6f6"/><rect x="483.3" y="432.8" width="25.2" height="1.2" fill="#ffe4e4"/><rect x="483.3" y="433.8" width="25.2" height="1.2" fill="#fff0f0"/><rect x="483.3" y="434.8" width="25.2" height="1.2" fill="#ffeaea"/><rect x="483.3" y="435.8" width="25.2" height="2.2" fill="#ffe9e9"/><rect x="483.3" y="437.8" width="25.2" height="1.2" fill="#ffebeb"/><rect x="483.3" y="438.8" width="25.2" height="1.2" fill="#ffeaea"/><rect x="483.3" y="439.8" width="25.2" height="1.2" fill="#ffdddd"/><rect x="483.3" y="440.8" width="25.2" height="1.2" fill="#ffe7e7"/><rect x="483.3" y="441.8" width="25.2" height="1.2" fill="#ffefef"/><rect x="483.3" y="442.8" width="25.2" height="1.2" fill="#ffc8c8"/><rect x="483.3" y="443.8" width="25.2" height="2.2" fill="#ffbcbc"/><rect x="483.3" y="445.8" width="25.2" height="1.2" fill="#ffd1d1"/><rect x="483.3" y="446.8" width="25.2" height="1.2" fill="#ff9a9a"/><rect x="483.3" y="447.8" width="25.2" height="1.2" fill="#ff9d9d"/><rect x="483.3" y="448.8" width="25.2" height="1.2" fill="#ffa3a3"/><rect x="483.3" y="449.8" width="25.2" height="1.2" fill="#ffb5b5"/><rect x="483.3" y="450.8" width="25.2" height="1.2" fill="#ff9292"/><rect x="483.3" y="451.8" width="25.2" height="2.2" fill="#ff9b9b"/><rect x="483.3" y="453.8" width="25.2" height="1.2" fill="#ff9898"/><rect x="483.3" y="454.8" width="25.2" height="1.2" fill="#ff9494"/><rect x="483.3" y="455.8" width="25.2" height="1.2" fill="#ff7e7e"/><rect x="483.3" y="456.8" width="25.2" height="1.2" fill="#ff8585"/><rect x="483.3" y="457.8" width="25.2" height="1.2" fill="#ff9f9f"/><rect x="483.3" y="458.8" width="25.2" height="1.2" fill="#ff9696"/><rect x="483.3" y="459.8" width="25.2" height="1.2" fill="#ff8080"/><rect x="483.3" y="460.8" width="25.2" height="1.2" fill="#ff8989"/><rect x="483.3" y="461.8" width="25.2" height="1.2" fill="#ff7b7b"/><rect x="483.3" y="462.8" width="25.2" height="1.2" fill="#ff6c6c"/><rect x="483.3" y="463.8" width="25.2" height="1.2" fill="#ff7575"/><rect x="483.3" y="464.8" width="25.2" height="1.2" fill="#ff6868"/><rect x="483.3" y="465.8" width="25.2" height="1.2" fill="#ff7474"/><rect x="483.3" y="466.8" width="25.2" height="1.2" fill="#ff9191"/><rect x="483.3" y="467.8" width="25.2" height="1.2" fill="#ffadad"/><rect x="483.3" y="468.8" width="25.2" height="1.2" fill="#ffb2b2"/><rect x="483.3" y="469.8" width="25.2" height="1.2" fill="#ff9999"/><rect x="483.3" y="470.8" width="25.2" height="1.2" fill="#ff9797"/><rect x="483.3" y="471.8" width="25.2" height="1.2" fill="#ffa4a4"/><rect x="483.3" y="472.8" width="25.2" height="1.2" fill="#ff9191"/><rect x="483.3" y="473.8" width="25.2" height="1.2" fill="#ff8b8b"/><rect x="483.3" y="474.8" width="25.2" height="1.2" fill="#ff9393"/><rect x="483.3" y="475.8" width="25.2" height="1.2" fill="#ff7d7d"/><rect x="483.3" y="476.8" width="25.2" height="1.2" fill="#ff6f6f"/><rect x="483.3" y="477.8" width="25.2" height="1.2" fill="#ff2525"/><rect x="483.3" y="478.8" width="25.2" height="1.2" fill="#ff2020"/><rect x="483.3" y="479.8" width="25.2" height="1.2" fill="#ff1b1b"/><rect x="483.3" y="480.8" width="25.2" height="1.2" fill="#ff1515"/><rect x="483.3" y="481.8" width="25.2" height="1.2" fill="#ff1010"/><rect x="508.2" y="195.8" width="25.2" height="1.2" fill="#1414ff"/><rect x="508.2" y="196.8" width="25.2" height="1.2" fill="#0000ff"/><rect x="508.2" y="197.8" width="25.2" height="1.2" fill="#0707ff"/><rect x="508.2" y="198.8" width="25.2" height="1.2" fill="#1313ff"/><rect x="508.2" y="199.8" width="25.2" height="1.2" fill="#1111ff"/><rect x="508.2" y="200.8" width="25.2" height="1.2" fill="#3333ff"/><rect x="508.2" y="201.8" width="25.2" height="1.2" fill="#2323ff"/><rect x="508.2" y="202.8" width="25.2" height="1.2" fill="#2f2fff"/><rect x="508.2" y="203.8" width="25.2" height="1.2" fill="#2b2bff"/><rect x="508.2" y="204.8" width="25.2" height="1.2" fill="#3e3eff"/><rect x="508.2" y="205.8" width="25.2" height="1.2" fill="#5d5dff"/><rect x="508.2" y="206.8" width="25.2" height="1.2" fill="#4444ff"/><rect x="508.2" y="207.8" width="25.2" height="1.2" fill="#3d3dff"/><rect x="508.2" y="208.8" width="25.2" height="1.2" fill="#3e3eff"/><rect x="508.2" y="209.8" width="25.2" height="1.2" fill="#3d3dff"/><rect x="508.2" y="210.8" width="25.2" height="1.2" fill="#3030ff"/><rect x="508.2" y="211.8" width="25.2" height="1.2" fill="#3e3eff"/><rect x="508.2" y="212.8" width="25.2" height="1.2" fill="#5858ff"/><rect x="508.2" y="213.8" width="25.2" height="1.2" fill="#6464ff"/><rect x="508.2" y="214.8" width="25.2" height="1.2" fill="#4c4cff"/><rect x="508.2" y="215.8" width="25.2" height="1.2" fill="#5858ff"/><rect x="508.2" y="216.8" width="25.2" height="1.2" fill="#3e3eff"/><rect x="508.2" y="217.8" width="25.2" height="1.2" fill="#4d4dff"/><rect x="508.2" y="218.8" width="25.2" height="1.2" fill="#4e4eff"/><rect x="508.2" y="219.8" width="25.2" height="1.2" fill="#5f5fff"/><rect x="508.2" y="220.8" width="25.2" height="1.2" fill="#6969ff"/><rect x="508.2" y="221.8" width="25.2" height="1.2" fill="#5a5aff"/><rect x="508.2" y="222.8" width="25.2" height="1.2" fill="#5252ff"/><rect x="508.2" y="223.8" width="25.2" height="1.2" fill="#6161ff"/><rect x="508.2" y="224.8" width="25.2" height="1.2" fill="#5b5bff"/><rect x="508.2" y="225.8" width="25.2" height="1.2" fill="#7c7cff"/><rect x="508.2" y="226.8" width="25.2" height="1.2" fill="#7d7dff"/><rect x="508.2" y="227.8" width="25.2" height="1.2" fill="#9494ff"/><rect x="508.2" y="228.8" width="25.2" height="1.2" fill="#7878ff"/><rect x="508.2" y="229.8" width="25.2" height="1.2" fill="#6767ff"/><rect x="508.2" y="230.8" width="25.2" height="1.2" fill="#4343ff"/><rect x="508.2" y="231.8" width="25.2" height="1.2" fill="#5e5eff"/><rect x="508.2" y="232.8" width="25.2" height="1.2" fill="#6f6fff"/><rect x="508.2" y="233.8" width="25.2" height="1.2" fill="#7d7dff"/><rect x="508.2" y="234.8" width="25.2" height="1.2" fill="#c7c7ff"/><rect x="508.2" y="235.8" width="25.2" height="1.2" fill="#9a9aff"/><rect x="508.2" y="236.8" width="25.2" height="1.2" fill="#a5a5ff"/><rect x="508.2" y="237.8" width="25.2" height="1.2" fill="#8c8cff"/><rect x="508.2" y="238.8" width="25.2" height="1.2" fill="#8e8eff"/><rect x="508.2" y="239.8" width="25.2" height="1.2" fill="#acacff"/><rect x="508.2" y="240.8" width="25.2" height="1.2" fill="#bfbfff"/><rect x="508.2" y="241.8" width="25.2" height="1.2" fill="#ceceff"/><rect x="508.2" y="242.8" width="25.2" height="1.2" fill="#d2d2ff"/><rect x="508.2" y="243.8" width="25.2" height="1.2" fill="#c5c5ff"/><rect x="508.2" y="244.8" width="25.2" height="1.2" fill="#8686ff"/><rect x="508.2" y="245.8" width="25.2" height="1.2" fill="#9191ff"/><rect x="508.2" y="246.8" width="25.2" height="1.2" fill="#8484ff"/><rect x="508.2" y="247.8" width="25.2" height="1.2" fill="#7878ff"/><rect x="508.2" y="248.8" width="25.2" height="1.2" fill="#8080ff"/><rect x="508.2" y="249.8" width="25.2" height="1.2" fill="#6d6dff"/><rect x="508.2" y="250.8" width="25.2" height="1.2" fill="#6666ff"/><rect x="508.2" y="251.8" width="25.2" height="1.2" fill="#9494ff"/><rect x="508.2" y="252.8" width="25.2" height="1.2" fill="#b9b9ff"/><rect x="508.2" y="253.8" width="25.2" height="1.2" fill="#ccccff"/><rect x="508.2" y="254.8" width="25.2" height="1.2" fill="#c0c0ff"/><rect x="508.2" y="255.8" width="25.2" height="1.2" fill="#c1c1ff"/><rect x="508.2" y="256.8" width="25.2" height="1.2" fill="#b0b0ff"/><rect x="508.2" y="257.8" width="25.2" height="1.2" fill="#cbcbff"/><rect x="508.2" y="258.8" width="25.2" height="1.2" fill="#bfbfff"/><rect x="508.2" y="259.8" width="25.2" height="1.2" fill="#a5a5ff"/><rect x="508.2" y="260.8" width="25.2" height="1.2" fill="#9393ff"/><rect x="508.2" y="261.8" width="25.2" height="1.2" fill="#7272ff"/><rect x="508.2" y="262.8" width="25.2" height="1.2" fill="#8181ff"/><rect x="508.2" y="263.8" width="25.2" height="1.2" fill="#7878ff"/><rect x="508.2" y="264.8" width="25.2" height="1.2" fill="#9191ff"/><rect x="508.2" y="265.8" width="25.2" height="1.2" fill="#b4b4ff"/><rect x="508.2" y="266.8" width="25.2" height="1.2" fill="#b3b3ff"/><rect x="508.2" y="267.8" width="25.2" height="1.2" fill="#c6c6ff"/><rect x="508.2" y="268.8" width="25.2" height="1.2" fill="#dedeff"/><rect x="508.2" y="269.8" width="25.2" height="1.2" fill="#f8f8ff"/><rect x="508.2" y="270.8" width="25.2" height="1.2" fill="#e6e6ff"/><rect x="508.2" y="271.8" width="25.2" height="1.2" fill="#e8e8ff"/><rect x="508.2" y="272.8" width="25.2" height="1.2" fill="#dbdbff"/><rect x="508.2" y="273.8" width="25.2" height="1.2" fill="#d4d4ff"/><rect x="508.2" y="274.8" width="25.2" height="2.2" fill="#d6d6ff"/><rect x="508.2" y="276.8" width="25.2" height="1.2" fill="#bbbbff"/><rect x="508.2" y="277.8" width="25.2" height="1.2" fill="#c5c5ff"/><rect x="508.2" y="278.8" width="25.2" height="1.2" fill="#d0d0ff"/><rect x="508.2" y="279.8" width="25.2" height="1.2" fill="#ccccff"/><rect x="508.2" y="280.8" width="25.2" height="1.2" fill="#f3f3ff"/><rect x="508.2" y="281.8" width="25.2" height="1.2" fill="#d2d2ff"/><rect x="508.2" y="282.8" width="25.2" height="1.2" fill="#e7e7ff"/><rect x="508.2" y="283.8" width="25.2" height="1.2" fill="#f2f2ff"/><rect x="508.2" y="284.8" width="25.2" height="1.2" fill="#d8d8ff"/><rect x="508.2" y="285.8" width="25.2" height="1.2" fill="#e3e3ff"/><rect x="508.2" y="286.8" width="25.2" height="1.2" fill="#f3f3ff"/><rect x="508.2" y="287.8" width="25.2" height="1.2" fill="#e4e4ff"/><rect x="508.2" y="288.8" width="25.2" height="1.2" fill="#e2e2ff"/><rect x="508.2" y="289.8" width="25.2" height="1.2" fill="#fffcfc"/><rect x="508.2" y="290.8" width="25.2" height="1.2" fill="#ffeeee"/><rect x="508.2" y="291.8" width="25.2" height="1.2" fill="#ffbfbf"/><rect x="508.2" y="292.8" width="25.2" height="1.2" fill="#ffe9e9"/><rect x="508.2" y="293.8" width="25.2" height="1.2" fill="#ffe7e7"/><rect x="508.2" y="294.8" width="25.2" height="1.2" fill="#fff3f3"/><rect x="508.2" y="295.8" width="25.2" height="1.2" fill="#fff0f0"/><rect x="508.2" y="296.8" width="25.2" height="1.2" fill="#fff8f8"/><rect x="508.2" y="297.8" width="25.2" height="1.2" fill="#fff5f5"/><rect x="508.2" y="298.8" width="25.2" height="1.2" fill="#ffdddd"/><rect x="508.2" y="299.8" width="25.2" height="1.2" fill="#ffe0e0"/><rect x="508.2" y="300.8" width="25.2" height="1.2" fill="#ffe6e6"/><rect x="508.2" y="301.8" width="25.2" height="1.2" fill="#ffe4e4"/><rect x="508.2" y="302.8" width="25.2" height="1.2" fill="#ffeaea"/><rect x="508.2" y="303.8" width="25.2" height="1.2" fill="#fff2f2"/><rect x="508.2" y="304.8" width="25.2" height="1.2" fill="#fff7f7"/><rect x="508.2" y="305.8" width="25.2" height="1.2" fill="#ffe9e9"/><rect x="508.2" y="306.8" width="25.2" height="1.2" fill="#ffd9d9"/><rect x="508.2" y="307.8" width="25.2" height="1.2" fill="#fff9f9"/><rect x="508.2" y="308.8" width="25.2" height="1.2" fill="#ffe8e8"/><rect x="508.2" y="309.8" width="25.2" height="1.2" fill="#fcfcff"/><rect x="508.2" y="310.8" width="25.2" height="1.2" fill="#fffdfd"/><rect x="508.2" y="311.8" width="25.2" height="1.2" fill="#ffefef"/><rect x="508.2" y="312.8" width="25.2" height="1.2" fill="#ffdfdf"/><rect x="508.2" y="313.8" width="25.2" height="1.2" fill="#ffd0d0"/><rect x="508.2" y="314.8" width="25.2" height="1.2" fill="#ffd4d4"/><rect x="508.2" y="315.8" width="25.2" height="1.2" fill="#ffbcbc"/><rect x="508.2" y="316.8" width="25.2" height="1.2" fill="#ffaeae"/><rect x="508.2" y="317.8" width="25.2" height="1.2" fill="#ffb5b5"/><rect x="508.2" y="318.8" width="25.2" height="1.2" fill="#ffafaf"/><rect x="508.2" y="319.8" width="25.2" height="1.2" fill="#ffb7b7"/><rect x="508.2" y="320.8" width="25.2" height="1.2" fill="#ffe1e1"/><rect x="508.2" y="321.8" width="25.2" height="1.2" fill="#ffbfbf"/><rect x="508.2" y="322.8" width="25.2" height="1.2" fill="#ffcaca"/><rect x="508.2" y="323.8" width="25.2" height="1.2" fill="#ffcdcd"/><rect x="508.2" y="324.8" width="25.2" height="1.2" fill="#ffdfdf"/><rect x="508.2" y="325.8" width="25.2" height="1.2" fill="#ffe3e3"/><rect x="508.2" y="326.8" width="25.2" height="1.2" fill="#ffcece"/><rect x="508.2" y="327.8" width="25.2" height="1.2" fill="#ffe9e9"/><rect x="508.2" y="328.8" width="25.2" height="1.2" fill="#ffd3d3"/><rect x="508.2" y="329.8" width="25.2" height="1.2" fill="#ffc5c5"/><rect x="508.2" y="330.8" width="25.2" height="1.2" fill="#ffc0c0"/><rect x="508.2" y="331.8" width="25.2" height="1.2" fill="#ffe2e2"/><rect x="508.2" y="332.8" width="25.2" height="1.2" fill="#ffe5e5"/><rect x="508.2" y="333.8" width="25.2" height="1.2" fill="#ffebeb"/><rect x="508.2" y="334.8" width="25.2" height="1.2" fill="#ffeeee"/><rect x="508.2" y="335.8" width="25.2" height="1.2" fill="#ffd9d9"/><rect x="508.2" y="336.8" width="25.2" height="1.2" fill="#fff8f8"/><rect x="508.2" y="337.8" width="25.2" height="1.2" fill="#f9f9ff"/><rect x="508.2" y="338.8" width="25.2" height="1.2" fill="#d5d5ff"/><rect x="508.2" y="339.8" width="25.2" height="1.2" fill="#c3c3ff"/><rect x="508.2" y="340.8" width="25.2" height="1.2" fill="#b9b9ff"/><rect x="508.2" y="341.8" width="25.2" height="1.2" fill="#b2b2ff"/><rect x="508.2" y="342.8" width="25.2" height="1.2" fill="#adadff"/><rect x="508.2" y="343.8" width="25.2" height="1.2" fill="#bcbcff"/><rect x="508.2" y="344.8" width="25.2" height="1.2" fill="#ceceff"/><rect x="508.2" y="345.8" width="25.2" height="1.2" fill="#b9b9ff"/><rect x="508.2" y="346.8" width="25.2" height="1.2" fill="#e2e2ff"/><rect x="508.2" y="347.8" width="25.2" height="1.2" fill="#cdcdff"/><rect x="508.2" y="348.8" width="25.2" height="1.2" fill="#b2b2ff"/><rect x="508.2" y="349.8" width="25.2" height="1.2" fill="#ceceff"/><rect x="508.2" y="350.8" width="25.2" height="1.2" fill="#d0d0ff"/><rect x="508.2" y="351.8" width="25.2" height="1.2" fill="#c7c7ff"/><rect x="508.2" y="352.8" width="25.2" height="1.2" fill="#c3c3ff"/><rect x="508.2" y="353.8" width="25.2" height="1.2" fill="#d5d5ff"/><rect x="508.2" y="354.8" width="25.2" height="1.2" fill="#adadff"/><rect x="508.2" y="355.8" width="25.2" height="1.2" fill="#b2b2ff"/><rect x="508.2" y="356.8" width="25.2" height="1.2" fill="#dbdbff"/><rect x="508.2" y="357.8" width="25.2" height="1.2" fill="#d3d3ff"/><rect x="508.2" y="358.8" width="25.2" height="1.2" fill="#c3c3ff"/><rect x="508.2" y="359.8" width="25.2" height="1.2" fill="#c2c2ff"/><rect x="508.2" y="360.8" width="25.2" height="1.2" fill="#cbcbff"/><rect x="508.2" y="361.8" width="25.2" height="2.2" fill="#e5e5ff"/><rect x="508.2" y="363.8" width="25.2" height="1.2" fill="#ececff"/><rect x="508.2" y="364.8" width="25.2" height="1.2" fill="#e6e6ff"/><rect x="508.2" y="365.8" width="25.2" height="1.2" fill="#fafaff"/><rect x="508.2" y="366.8" width="25.2" height="1.2" fill="#ddddff"/><rect x="508.2" y="367.8" width="25.2" height="1.2" fill="#fffcfc"/><rect x="508.2" y="368.8" width="25.2" height="1.2" fill="#fffdfd"/><rect x="508.2" y="369.8" width="25.2" height="1.2" fill="#f5f5ff"/><rect x="508.2" y="370.8" width="25.2" height="1.2" fill="#fefeff"/><rect x="508.2" y="371.8" width="25.2" height="1.2" fill="#ffe8e8"/><rect x="508.2" y="372.8" width="25.2" height="1.2" fill="#fffdfd"/><rect x="508.2" y="373.8" width="25.2" height="1.2" fill="#ffefef"/><rect x="508.2" y="374.8" width="25.2" height="1.2" fill="#ffe6e6"/><rect x="508.2" y="375.8" width="25.2" height="1.2" fill="#fff3f3"/><rect x="508.2" y="376.8" width="25.2" height="1.2" fill="#e6e6ff"/><rect x="508.2" y="377.8" width="25.2" height="1.2" fill="#ffefef"/><rect x="508.2" y="378.8" width="25.2" height="1.2" fill="#ffe5e5"/><rect x="508.2" y="379.8" width="25.2" height="1.2" fill="#ffe7e7"/><rect x="508.2" y="380.8" width="25.2" height="1.2" fill="#ffd0d0"/><rect x="508.2" y="381.8" width="25.2" height="1.2" fill="#ffbebe"/><rect x="508.2" y="382.8" width="25.2" height="1.2" fill="#ffb4b4"/><rect x="508.2" y="383.8" width="25.2" height="1.2" fill="#ffbaba"/><rect x="508.2" y="384.8" width="25.2" height="1.2" fill="#ffc1c1"/><rect x="508.2" y="385.8" width="25.2" height="1.2" fill="#ffa6a6"/><rect x="508.2" y="386.8" width="25.2" height="1.2" fill="#ffadad"/><rect x="508.2" y="387.8" width="25.2" height="1.2" fill="#ffa3a3"/><rect x="508.2" y="388.8" width="25.2" height="1.2" fill="#ffadad"/><rect x="508.2" y="389.8" width="25.2" height="1.2" fill="#ffb1b1"/><rect x="508.2" y="390.8" width="25.2" height="1.2" fill="#ffc8c8"/><rect x="508.2" y="391.8" width="25.2" height="1.2" fill="#ffbbbb"/><rect x="508.2" y="392.8" width="25.2" height="1.2" fill="#ffcaca"/><rect x="508.2" y="393.8" width="25.2" height="1.2" fill="#ffd0d0"/><rect x="508.2" y="394.8" width="25.2" height="1.2" fill="#ff9c9c"/><rect x="508.2" y="395.8" width="25.2" height="1.2" fill="#ffb9b9"/><rect x="508.2" y="396.8" width="25.2" height="2.2" fill="#ffb4b4"/><rect x="508.2" y="398.8" width="25.2" height="1.2" fill="#ff9494"/><rect x="508.2" y="399.8" width="25.2" height="1.2" fill="#ffa7a7"/><rect x="508.2" y="400.8" width="25.2" height="1.2" fill="#ffaeae"/><rect x="508.2" y="401.8" width="25.2" height="1.2" fill="#ffc1c1"/><rect x="508.2" y="402.8" width="25.2" height="1.2" fill="#ffc2c2"/><rect x="508.2" y="403.8" width="25.2" height="1.2" fill="#ffd1d1"/><rect x="508.2" y="404.8" width="25.2" height="1.2" fill="#ffd3d3"/><rect x="508.2" y="405.8" width="25.2" height="1.2" fill="#ffb8b8"/><rect x="508.2" y="406.8" width="25.2" height="1.2" fill="#ffa5a5"/><rect x="508.2" y="407.8" width="25.2" height="1.2" fill="#ffc2c2"/><rect x="508.2" y="408.8" width="25.2" height="1.2" fill="#ffb3b3"/><rect x="508.2" y="409.8" width="25.2" height="1.2" fill="#ff8484"/><rect x="508.2" y="410.8" width="25.2" height="2.2" fill="#ff9898"/><rect x="508.2" y="412.8" width="25.2" height="1.2" fill="#ffacac"/><rect x="508.2" y="413.8" width="25.2" height="2.2" fill="#ffa6a6"/><rect x="508.2" y="415.8" width="25.2" height="1.2" fill="#ff9898"/><rect x="508.2" y="416.8" width="25.2" height="1.2" fill="#ff8787"/><rect x="508.2" y="417.8" width="25.2" height="1.2" fill="#ffb1b1"/><rect x="508.2" y="418.8" width="25.2" height="1.2" fill="#ff8888"/><rect x="508.2" y="419.8" width="25.2" height="1.2" fill="#ff9e9e"/><rect x="508.2" y="420.8" width="25.2" height="1.2" fill="#ffacac"/><rect x="508.2" y="421.8" width="25.2" height="1.2" fill="#ffa8a8"/><rect x="508.2" y="422.8" width="25.2" height="1.2" fill="#ff9494"/><rect x="508.2" y="423.8" width="25.2" height="1.2" fill="#ffd0d0"/><rect x="508.2" y="424.8" width="25.2" height="1.2" fill="#fff0f0"/><rect x="508.2" y="425.8" width="25.2" height="1.2" fill="#fffbfb"/><rect x="508.2" y="426.8" width="25.2" height="1.2" fill="#fffafa"/><rect x="508.2" y="427.8" width="25.2" height="1.2" fill="#fffdfd"/><rect x="508.2" y="428.8" width="25.2" height="1.2" fill="#fffcfc"/><rect x="508.2" y="429.8" width="25.2" height="1.2" fill="#ffe8e8"/><rect x="508.2" y="430.8" width="25.2" height="1.2" fill="#ffecec"/><rect x="508.2" y="431.8" width="25.2" height="1.2" fill="#ffebeb"/><rect x="508.2" y="432.8" width="25.2" height="1.2" fill="#ffe3e3"/><rect x="508.2" y="433.8" width="25.2" height="1.2" fill="#ffeaea"/><rect x="508.2" y="434.8" width="25.2" height="1.2" fill="#ffe6e6"/><rect x="508.2" y="435.8" width="25.2" height="1.2" fill="#fff0f0"/><rect x="508.2" y="436.8" width="25.2" height="1.2" fill="#ffeaea"/><rect x="508.2" y="437.8" width="25.2" height="1.2" fill="#ffe3e3"/><rect x="508.2" y="438.8" width="25.2" height="1.2" fill="#ffe5e5"/><rect x="508.2" y="439.8" width="25.2" height="1.2" fill="#ffd6d6"/><rect x="508.2" y="440.8" width="25.2" height="1.2" fill="#fff2f2"/><rect x="508.2" y="441.8" width="25.2" height="1.2" fill="#ffe9e9"/><rect x="508.2" y="442.8" width="25.2" height="1.2" fill="#ffc3c3"/><rect x="508.2" y="443.8" width="25.2" height="1.2" fill="#ffb8b8"/><rect x="508.2" y="444.8" width="25.2" height="1.2" fill="#ffaeae"/><rect x="508.2" y="445.8" width="25.2" height="1.2" fill="#ffcfcf"/><rect x="508.2" y="446.8" width="25.2" height="1.2" fill="#ffaeae"/><rect x="508.2" y="447.8" width="25.2" height="1.2" fill="#ffa8a8"/><rect x="508.2" y="448.8" width="25.2" height="1.2" fill="#ffa2a2"/><rect x="508.2" y="449.8" width="25.2" height="1.2" fill="#ffacac"/><rect x="508.2" y="450.8" width="25.2" height="1.2" fill="#ff8d8d"/><rect x="508.2" y="451.8" width="25.2" height="1.2" fill="#ff9898"/><rect x="508.2" y="452.8" width="25.2" height="1.2" fill="#ffa4a4"/><rect x="508.2" y="453.8" width="25.2" height="1.2" fill="#ff8787"/><rect x="508.2" y="454.8" width="25.2" height="1.2" fill="#ff9696"/><rect x="508.2" y="455.8" width="25.2" height="1.2" fill="#ff7171"/><rect x="508.2" y="456.8" width="25.2" height="1.2" fill="#ff7373"/><rect x="508.2" y="457.8" width="25.2" height="1.2" fill="#ffa4a4"/><rect x="508.2" y="458.8" width="25.2" height="1.2" fill="#ff8d8d"/><rect x="508.2" y="459.8" width="25.2" height="1.2" fill="#ff7272"/><rect x="508.2" y="460.8" width="25.2" height="1.2" fill="#ff8e8e"/><rect x="508.2" y="461.8" width="25.2" height="1.2" fill="#ff7171"/><rect x="508.2" y="462.8" width="25.2" height="1.2" fill="#ff8080"/><rect x="508.2" y="463.8" width="25.2" height="1.2" fill="#ff6b6b"/><rect x="508.2" y="464.8" width="25.2" height="1.2" fill="#ff6d6d"/><rect x="508.2" y="465.8" width="25.2" height="1.2" fill="#ff7373"/><rect x="508.2" y="466.8" width="25.2" height="1.2" fill="#ff9393"/><rect x="508.2" y="467.8" width="25.2" height="1.2" fill="#ffa6a6"/><rect x="508.2" y="468.8" width="25.2" height="1.2" fill="#ffacac"/><rect x="508.2" y="469.8" width="25.2" height="1.2" fill="#ff9494"/><rect x="508.2" y="470.8" width="25.2" height="1.2" fill="#ffa1a1"/><rect x="508.2" y="471.8" width="25.2" height="1.2" fill="#ff9a9a"/><rect x="508.2" y="472.8" width="25.2" height="1.2" fill="#ff9494"/><rect x="508.2" y="473.8" width="25.2" height="1.2" fill="#ff9090"/><rect x="508.2" y="474.8" width="25.2" height="1.2" fill="#ff9595"/><rect x="508.2" y="475.8" width="25.2" height="1.2" fill="#ff8d8d"/><rect x="508.2" y="476.8" width="25.2" height="1.2" fill="#ff7171"/><rect x="508.2" y="477.8" width="25.2" height="1.2" fill="#ff2525"/><rect x="508.2" y="478.8" width="25.2" height="1.2" fill="#ff2020"/><rect x="508.2" y="479.8" width="25.2" height="1.2" fill="#ff1b1b"/><rect x="508.2" y="480.8" width="25.2" height="1.2" fill="#ff1515"/><rect x="508.2" y="481.8" width="25.2" height="1.2" fill="#ff1010"/><rect x="533.1" y="195.8" width="25.2" height="1.2" fill="#0808ff"/><rect x="533.1" y="196.8" width="25.2" height="1.2" fill="#0000ff"/><rect x="533.1" y="197.8" width="25.2" height="1.2" fill="#0e0eff"/><rect x="533.1" y="198.8" width="25.2" height="1.2" fill="#0101ff"/><rect x="533.1" y="199.8" width="25.2" height="1.2" fill="#1010ff"/><rect x="533.1" y="200.8" width="25.2" height="1.2" fill="#3535ff"/><rect x="533.1" y="201.8" width="25.2" height="1.2" fill="#2f2fff"/><rect x="533.1" y="202.8" width="25.2" height="1.2" fill="#2626ff"/><rect x="533.1" y="203.8" width="25.2" height="1.2" fill="#3b3bff"/><rect x="533.1" y="204.8" width="25.2" height="1.2" fill="#2929ff"/><rect x="533.1" y="205.8" width="25.2" height="1.2" fill="#5353ff"/><rect x="533.1" y="206.8" width="25.2" height="1.2" fill="#3c3cff"/><rect x="533.1" y="207.8" width="25.2" height="1.2" fill="#4343ff"/><rect x="533.1" y="208.8" width="25.2" height="1.2" fill="#4848ff"/><rect x="533.1" y="209.8" width="25.2" height="1.2" fill="#4545ff"/><rect x="533.1" y="210.8" width="25.2" height="1.2" fill="#3030ff"/><rect x="533.1" y="211.8" width="25.2" height="1.2" fill="#3e3eff"/><rect x="533.1" y="212.8" width="25.2" height="1.2" fill="#4d4dff"/><rect x="533.1" y="213.8" width="25.2" height="1.2" fill="#6161ff"/><rect x="533.1" y="214.8" width="25.2" height="1.2" fill="#4c4cff"/><rect x="533.1" y="215.8" width="25.2" height="1.2" fill="#5151ff"/><rect x="533.1" y="216.8" width="25.2" height="1.2" fill="#4444ff"/><rect x="533.1" y="217.8" width="25.2" height="1.2" fill="#5656ff"/><rect x="533.1" y="218.8" width="25.2" height="1.2" fill="#6464ff"/><rect x="533.1" y="219.8" width="25.2" height="1.2" fill="#5f5fff"/><rect x="533.1" y="220.8" width="25.2" height="1.2" fill="#6363ff"/><rect x="533.1" y="221.8" width="25.2" height="1.2" fill="#5d5dff"/><rect x="533.1" y="222.8" width="25.2" height="1.2" fill="#4444ff"/><rect x="533.1" y="223.8" width="25.2" height="1.2" fill="#6565ff"/><rect x="533.1" y="224.8" width="25.2" height="1.2" fill="#6060ff"/><rect x="533.1" y="225.8" width="25.2" height="1.2" fill="#7575ff"/><rect x="533.1" y="226.8" width="25.2" height="1.2" fill="#7878ff"/><rect x="533.1" y="227.8" width="25.2" height="1.2" fill="#8383ff"/><rect x="533.1" y="228.8" width="25.2" height="1.2" fill="#7474ff"/><rect x="533.1" y="229.8" width="25.2" height="1.2" fill="#7777ff"/><rect x="533.1" y="230.8" width="25.2" height="1.2" fill="#4a4aff"/><rect x="533.1" y="231.8" width="25.2" height="2.2" fill="#6767ff"/><rect x="533.1" y="233.8" width="25.2" height="1.2" fill="#8181ff"/><rect x="533.1" y="234.8" width="25.2" height="1.2" fill="#c6c6ff"/><rect x="533.1" y="235.8" width="25.2" height="1.2" fill="#9393ff"/><rect x="533.1" y="236.8" width="25.2" height="1.2" fill="#a8a8ff"/><rect x="533.1" y="237.8" width="25.2" height="1.2" fill="#9090ff"/><rect x="533.1" y="238.8" width="25.2" height="1.2" fill="#9797ff"/><rect x="533.1" y="239.8" width="25.2" height="1.2" fill="#b9b9ff"/><rect x="533.1" y="240.8" width="25.2" height="1.2" fill="#c0c0ff"/><rect x="533.1" y="241.8" width="25.2" height="1.2" fill="#d0d0ff"/><rect x="533.1" y="242.8" width="25.2" height="1.2" fill="#c7c7ff"/><rect x="533.1" y="243.8" width="25.2" height="1.2" fill="#cbcbff"/><rect x="533.1" y="244.8" width="25.2" height="1.2" fill="#9090ff"/><rect x="533.1" y="245.8" width="25.2" height="1.2" fill="#9393ff"/><rect x="533.1" y="246.8" width="25.2" height="1.2" fill="#8d8dff"/><rect x="533.1" y="247.8" width="25.2" height="1.2" fill="#6f6fff"/><rect x="533.1" y="248.8" width="25.2" height="1.2" fill="#6c6cff"/><rect x="533.1" y="249.8" width="25.2" height="1.2" fill="#6262ff"/><rect x="533.1" y="250.8" width="25.2" height="1.2" fill="#7070ff"/><rect x="533.1" y="251.8" width="25.2" height="1.2" fill="#9595ff"/><rect x="533.1" y="252.8" width="25.2" height="1.2" fill="#b0b0ff"/><rect x="533.1" y="253.8" width="25.2" height="1.2" fill="#c3c3ff"/><rect x="533.1" y="254.8" width="25.2" height="1.2" fill="#bfbfff"/><rect x="533.1" y="255.8" width="25.2" height="1.2" fill="#c0c0ff"/><rect x="533.1" y="256.8" width="25.2" height="1.2" fill="#b0b0ff"/><rect x="533.1" y="257.8" width="25.2" height="1.2" fill="#d0d0ff"/><rect x="533.1" y="258.8" width="25.2" height="1.2" fill="#bcbcff"/><rect x="533.1" y="259.8" width="25.2" height="1.2" fill="#b1b1ff"/><rect x="533.1" y="260.8" width="25.2" height="1.2" fill="#9595ff"/><rect x="533.1" y="261.8" width="25.2" height="1.2" fill="#6969ff"/><rect x="533.1" y="262.8" width="25.2" height="1.2" fill="#7a7aff"/><rect x="533.1" y="263.8" width="25.2" height="1.2" fill="#7575ff"/><rect x="533.1" y="264.8" width="25.2" height="1.2" fill="#8989ff"/><rect x="533.1" y="265.8" width="25.2" height="1.2" fill="#b3b3ff"/><rect x="533.1" y="266.8" width="25.2" height="1.2" fill="#a0a0ff"/><rect x="533.1" y="267.8" width="25.2" height="1.2" fill="#cdcdff"/><rect x="533.1" y="268.8" width="25.2" height="1.2" fill="#d9d9ff"/><rect x="533.1" y="269.8" width="25.2" height="1.2" fill="#f8f8ff"/><rect x="533.1" y="270.8" width="25.2" height="1.2" fill="#e7e7ff"/><rect x="533.1" y="271.8" width="25.2" height="1.2" fill="#e8e8ff"/><rect x="533.1" y="272.8" width="25.2" height="2.2" fill="#dadaff"/><rect x="533.1" y="274.8" width="25.2" height="1.2" fill="#ddddff"/><rect x="533.1" y="275.8" width="25.2" height="1.2" fill="#e0e0ff"/><rect x="533.1" y="276.8" width="25.2" height="1.2" fill="#d5d5ff"/><rect x="533.1" y="277.8" width="25.2" height="1.2" fill="#c1c1ff"/><rect x="533.1" y="278.8" width="25.2" height="1.2" fill="#ceceff"/><rect x="533.1" y="279.8" width="25.2" height="1.2" fill="#ccccff"/><rect x="533.1" y="280.8" width="25.2" height="1.2" fill="#f6f6ff"/><rect x="533.1" y="281.8" width="25.2" height="1.2" fill="#dbdbff"/><rect x="533.1" y="282.8" width="25.2" height="1.2" fill="#ededff"/><rect x="533.1" y="283.8" width="25.2" height="1.2" fill="#f2f2ff"/><rect x="533.1" y="284.8" width="25.2" height="1.2" fill="#d7d7ff"/><rect x="533.1" y="285.8" width="25.2" height="1.2" fill="#e1e1ff"/><rect x="533.1" y="286.8" width="25.2" height="1.2" fill="#f2f2ff"/><rect x="533.1" y="287.8" width="25.2" height="1.2" fill="#dcdcff"/><rect x="533.1" y="288.8" width="25.2" height="1.2" fill="#ececff"/><rect x="533.1" y="289.8" width="25.2" height="1.2" fill="#fff7f7"/><rect x="533.1" y="290.8" width="25.2" height="1.2" fill="#ffebeb"/><rect x="533.1" y="291.8" width="25.2" height="1.2" fill="#ffc3c3"/><rect x="533.1" y="292.8" width="25.2" height="1.2" fill="#ffe4e4"/><rect x="533.1" y="293.8" width="25.2" height="1.2" fill="#ffecec"/><rect x="533.1" y="294.8" width="25.2" height="1.2" fill="#fff2f2"/><rect x="533.1" y="295.8" width="25.2" height="1.2" fill="#ffe3e3"/><rect x="533.1" y="296.8" width="25.2" height="1.2" fill="#fffafa"/><rect x="533.1" y="297.8" width="25.2" height="1.2" fill="#fffcfc"/><rect x="533.1" y="298.8" width="25.2" height="1.2" fill="#ffe7e7"/><rect x="533.1" y="299.8" width="25.2" height="1.2" fill="#ffdfdf"/><rect x="533.1" y="300.8" width="25.2" height="1.2" fill="#ffe1e1"/><rect x="533.1" y="301.8" width="25.2" height="1.2" fill="#ffdcdc"/><rect x="533.1" y="302.8" width="25.2" height="1.2" fill="#ffe6e6"/><rect x="533.1" y="303.8" width="25.2" height="1.2" fill="#ffe1e1"/><rect x="533.1" y="304.8" width="25.2" height="1.2" fill="#ffffff"/><rect x="533.1" y="305.8" width="25.2" height="1.2" fill="#ffe9e9"/><rect x="533.1" y="306.8" width="25.2" height="1.2" fill="#ffd9d9"/><rect x="533.1" y="307.8" width="25.2" height="1.2" fill="#fbfbff"/><rect x="533.1" y="308.8" width="25.2" height="1.2" fill="#ffeeee"/><rect x="533.1" y="309.8" width="25.2" height="1.2" fill="#fff2f2"/><rect x="533.1" y="310.8" width="25.2" height="1.2" fill="#fff9f9"/><rect x="533.1" y="311.8" width="25.2" height="1.2" fill="#ffecec"/><rect x="533.1" y="312.8" width="25.2" height="1.2" fill="#ffd9d9"/><rect x="533.1" y="313.8" width="25.2" height="1.2" fill="#ffdede"/><rect x="533.1" y="314.8" width="25.2" height="1.2" fill="#ffd4d4"/><rect x="533.1" y="315.8" width="25.2" height="1.2" fill="#ffc7c7"/><rect x="533.1" y="316.8" width="25.2" height="1.2" fill="#ffc1c1"/><rect x="533.1" y="317.8" width="25.2" height="1.2" fill="#ffb8b8"/><rect x="533.1" y="318.8" width="25.2" height="1.2" fill="#ffb2b2"/><rect x="533.1" y="319.8" width="25.2" height="1.2" fill="#ffc4c4"/><rect x="533.1" y="320.8" width="25.2" height="1.2" fill="#ffdada"/><rect x="533.1" y="321.8" width="25.2" height="1.2" fill="#ffb7b7"/><rect x="533.1" y="322.8" width="25.2" height="1.2" fill="#ffc4c4"/><rect x="533.1" y="323.8" width="25.2" height="1.2" fill="#ffd3d3"/><rect x="533.1" y="324.8" width="25.2" height="1.2" fill="#ffdcdc"/><rect x="533.1" y="325.8" width="25.2" height="1.2" fill="#ffeaea"/><rect x="533.1" y="326.8" width="25.2" height="1.2" fill="#ffd8d8"/><rect x="533.1" y="327.8" width="25.2" height="1.2" fill="#ffe6e6"/><rect x="533.1" y="328.8" width="25.2" height="1.2" fill="#ffe0e0"/><rect x="533.1" y="329.8" width="25.2" height="1.2" fill="#ffb9b9"/><rect x="533.1" y="330.8" width="25.2" height="1.2" fill="#ffc3c3"/><rect x="533.1" y="331.8" width="25.2" height="1.2" fill="#ffdfdf"/><rect x="533.1" y="332.8" width="25.2" height="1.2" fill="#fff2f2"/><rect x="533.1" y="333.8" width="25.2" height="1.2" fill="#ffebeb"/><rect x="533.1" y="334.8" width="25.2" height="1.2" fill="#fff9f9"/><rect x="533.1" y="335.8" width="25.2" height="1.2" fill="#ffe2e2"/><rect x="533.1" y="336.8" width="25.2" height="1.2" fill="#fff4f4"/><rect x="533.1" y="337.8" width="25.2" height="1.2" fill="#fafaff"/><rect x="533.1" y="338.8" width="25.2" height="1.2" fill="#d8d8ff"/><rect x="533.1" y="339.8" width="25.2" height="1.2" fill="#d9d9ff"/><rect x="533.1" y="340.8" width="25.2" height="1.2" fill="#ceceff"/><rect x="533.1" y="341.8" width="25.2" height="1.2" fill="#c6c6ff"/><rect x="533.1" y="342.8" width="25.2" height="1.2" fill="#c1c1ff"/><rect x="533.1" y="343.8" width="25.2" height="1.2" fill="#d0d0ff"/><rect x="533.1" y="344.8" width="25.2" height="1.2" fill="#dfdfff"/><rect x="533.1" y="345.8" width="25.2" height="1.2" fill="#d7d7ff"/><rect x="533.1" y="346.8" width="25.2" height="1.2" fill="#f5f5ff"/><rect x="533.1" y="347.8" width="25.2" height="1.2" fill="#e4e4ff"/><rect x="533.1" y="348.8" width="25.2" height="1.2" fill="#c3c3ff"/><rect x="533.1" y="349.8" width="25.2" height="1.2" fill="#d9d9ff"/><rect x="533.1" y="350.8" width="25.2" height="1.2" fill="#d4d4ff"/><rect x="533.1" y="351.8" width="25.2" height="2.2" fill="#e5e5ff"/><rect x="533.1" y="353.8" width="25.2" height="1.2" fill="#e3e3ff"/><rect x="533.1" y="354.8" width="25.2" height="1.2" fill="#c4c4ff"/><rect x="533.1" y="355.8" width="25.2" height="1.2" fill="#c7c7ff"/><rect x="533.1" y="356.8" width="25.2" height="1.2" fill="#ebebff"/><rect x="533.1" y="357.8" width="25.2" height="1.2" fill="#dfdfff"/><rect x="533.1" y="358.8" width="25.2" height="1.2" fill="#efefff"/><rect x="533.1" y="359.8" width="25.2" height="1.2" fill="#d6d6ff"/><rect x="533.1" y="360.8" width="25.2" height="1.2" fill="#e5e5ff"/><rect x="533.1" y="361.8" width="25.2" height="1.2" fill="#eeeeff"/><rect x="533.1" y="362.8" width="25.2" height="1.2" fill="#ededff"/><rect x="533.1" y="363.8" width="25.2" height="1.2" fill="#fffcfc"/><rect x="533.1" y="364.8" width="25.2" height="1.2" fill="#fff5f5"/><rect x="533.1" y="365.8" width="25.2" height="1.2" fill="#fff7f7"/><rect x="533.1" y="366.8" width="25.2" height="1.2" fill="#e8e8ff"/><rect x="533.1" y="367.8" width="25.2" height="2.2" fill="#f8f8ff"/><rect x="533.1" y="369.8" width="25.2" height="1.2" fill="#ececff"/><rect x="533.1" y="370.8" width="25.2" height="1.2" fill="#fff7f7"/><rect x="533.1" y="371.8" width="25.2" height="1.2" fill="#fff8f8"/><rect x="533.1" y="372.8" width="25.2" height="1.2" fill="#fff5f5"/><rect x="533.1" y="373.8" width="25.2" height="1.2" fill="#ffe0e0"/><rect x="533.1" y="374.8" width="25.2" height="1.2" fill="#ffe8e8"/><rect x="533.1" y="375.8" width="25.2" height="1.2" fill="#fff6f6"/><rect x="533.1" y="376.8" width="25.2" height="1.2" fill="#f3f3ff"/><rect x="533.1" y="377.8" width="25.2" height="1.2" fill="#ffe9e9"/><rect x="533.1" y="378.8" width="25.2" height="1.2" fill="#fff0f0"/><rect x="533.1" y="379.8" width="25.2" height="1.2" fill="#ffe3e3"/><rect x="533.1" y="380.8" width="25.2" height="1.2" fill="#ffc8c8"/><rect x="533.1" y="381.8" width="25.2" height="1.2" fill="#ffb8b8"/><rect x="533.1" y="382.8" width="25.2" height="1.2" fill="#ffbaba"/><rect x="533.1" y="383.8" width="25.2" height="1.2" fill="#ffbfbf"/><rect x="533.1" y="384.8" width="25.2" height="1.2" fill="#ffb6b6"/><rect x="533.1" y="385.8" width="25.2" height="1.2" fill="#ffa3a3"/><rect x="533.1" y="386.8" width="25.2" height="1.2" fill="#ffb3b3"/><rect x="533.1" y="387.8" width="25.2" height="1.2" fill="#ffa9a9"/><rect x="533.1" y="388.8" width="25.2" height="1.2" fill="#ffacac"/><rect x="533.1" y="389.8" width="25.2" height="1.2" fill="#ffb6b6"/><rect x="533.1" y="390.8" width="25.2" height="1.2" fill="#ffc8c8"/><rect x="533.1" y="391.8" width="25.2" height="1.2" fill="#ffbaba"/><rect x="533.1" y="392.8" width="25.2" height="1.2" fill="#ffd7d7"/><rect x="533.1" y="393.8" width="25.2" height="1.2" fill="#ffcdcd"/><rect x="533.1" y="394.8" width="25.2" height="1.2" fill="#ffabab"/><rect x="533.1" y="395.8" width="25.2" height="1.2" fill="#ffb6b6"/><rect x="533.1" y="396.8" width="25.2" height="1.2" fill="#ffb2b2"/><rect x="533.1" y="397.8" width="25.2" height="1.2" fill="#ffbfbf"/><rect x="533.1" y="398.8" width="25.2" height="1.2" fill="#ff9494"/><rect x="533.1" y="399.8" width="25.2" height="1.2" fill="#ffa6a6"/><rect x="533.1" y="400.8" width="25.2" height="1.2" fill="#ffadad"/><rect x="533.1" y="401.8" width="25.2" height="1.2" fill="#ffd5d5"/><rect x="533.1" y="402.8" width="25.2" height="1.2" fill="#ffc5c5"/><rect x="533.1" y="403.8" width="25.2" height="1.2" fill="#ffd0d0"/><rect x="533.1" y="404.8" width="25.2" height="1.2" fill="#ffc4c4"/><rect x="533.1" y="405.8" width="25.2" height="1.2" fill="#ffb0b0"/><rect x="533.1" y="406.8" width="25.2" height="1.2" fill="#ffb4b4"/><rect x="533.1" y="407.8" width="25.2" height="1.2" fill="#ffbcbc"/><rect x="533.1" y="408.8" width="25.2" height="1.2" fill="#ffaeae"/><rect x="533.1" y="409.8" width="25.2" height="1.2" fill="#ff8e8e"/><rect x="533.1" y="410.8" width="25.2" height="1.2" fill="#ffa5a5"/><rect x="533.1" y="411.8" width="25.2" height="1.2" fill="#ff9898"/><rect x="533.1" y="412.8" width="25.2" height="1.2" fill="#ffb4b4"/><rect x="533.1" y="413.8" width="25.2" height="1.2" fill="#ffa0a0"/><rect x="533.1" y="414.8" width="25.2" height="1.2" fill="#ffacac"/><rect x="533.1" y="415.8" width="25.2" height="2.2" fill="#ff9f9f"/><rect x="533.1" y="417.8" width="25.2" height="1.2" fill="#ffa9a9"/><rect x="533.1" y="418.8" width="25.2" height="1.2" fill="#ff9393"/><rect x="533.1" y="419.8" width="25.2" height="1.2" fill="#ff9999"/><rect x="533.1" y="420.8" width="25.2" height="1.2" fill="#ffb5b5"/><rect x="533.1" y="421.8" width="25.2" height="1.2" fill="#ffa2a2"/><rect x="533.1" y="422.8" width="25.2" height="1.2" fill="#ff9393"/><rect x="533.1" y="423.8" width="25.2" height="1.2" fill="#ffc1c1"/><rect x="533.1" y="424.8" width="25.2" height="1.2" fill="#ffe5e5"/><rect x="533.1" y="425.8" width="25.2" height="2.2" fill="#fbfbff"/><rect x="533.1" y="427.8" width="25.2" height="1.2" fill="#f8f8ff"/><rect x="533.1" y="428.8" width="25.2" height="1.2" fill="#fffefe"/><rect x="533.1" y="429.8" width="25.2" height="1.2" fill="#ffdfdf"/><rect x="533.1" y="430.8" width="25.2" height="1.2" fill="#fff0f0"/><rect x="533.1" y="431.8" width="25.2" height="1.2" fill="#ffebeb"/><rect x="533.1" y="432.8" width="25.2" height="1.2" fill="#fff7f7"/><rect x="533.1" y="433.8" width="25.2" height="1.2" fill="#ffe9e9"/><rect x="533.1" y="434.8" width="25.2" height="1.2" fill="#ffdede"/><rect x="533.1" y="435.8" width="25.2" height="1.2" fill="#ffeded"/><rect x="533.1" y="436.8" width="25.2" height="1.2" fill="#ffdddd"/><rect x="533.1" y="437.8" width="25.2" height="1.2" fill="#ffe7e7"/><rect x="533.1" y="438.8" width="25.2" height="1.2" fill="#ffe3e3"/><rect x="533.1" y="439.8" width="25.2" height="1.2" fill="#ffdede"/><rect x="533.1" y="440.8" width="25.2" height="1.2" fill="#fff3f3"/><rect x="533.1" y="441.8" width="25.2" height="1.2" fill="#ffdada"/><rect x="533.1" y="442.8" width="25.2" height="1.2" fill="#ffc3c3"/><rect x="533.1" y="443.8" width="25.2" height="1.2" fill="#ffbdbd"/><rect x="533.1" y="444.8" width="25.2" height="1.2" fill="#ffb9b9"/><rect x="533.1" y="445.8" width="25.2" height="1.2" fill="#ffd2d2"/><rect x="533.1" y="446.8" width="25.2" height="1.2" fill="#ffabab"/><rect x="533.1" y="447.8" width="25.2" height="1.2" fill="#ff9d9d"/><rect x="533.1" y="448.8" width="25.2" height="1.2" fill="#ff9c9c"/><rect x="533.1" y="449.8" width="25.2" height="1.2" fill="#ffb3b3"/><rect x="533.1" y="450.8" width="25.2" height="1.2" fill="#ff8a8a"/><rect x="533.1" y="451.8" width="25.2" height="1.2" fill="#ff9a9a"/><rect x="533.1" y="452.8" width="25.2" height="1.2" fill="#ffa9a9"/><rect x="533.1" y="453.8" width="25.2" height="1.2" fill="#ff9797"/><rect x="533.1" y="454.8" width="25.2" height="1.2" fill="#ff8a8a"/><rect x="533.1" y="455.8" width="25.2" height="1.2" fill="#ff7979"/><rect x="533.1" y="456.8" width="25.2" height="1.2" fill="#ff8181"/><rect x="533.1" y="457.8" width="25.2" height="1.2" fill="#ffa6a6"/><rect x="533.1" y="458.8" width="25.2" height="1.2" fill="#ff8a8a"/><rect x="533.1" y="459.8" width="25.2" height="1.2" fill="#ff7474"/><rect x="533.1" y="460.8" width="25.2" height="1.2" fill="#ff9090"/><rect x="533.1" y="461.8" width="25.2" height="1.2" fill="#ff7777"/><rect x="533.1" y="462.8" width="25.2" height="1.2" fill="#ff7a7a"/><rect x="533.1" y="463.8" width="25.2" height="1.2" fill="#ff6f6f"/><rect x="533.1" y="464.8" width="25.2" height="1.2" fill="#ff6868"/><rect x="533.1" y="465.8" width="25.2" height="1.2" fill="#ff8484"/><rect x="533.1" y="466.8" width="25.2" height="1.2" fill="#ff8f8f"/><rect x="533.1" y="467.8" width="25.2" height="1.2" fill="#ffaaaa"/><rect x="533.1" y="468.8" width="25.2" height="1.2" fill="#ff9d9d"/><rect x="533.1" y="469.8" width="25.2" height="1.2" fill="#ff9090"/><rect x="533.1" y="470.8" width="25.2" height="1.2" fill="#ff9b9b"/><rect x="533.1" y="471.8" width="25.2" height="1.2" fill="#ff9595"/><rect x="533.1" y="472.8" width="25.2" height="1.2" fill="#ff9696"/><rect x="533.1" y="473.8" width="25.2" height="1.2" fill="#ff8686"/><rect x="533.1" y="474.8" width="25.2" height="1.2" fill="#ff9f9f"/><rect x="533.1" y="475.8" width="25.2" height="1.2" fill="#ff8d8d"/><rect x="533.1" y="476.8" width="25.2" height="1.2" fill="#ff6c6c"/><rect x="533.1" y="477.8" width="25.2" height="1.2" fill="#ff2525"/><rect x="533.1" y="478.8" width="25.2" height="1.2" fill="#ff2020"/><rect x="533.1" y="479.8" width="25.2" height="1.2" fill="#ff1b1b"/><rect x="533.1" y="480.8" width="25.2" height="1.2" fill="#ff1515"/><rect x="533.1" y="481.8" width="25.2" height="1.2" fill="#ff1010"/></g><rect x="601.9" y="120.8" width="13" height="70" fill="url(#cb)"/><text x="616.9" y="120.3" font-family="Liberation Sans, sans-serif" font-size="11" textLength="26.8" lengthAdjust="spacingAndGlyphs">1.483</text><text x="616.4" y="155.6" font-family="Liberation Sans, sans-serif" font-size="11" textLength="27.2" lengthAdjust="spacingAndGlyphs">6.019</text><text x="615.4" y="190.8" font-family="Liberation Sans, sans-serif" font-size="11" textLength="30.8" lengthAdjust="spacingAndGlyphs">11.507</text><path d="M634,276.5 H647.5 V458.5 H622.6 M616.8,226.5 H634.5 V327.5 H607.8 M587.5,205.5 H616.5 V244.5 H593.3 M572,201.5 H587.5 V211.5 H575 M585.7,233.5 H593.5 V256.5 H571.5 M575.6,224.5 H585.5 V243.5 H576.3 M566,237.5 H576.5 V249.5 H566 M566,220.5 H575.5 V226.5 H566 M566,198.5 H572.5 V202.5 H566 M566,207.5 H575.5 V214.5 H566 M566,254.5 H571.5 V259.5 H566 M599.8,294.5 H607.5 V361.5 H589.6 M572,274.5 H599.5 V314.5 H585.2 M566,267.5 H572.5 V279.5 H566 M573.5,302.5 H585.5 V327.5 H572.5 M566,291.5 H573.5 V310.5 H569.4 M566,305.5 H569.5 V315.5 H566 M566,323.5 H572.5 V330.5 H566 M572,349.5 H589.5 V373.5 H571.5 M566,345.5 H572.5 V354.5 H566 M566,369.5 H571.5 V378.5 H566 M606.2,437.5 H622.5 V478.5 H592.8 M601.5,421.5 H606.5 V455.5 H580.8 M587.4,405.5 H601.5 V437.5 H584.8 M578.5,395.5 H587.5 V414.5 H571.5 M569.2,390.5 H578.5 V401.5 H573 M566,385.5 H569.5 V395.5 H566 M566,399.5 H573.5 V403.5 H566 M566,409.5 H571.5 V420.5 H566 M581.4,430.5 H584.5 V444.5 H569.4 M566,426.5 H581.5 V433.5 H566 M566,441.5 H569.5 V447.5 H566 M573.4,451.5 H580.5 V458.5 H574.1 M566,449.5 H573.5 V452.5 H566 M566,455.5 H574.5 V462.5 H566 M581.4,474.5 H592.5 V482.5 H566 M566,472.5 H581.5 V477.5 H566" stroke="#000" stroke-width="1.05" fill="none"/><path d="M565,203.5 H569.5 V206.5 H565 M565,209.5 H570.5 V212.5 H565 M565,214.5 H570.5 V216.5 H565 M565,217.5 H570.5 V222.5 H565 M565,225.5 H567.5 V227.5 H565 M565,228.5 H568.5 V231.5 H565 M565,233.5 H570.5 V236.5 H565 M565,239.5 H569.5 V242.5 H565 M565,252.5 H568.5 V255.5 H565 M565,262.5 H570.5 V267.5 H565 M565,284.5 H568.5 V286.5 H565 M565,287.5 H568.5 V292.5 H565 M565,294.5 H570.5 V296.5 H565 M565,299.5 H568.5 V301.5 H565 M565,303.5 H570.5 V308.5 H565 M565,317.5 H570.5 V318.5 H565 M565,320.5 H568.5 V324.5 H565 M565,326.5 H569.5 V327.5 H565 M565,335.5 H570.5 V339.5 H565 M565,340.5 H570.5 V345.5 H565 M565,347.5 H570.5 V351.5 H565 M565,355.5 H569.5 V359.5 H565 M565,360.5 H570.5 V362.5 H565 M565,365.5 H570.5 V368.5 H565 M565,370.5 H570.5 V372.5 H565 M565,373.5 H570.5 V377.5 H565 M565,379.5 H568.5 V383.5 H565 M565,385.5 H567.5 V388.5 H565 M565,390.5 H567.5 V394.5 H565 M565,397.5 H569.5 V402.5 H565 M565,405.5 H567.5 V407.5 H565 M565,411.5 H570.5 V415.5 H565 M565,418.5 H570.5 V421.5 H565 M565,450.5 H568.5 V454.5 H565 M565,469.5 H570.5 V472.5 H565 M565,475.5 H569.5 V477.5 H565 M565,479.5 H569.5 V482.5 H565" stroke="#000" stroke-width="1" fill="none"/><polygon points="558.6,195.6 565.5,195.6 565.9,196.0 565.3,197.2 566.8,198.5 565.3,200.1 567.3,201.2 565.3,203.7 567.3,205.3 565.3,207.2 565.7,209.1 565.3,211.1 567.3,213.3 565.3,216.3 566.6,217.7 565.3,219.6 566.4,220.6 565.3,223.5 566.9,225.7 565.3,228.8 565.7,230.1 565.3,232.2 565.8,233.5 565.3,235.5 566.4,237.3 565.3,239.2 567.5,241.4 565.3,243.5 565.4,244.4 565.3,247.4 566.9,248.2 565.3,250.6 567.0,251.9 565.3,253.2 566.3,254.2 565.3,255.4 565.8,257.6 565.3,259.1 566.7,260.0 565.3,262.1 566.7,264.0 565.3,266.8 566.8,269.2 565.3,270.8 565.7,272.4 565.3,273.6 566.9,275.2 565.3,276.8 566.1,278.1 565.3,280.7 566.7,282.3 565.3,285.1 567.0,286.5 565.3,289.5 567.4,290.5 565.3,293.1 566.3,294.2 565.3,296.6 566.1,299.0 565.3,301.3 567.1,303.6 565.3,306.7 566.7,308.3 565.3,309.9 567.1,311.9 565.3,314.4 565.8,316.4 565.3,319.4 567.5,321.9 565.3,324.1 566.0,326.3 565.3,329.3 566.1,331.6 565.3,332.9 566.5,334.5 565.3,337.2 565.4,338.8 565.3,341.7 567.1,342.6 565.3,344.1 567.0,345.5 565.3,347.0 566.4,348.0 565.3,350.7 566.8,352.9 565.3,356.0 567.4,357.6 565.3,359.0 566.5,360.2 565.3,362.0 566.7,364.0 565.3,366.2 566.5,368.5 565.3,370.3 567.2,371.7 565.3,374.7 567.2,375.9 565.3,379.0 566.6,380.7 565.3,382.3 566.4,384.0 565.3,386.4 567.4,387.3 565.3,389.5 567.1,391.0 565.3,393.3 566.8,395.0 565.3,396.3 566.2,398.0 565.3,401.1 565.9,403.5 565.3,405.6 566.3,406.7 565.3,409.5 566.3,411.8 565.3,413.7 566.7,414.8 565.3,417.8 567.0,418.9 565.3,420.1 565.8,421.2 565.3,423.8 566.1,425.2 565.3,427.6 566.9,428.6 565.3,430.0 565.9,431.7 565.3,433.3 566.3,435.0 565.3,436.9 566.5,438.4 565.3,440.0 566.7,441.1 565.3,443.6 567.2,445.3 565.3,447.7 565.8,450.0 565.3,452.6 567.3,454.8 565.3,456.6 567.3,458.0 565.3,459.6 567.3,462.1 565.3,463.6 566.9,464.8 565.3,466.5 567.1,467.5 565.3,469.5 565.6,471.7 565.3,473.7 565.3,475.6 565.3,477.2 567.3,479.2 565.3,482.3 565.3,484 558.6,484" fill="#000"/></svg></body></html>
